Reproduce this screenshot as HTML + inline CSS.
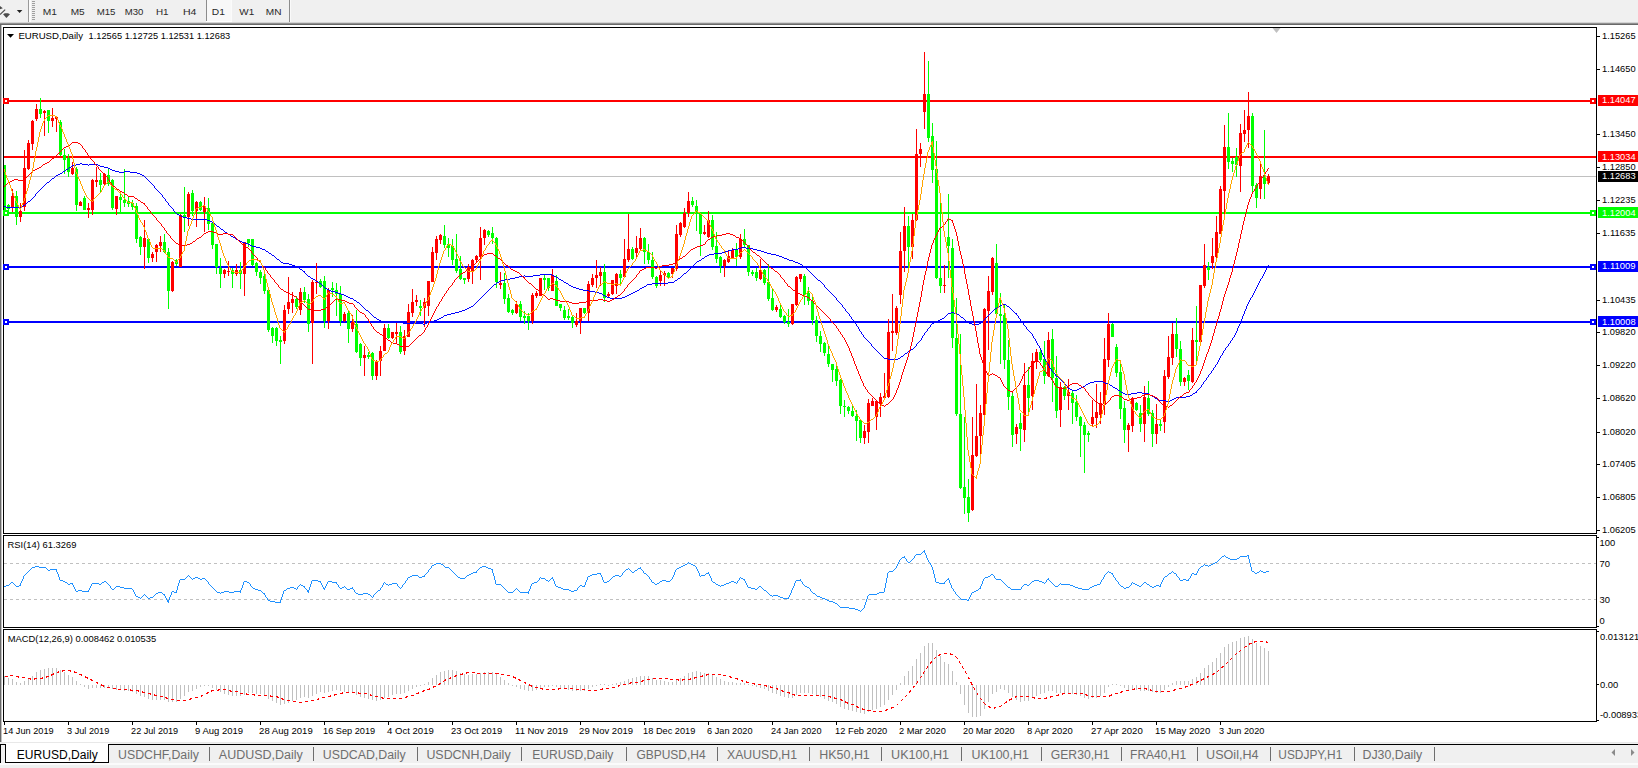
<!DOCTYPE html>
<html><head><meta charset="utf-8"><title>EURUSD,Daily</title>
<style>html,body{margin:0;padding:0;background:#fff;overflow:hidden}body{width:1638px;height:768px;font-family:"Liberation Sans",sans-serif}</style></head><body>
<svg width="1638" height="768" viewBox="0 0 1638 768" style="display:block;font-family:'Liberation Sans',sans-serif">
<rect width="1638" height="768" fill="#fff"/>
<g shape-rendering="crispEdges">
<rect x="4" y="176" width="1592" height="1" fill="#c0c0c0"/>
<rect x="4" y="100" width="1593" height="2" fill="#ff0000"/>
<rect x="4" y="156" width="1593" height="2" fill="#ff0000"/>
<rect x="4" y="212" width="1593" height="2" fill="#00ff00"/>
<rect x="4" y="266" width="1593" height="2" fill="#0000ff"/>
<rect x="4" y="321" width="1593" height="2" fill="#0000ff"/>
<rect x="4" y="165" width="1" height="50" fill="#00ff00"/>
<rect x="3" y="165" width="3" height="47" fill="#00ff00"/>
<rect x="8" y="204" width="1" height="8" fill="#00ff00"/>
<rect x="7" y="205" width="3" height="4" fill="#00ff00"/>
<rect x="12" y="189" width="1" height="23" fill="#ff0000"/>
<rect x="11" y="196" width="3" height="11" fill="#ff0000"/>
<rect x="16" y="191" width="1" height="34" fill="#00ff00"/>
<rect x="15" y="196" width="3" height="21" fill="#00ff00"/>
<rect x="20" y="203" width="1" height="19" fill="#ff0000"/>
<rect x="19" y="211" width="3" height="6" fill="#ff0000"/>
<rect x="24" y="150" width="1" height="61" fill="#ff0000"/>
<rect x="23" y="168" width="3" height="39" fill="#ff0000"/>
<rect x="28" y="140" width="1" height="30" fill="#ff0000"/>
<rect x="27" y="143" width="3" height="26" fill="#ff0000"/>
<rect x="32" y="120" width="1" height="30" fill="#ff0000"/>
<rect x="31" y="121" width="3" height="23" fill="#ff0000"/>
<rect x="36" y="104" width="1" height="17" fill="#ff0000"/>
<rect x="35" y="109" width="3" height="10" fill="#ff0000"/>
<rect x="40" y="98" width="1" height="20" fill="#00ff00"/>
<rect x="39" y="109" width="3" height="5" fill="#00ff00"/>
<rect x="44" y="110" width="1" height="26" fill="#ff0000"/>
<rect x="43" y="111" width="3" height="2" fill="#ff0000"/>
<rect x="48" y="110" width="1" height="23" fill="#00ff00"/>
<rect x="47" y="110" width="3" height="11" fill="#00ff00"/>
<rect x="52" y="108" width="1" height="19" fill="#ff0000"/>
<rect x="51" y="118" width="3" height="3" fill="#ff0000"/>
<rect x="56" y="117" width="1" height="15" fill="#ff0000"/>
<rect x="55" y="117" width="3" height="2" fill="#ff0000"/>
<rect x="60" y="120" width="1" height="36" fill="#00ff00"/>
<rect x="59" y="122" width="3" height="33" fill="#00ff00"/>
<rect x="64" y="149" width="1" height="25" fill="#00ff00"/>
<rect x="63" y="155" width="3" height="5" fill="#00ff00"/>
<rect x="68" y="154" width="1" height="23" fill="#00ff00"/>
<rect x="67" y="158" width="3" height="14" fill="#00ff00"/>
<rect x="72" y="162" width="1" height="13" fill="#ff0000"/>
<rect x="71" y="168" width="3" height="6" fill="#ff0000"/>
<rect x="76" y="167" width="1" height="44" fill="#00ff00"/>
<rect x="75" y="169" width="3" height="36" fill="#00ff00"/>
<rect x="80" y="201" width="1" height="5" fill="#ff0000"/>
<rect x="79" y="202" width="3" height="4" fill="#ff0000"/>
<rect x="84" y="196" width="1" height="14" fill="#00ff00"/>
<rect x="83" y="198" width="3" height="12" fill="#00ff00"/>
<rect x="88" y="203" width="1" height="15" fill="#ff0000"/>
<rect x="87" y="208" width="3" height="2" fill="#ff0000"/>
<rect x="92" y="179" width="1" height="36" fill="#ff0000"/>
<rect x="91" y="180" width="3" height="30" fill="#ff0000"/>
<rect x="96" y="167" width="1" height="20" fill="#ff0000"/>
<rect x="95" y="180" width="3" height="2" fill="#ff0000"/>
<rect x="100" y="173" width="1" height="19" fill="#00ff00"/>
<rect x="99" y="180" width="3" height="5" fill="#00ff00"/>
<rect x="104" y="173" width="1" height="13" fill="#ff0000"/>
<rect x="103" y="174" width="3" height="10" fill="#ff0000"/>
<rect x="108" y="168" width="1" height="18" fill="#00ff00"/>
<rect x="107" y="175" width="3" height="9" fill="#00ff00"/>
<rect x="112" y="179" width="1" height="31" fill="#00ff00"/>
<rect x="111" y="180" width="3" height="28" fill="#00ff00"/>
<rect x="116" y="196" width="1" height="19" fill="#ff0000"/>
<rect x="115" y="196" width="3" height="13" fill="#ff0000"/>
<rect x="120" y="191" width="1" height="21" fill="#00ff00"/>
<rect x="119" y="197" width="3" height="3" fill="#00ff00"/>
<rect x="124" y="169" width="1" height="38" fill="#00ff00"/>
<rect x="123" y="200" width="3" height="3" fill="#00ff00"/>
<rect x="128" y="197" width="1" height="10" fill="#00ff00"/>
<rect x="127" y="201" width="3" height="3" fill="#00ff00"/>
<rect x="132" y="200" width="1" height="10" fill="#00ff00"/>
<rect x="131" y="203" width="3" height="4" fill="#00ff00"/>
<rect x="136" y="203" width="1" height="40" fill="#00ff00"/>
<rect x="135" y="206" width="3" height="33" fill="#00ff00"/>
<rect x="140" y="236" width="1" height="19" fill="#00ff00"/>
<rect x="139" y="237" width="3" height="10" fill="#00ff00"/>
<rect x="144" y="220" width="1" height="49" fill="#ff0000"/>
<rect x="143" y="238" width="3" height="9" fill="#ff0000"/>
<rect x="148" y="239" width="1" height="24" fill="#00ff00"/>
<rect x="147" y="239" width="3" height="19" fill="#00ff00"/>
<rect x="152" y="252" width="1" height="10" fill="#ff0000"/>
<rect x="151" y="254" width="3" height="4" fill="#ff0000"/>
<rect x="156" y="244" width="1" height="18" fill="#ff0000"/>
<rect x="155" y="245" width="3" height="7" fill="#ff0000"/>
<rect x="160" y="236" width="1" height="16" fill="#ff0000"/>
<rect x="159" y="242" width="3" height="4" fill="#ff0000"/>
<rect x="164" y="234" width="1" height="19" fill="#00ff00"/>
<rect x="163" y="242" width="3" height="10" fill="#00ff00"/>
<rect x="168" y="248" width="1" height="61" fill="#00ff00"/>
<rect x="167" y="252" width="3" height="39" fill="#00ff00"/>
<rect x="172" y="261" width="1" height="31" fill="#ff0000"/>
<rect x="171" y="262" width="3" height="29" fill="#ff0000"/>
<rect x="176" y="259" width="1" height="7" fill="#00ff00"/>
<rect x="175" y="260" width="3" height="4" fill="#00ff00"/>
<rect x="180" y="214" width="1" height="53" fill="#ff0000"/>
<rect x="179" y="215" width="3" height="52" fill="#ff0000"/>
<rect x="184" y="187" width="1" height="45" fill="#00ff00"/>
<rect x="183" y="215" width="3" height="2" fill="#00ff00"/>
<rect x="188" y="192" width="1" height="34" fill="#ff0000"/>
<rect x="187" y="194" width="3" height="23" fill="#ff0000"/>
<rect x="192" y="190" width="1" height="26" fill="#00ff00"/>
<rect x="191" y="193" width="3" height="18" fill="#00ff00"/>
<rect x="196" y="201" width="1" height="26" fill="#ff0000"/>
<rect x="195" y="202" width="3" height="9" fill="#ff0000"/>
<rect x="200" y="201" width="1" height="10" fill="#00ff00"/>
<rect x="199" y="202" width="3" height="8" fill="#00ff00"/>
<rect x="204" y="197" width="1" height="35" fill="#ff0000"/>
<rect x="203" y="206" width="3" height="6" fill="#ff0000"/>
<rect x="208" y="198" width="1" height="32" fill="#00ff00"/>
<rect x="207" y="208" width="3" height="16" fill="#00ff00"/>
<rect x="212" y="222" width="1" height="27" fill="#00ff00"/>
<rect x="211" y="223" width="3" height="22" fill="#00ff00"/>
<rect x="216" y="244" width="1" height="30" fill="#00ff00"/>
<rect x="215" y="244" width="3" height="23" fill="#00ff00"/>
<rect x="220" y="258" width="1" height="30" fill="#00ff00"/>
<rect x="219" y="268" width="3" height="6" fill="#00ff00"/>
<rect x="224" y="269" width="1" height="9" fill="#ff0000"/>
<rect x="223" y="270" width="3" height="4" fill="#ff0000"/>
<rect x="228" y="261" width="1" height="15" fill="#ff0000"/>
<rect x="227" y="271" width="3" height="1" fill="#ff0000"/>
<rect x="232" y="268" width="1" height="20" fill="#00ff00"/>
<rect x="231" y="270" width="3" height="4" fill="#00ff00"/>
<rect x="236" y="264" width="1" height="12" fill="#ff0000"/>
<rect x="235" y="270" width="3" height="4" fill="#ff0000"/>
<rect x="240" y="262" width="1" height="27" fill="#00ff00"/>
<rect x="239" y="270" width="3" height="4" fill="#00ff00"/>
<rect x="244" y="242" width="1" height="54" fill="#ff0000"/>
<rect x="243" y="242" width="3" height="32" fill="#ff0000"/>
<rect x="248" y="239" width="1" height="8" fill="#00ff00"/>
<rect x="247" y="239" width="3" height="4" fill="#00ff00"/>
<rect x="252" y="239" width="1" height="27" fill="#00ff00"/>
<rect x="251" y="239" width="3" height="26" fill="#00ff00"/>
<rect x="256" y="262" width="1" height="14" fill="#00ff00"/>
<rect x="255" y="263" width="3" height="9" fill="#00ff00"/>
<rect x="260" y="270" width="1" height="14" fill="#00ff00"/>
<rect x="259" y="272" width="3" height="6" fill="#00ff00"/>
<rect x="264" y="271" width="1" height="23" fill="#00ff00"/>
<rect x="263" y="276" width="3" height="15" fill="#00ff00"/>
<rect x="268" y="290" width="1" height="42" fill="#00ff00"/>
<rect x="267" y="290" width="3" height="40" fill="#00ff00"/>
<rect x="272" y="327" width="1" height="16" fill="#00ff00"/>
<rect x="271" y="328" width="3" height="8" fill="#00ff00"/>
<rect x="276" y="327" width="1" height="19" fill="#00ff00"/>
<rect x="275" y="328" width="3" height="13" fill="#00ff00"/>
<rect x="280" y="336" width="1" height="28" fill="#00ff00"/>
<rect x="279" y="340" width="3" height="2" fill="#00ff00"/>
<rect x="284" y="305" width="1" height="39" fill="#ff0000"/>
<rect x="283" y="310" width="3" height="31" fill="#ff0000"/>
<rect x="288" y="277" width="1" height="37" fill="#ff0000"/>
<rect x="287" y="302" width="3" height="7" fill="#ff0000"/>
<rect x="292" y="292" width="1" height="21" fill="#ff0000"/>
<rect x="291" y="299" width="3" height="4" fill="#ff0000"/>
<rect x="296" y="296" width="1" height="13" fill="#00ff00"/>
<rect x="295" y="299" width="3" height="8" fill="#00ff00"/>
<rect x="300" y="288" width="1" height="27" fill="#ff0000"/>
<rect x="299" y="292" width="3" height="18" fill="#ff0000"/>
<rect x="304" y="287" width="1" height="16" fill="#00ff00"/>
<rect x="303" y="292" width="3" height="8" fill="#00ff00"/>
<rect x="308" y="294" width="1" height="38" fill="#00ff00"/>
<rect x="307" y="299" width="3" height="25" fill="#00ff00"/>
<rect x="312" y="280" width="1" height="84" fill="#ff0000"/>
<rect x="311" y="282" width="3" height="41" fill="#ff0000"/>
<rect x="316" y="263" width="1" height="31" fill="#ff0000"/>
<rect x="315" y="282" width="3" height="1" fill="#ff0000"/>
<rect x="320" y="279" width="1" height="9" fill="#00ff00"/>
<rect x="319" y="281" width="3" height="6" fill="#00ff00"/>
<rect x="324" y="276" width="1" height="52" fill="#00ff00"/>
<rect x="323" y="281" width="3" height="40" fill="#00ff00"/>
<rect x="328" y="288" width="1" height="41" fill="#ff0000"/>
<rect x="327" y="290" width="3" height="31" fill="#ff0000"/>
<rect x="332" y="282" width="1" height="15" fill="#00ff00"/>
<rect x="331" y="288" width="3" height="2" fill="#00ff00"/>
<rect x="336" y="283" width="1" height="33" fill="#00ff00"/>
<rect x="335" y="290" width="3" height="4" fill="#00ff00"/>
<rect x="340" y="286" width="1" height="40" fill="#00ff00"/>
<rect x="339" y="294" width="3" height="27" fill="#00ff00"/>
<rect x="344" y="312" width="1" height="10" fill="#ff0000"/>
<rect x="343" y="314" width="3" height="7" fill="#ff0000"/>
<rect x="348" y="311" width="1" height="32" fill="#00ff00"/>
<rect x="347" y="313" width="3" height="16" fill="#00ff00"/>
<rect x="352" y="315" width="1" height="17" fill="#ff0000"/>
<rect x="351" y="322" width="3" height="7" fill="#ff0000"/>
<rect x="356" y="310" width="1" height="43" fill="#00ff00"/>
<rect x="355" y="324" width="3" height="28" fill="#00ff00"/>
<rect x="360" y="343" width="1" height="23" fill="#00ff00"/>
<rect x="359" y="344" width="3" height="14" fill="#00ff00"/>
<rect x="364" y="346" width="1" height="30" fill="#ff0000"/>
<rect x="363" y="355" width="3" height="3" fill="#ff0000"/>
<rect x="368" y="352" width="1" height="7" fill="#00ff00"/>
<rect x="367" y="355" width="3" height="2" fill="#00ff00"/>
<rect x="372" y="352" width="1" height="28" fill="#00ff00"/>
<rect x="371" y="353" width="3" height="23" fill="#00ff00"/>
<rect x="376" y="360" width="1" height="20" fill="#ff0000"/>
<rect x="375" y="361" width="3" height="15" fill="#ff0000"/>
<rect x="380" y="346" width="1" height="30" fill="#ff0000"/>
<rect x="379" y="351" width="3" height="10" fill="#ff0000"/>
<rect x="384" y="324" width="1" height="27" fill="#ff0000"/>
<rect x="383" y="328" width="3" height="23" fill="#ff0000"/>
<rect x="388" y="324" width="1" height="15" fill="#00ff00"/>
<rect x="387" y="328" width="3" height="10" fill="#00ff00"/>
<rect x="392" y="332" width="1" height="7" fill="#ff0000"/>
<rect x="391" y="332" width="3" height="6" fill="#ff0000"/>
<rect x="396" y="323" width="1" height="21" fill="#ff0000"/>
<rect x="395" y="332" width="3" height="2" fill="#ff0000"/>
<rect x="400" y="326" width="1" height="28" fill="#00ff00"/>
<rect x="399" y="332" width="3" height="20" fill="#00ff00"/>
<rect x="404" y="330" width="1" height="25" fill="#ff0000"/>
<rect x="403" y="336" width="3" height="15" fill="#ff0000"/>
<rect x="408" y="304" width="1" height="33" fill="#ff0000"/>
<rect x="407" y="312" width="3" height="25" fill="#ff0000"/>
<rect x="412" y="289" width="1" height="28" fill="#ff0000"/>
<rect x="411" y="302" width="3" height="11" fill="#ff0000"/>
<rect x="416" y="295" width="1" height="11" fill="#ff0000"/>
<rect x="415" y="300" width="3" height="2" fill="#ff0000"/>
<rect x="420" y="300" width="1" height="16" fill="#00ff00"/>
<rect x="419" y="306" width="3" height="2" fill="#00ff00"/>
<rect x="424" y="298" width="1" height="29" fill="#ff0000"/>
<rect x="423" y="302" width="3" height="6" fill="#ff0000"/>
<rect x="428" y="281" width="1" height="35" fill="#ff0000"/>
<rect x="427" y="281" width="3" height="25" fill="#ff0000"/>
<rect x="432" y="247" width="1" height="35" fill="#ff0000"/>
<rect x="431" y="252" width="3" height="30" fill="#ff0000"/>
<rect x="436" y="236" width="1" height="24" fill="#ff0000"/>
<rect x="435" y="239" width="3" height="14" fill="#ff0000"/>
<rect x="440" y="234" width="1" height="10" fill="#ff0000"/>
<rect x="439" y="235" width="3" height="5" fill="#ff0000"/>
<rect x="444" y="225" width="1" height="23" fill="#00ff00"/>
<rect x="443" y="236" width="3" height="9" fill="#00ff00"/>
<rect x="448" y="238" width="1" height="19" fill="#00ff00"/>
<rect x="447" y="244" width="3" height="4" fill="#00ff00"/>
<rect x="452" y="239" width="1" height="26" fill="#00ff00"/>
<rect x="451" y="246" width="3" height="14" fill="#00ff00"/>
<rect x="456" y="234" width="1" height="39" fill="#00ff00"/>
<rect x="455" y="259" width="3" height="12" fill="#00ff00"/>
<rect x="460" y="256" width="1" height="24" fill="#00ff00"/>
<rect x="459" y="269" width="3" height="10" fill="#00ff00"/>
<rect x="464" y="278" width="1" height="6" fill="#00ff00"/>
<rect x="463" y="278" width="3" height="2" fill="#00ff00"/>
<rect x="468" y="264" width="1" height="18" fill="#ff0000"/>
<rect x="467" y="267" width="3" height="12" fill="#ff0000"/>
<rect x="472" y="259" width="1" height="25" fill="#ff0000"/>
<rect x="471" y="260" width="3" height="11" fill="#ff0000"/>
<rect x="476" y="255" width="1" height="7" fill="#ff0000"/>
<rect x="475" y="256" width="3" height="4" fill="#ff0000"/>
<rect x="480" y="227" width="1" height="53" fill="#ff0000"/>
<rect x="479" y="238" width="3" height="19" fill="#ff0000"/>
<rect x="484" y="229" width="1" height="16" fill="#ff0000"/>
<rect x="483" y="230" width="3" height="8" fill="#ff0000"/>
<rect x="488" y="230" width="1" height="7" fill="#00ff00"/>
<rect x="487" y="231" width="3" height="4" fill="#00ff00"/>
<rect x="492" y="227" width="1" height="17" fill="#00ff00"/>
<rect x="491" y="233" width="3" height="5" fill="#00ff00"/>
<rect x="496" y="237" width="1" height="51" fill="#00ff00"/>
<rect x="495" y="238" width="3" height="44" fill="#00ff00"/>
<rect x="500" y="272" width="1" height="17" fill="#ff0000"/>
<rect x="499" y="283" width="3" height="2" fill="#ff0000"/>
<rect x="504" y="273" width="1" height="31" fill="#00ff00"/>
<rect x="503" y="283" width="3" height="16" fill="#00ff00"/>
<rect x="508" y="294" width="1" height="19" fill="#00ff00"/>
<rect x="507" y="298" width="3" height="14" fill="#00ff00"/>
<rect x="512" y="309" width="1" height="6" fill="#00ff00"/>
<rect x="511" y="310" width="3" height="3" fill="#00ff00"/>
<rect x="516" y="301" width="1" height="13" fill="#ff0000"/>
<rect x="515" y="304" width="3" height="9" fill="#ff0000"/>
<rect x="520" y="301" width="1" height="20" fill="#00ff00"/>
<rect x="519" y="304" width="3" height="13" fill="#00ff00"/>
<rect x="524" y="311" width="1" height="13" fill="#00ff00"/>
<rect x="523" y="316" width="3" height="2" fill="#00ff00"/>
<rect x="528" y="313" width="1" height="17" fill="#00ff00"/>
<rect x="527" y="316" width="3" height="5" fill="#00ff00"/>
<rect x="532" y="293" width="1" height="31" fill="#ff0000"/>
<rect x="531" y="295" width="3" height="26" fill="#ff0000"/>
<rect x="536" y="291" width="1" height="7" fill="#ff0000"/>
<rect x="535" y="293" width="3" height="3" fill="#ff0000"/>
<rect x="540" y="278" width="1" height="18" fill="#ff0000"/>
<rect x="539" y="278" width="3" height="18" fill="#ff0000"/>
<rect x="544" y="275" width="1" height="15" fill="#00ff00"/>
<rect x="543" y="278" width="3" height="2" fill="#00ff00"/>
<rect x="548" y="278" width="1" height="13" fill="#00ff00"/>
<rect x="547" y="278" width="3" height="10" fill="#00ff00"/>
<rect x="552" y="269" width="1" height="22" fill="#ff0000"/>
<rect x="551" y="275" width="3" height="16" fill="#ff0000"/>
<rect x="556" y="275" width="1" height="31" fill="#00ff00"/>
<rect x="555" y="281" width="3" height="25" fill="#00ff00"/>
<rect x="560" y="304" width="1" height="7" fill="#00ff00"/>
<rect x="559" y="304" width="3" height="4" fill="#00ff00"/>
<rect x="564" y="306" width="1" height="14" fill="#00ff00"/>
<rect x="563" y="310" width="3" height="8" fill="#00ff00"/>
<rect x="568" y="309" width="1" height="11" fill="#00ff00"/>
<rect x="567" y="316" width="3" height="2" fill="#00ff00"/>
<rect x="572" y="316" width="1" height="12" fill="#00ff00"/>
<rect x="571" y="317" width="3" height="6" fill="#00ff00"/>
<rect x="576" y="313" width="1" height="14" fill="#ff0000"/>
<rect x="575" y="321" width="3" height="4" fill="#ff0000"/>
<rect x="580" y="308" width="1" height="26" fill="#ff0000"/>
<rect x="579" y="308" width="3" height="13" fill="#ff0000"/>
<rect x="584" y="308" width="1" height="6" fill="#00ff00"/>
<rect x="583" y="308" width="3" height="5" fill="#00ff00"/>
<rect x="588" y="281" width="1" height="40" fill="#ff0000"/>
<rect x="587" y="284" width="3" height="29" fill="#ff0000"/>
<rect x="592" y="274" width="1" height="13" fill="#ff0000"/>
<rect x="591" y="278" width="3" height="7" fill="#ff0000"/>
<rect x="596" y="260" width="1" height="28" fill="#ff0000"/>
<rect x="595" y="275" width="3" height="3" fill="#ff0000"/>
<rect x="600" y="267" width="1" height="19" fill="#ff0000"/>
<rect x="599" y="272" width="3" height="4" fill="#ff0000"/>
<rect x="604" y="264" width="1" height="38" fill="#00ff00"/>
<rect x="603" y="272" width="3" height="26" fill="#00ff00"/>
<rect x="608" y="292" width="1" height="6" fill="#ff0000"/>
<rect x="607" y="294" width="3" height="2" fill="#ff0000"/>
<rect x="612" y="280" width="1" height="15" fill="#ff0000"/>
<rect x="611" y="280" width="3" height="14" fill="#ff0000"/>
<rect x="616" y="273" width="1" height="21" fill="#ff0000"/>
<rect x="615" y="274" width="3" height="12" fill="#ff0000"/>
<rect x="620" y="270" width="1" height="14" fill="#00ff00"/>
<rect x="619" y="274" width="3" height="4" fill="#00ff00"/>
<rect x="624" y="239" width="1" height="39" fill="#ff0000"/>
<rect x="623" y="259" width="3" height="18" fill="#ff0000"/>
<rect x="628" y="214" width="1" height="48" fill="#ff0000"/>
<rect x="627" y="249" width="3" height="11" fill="#ff0000"/>
<rect x="632" y="247" width="1" height="13" fill="#00ff00"/>
<rect x="631" y="249" width="3" height="10" fill="#00ff00"/>
<rect x="636" y="236" width="1" height="21" fill="#ff0000"/>
<rect x="635" y="248" width="3" height="5" fill="#ff0000"/>
<rect x="640" y="228" width="1" height="22" fill="#ff0000"/>
<rect x="639" y="238" width="3" height="11" fill="#ff0000"/>
<rect x="644" y="237" width="1" height="27" fill="#00ff00"/>
<rect x="643" y="238" width="3" height="14" fill="#00ff00"/>
<rect x="648" y="244" width="1" height="20" fill="#00ff00"/>
<rect x="647" y="252" width="3" height="8" fill="#00ff00"/>
<rect x="652" y="252" width="1" height="27" fill="#00ff00"/>
<rect x="651" y="260" width="3" height="17" fill="#00ff00"/>
<rect x="656" y="276" width="1" height="12" fill="#00ff00"/>
<rect x="655" y="277" width="3" height="9" fill="#00ff00"/>
<rect x="660" y="270" width="1" height="16" fill="#ff0000"/>
<rect x="659" y="275" width="3" height="6" fill="#ff0000"/>
<rect x="664" y="271" width="1" height="15" fill="#ff0000"/>
<rect x="663" y="273" width="3" height="2" fill="#ff0000"/>
<rect x="668" y="272" width="1" height="6" fill="#00ff00"/>
<rect x="667" y="273" width="3" height="4" fill="#00ff00"/>
<rect x="672" y="268" width="1" height="10" fill="#ff0000"/>
<rect x="671" y="268" width="3" height="6" fill="#ff0000"/>
<rect x="676" y="225" width="1" height="46" fill="#ff0000"/>
<rect x="675" y="234" width="3" height="35" fill="#ff0000"/>
<rect x="680" y="222" width="1" height="15" fill="#ff0000"/>
<rect x="679" y="223" width="3" height="12" fill="#ff0000"/>
<rect x="684" y="208" width="1" height="20" fill="#ff0000"/>
<rect x="683" y="213" width="3" height="14" fill="#ff0000"/>
<rect x="688" y="192" width="1" height="25" fill="#ff0000"/>
<rect x="687" y="201" width="3" height="12" fill="#ff0000"/>
<rect x="692" y="197" width="1" height="10" fill="#00ff00"/>
<rect x="691" y="201" width="3" height="4" fill="#00ff00"/>
<rect x="696" y="200" width="1" height="31" fill="#00ff00"/>
<rect x="695" y="206" width="3" height="5" fill="#00ff00"/>
<rect x="700" y="212" width="1" height="44" fill="#00ff00"/>
<rect x="699" y="212" width="3" height="22" fill="#00ff00"/>
<rect x="704" y="225" width="1" height="10" fill="#ff0000"/>
<rect x="703" y="232" width="3" height="2" fill="#ff0000"/>
<rect x="708" y="211" width="1" height="27" fill="#ff0000"/>
<rect x="707" y="220" width="3" height="17" fill="#ff0000"/>
<rect x="712" y="215" width="1" height="35" fill="#00ff00"/>
<rect x="711" y="220" width="3" height="27" fill="#00ff00"/>
<rect x="716" y="232" width="1" height="31" fill="#00ff00"/>
<rect x="715" y="246" width="3" height="13" fill="#00ff00"/>
<rect x="720" y="256" width="1" height="17" fill="#00ff00"/>
<rect x="719" y="257" width="3" height="9" fill="#00ff00"/>
<rect x="724" y="259" width="1" height="18" fill="#ff0000"/>
<rect x="723" y="260" width="3" height="6" fill="#ff0000"/>
<rect x="728" y="251" width="1" height="12" fill="#ff0000"/>
<rect x="727" y="256" width="3" height="6" fill="#ff0000"/>
<rect x="732" y="248" width="1" height="11" fill="#ff0000"/>
<rect x="731" y="250" width="3" height="8" fill="#ff0000"/>
<rect x="736" y="243" width="1" height="23" fill="#00ff00"/>
<rect x="735" y="249" width="3" height="8" fill="#00ff00"/>
<rect x="740" y="234" width="1" height="25" fill="#ff0000"/>
<rect x="739" y="239" width="3" height="18" fill="#ff0000"/>
<rect x="744" y="229" width="1" height="18" fill="#00ff00"/>
<rect x="743" y="239" width="3" height="6" fill="#00ff00"/>
<rect x="748" y="245" width="1" height="31" fill="#00ff00"/>
<rect x="747" y="245" width="3" height="27" fill="#00ff00"/>
<rect x="752" y="270" width="1" height="6" fill="#00ff00"/>
<rect x="751" y="272" width="3" height="2" fill="#00ff00"/>
<rect x="756" y="268" width="1" height="13" fill="#00ff00"/>
<rect x="755" y="272" width="3" height="6" fill="#00ff00"/>
<rect x="760" y="259" width="1" height="21" fill="#ff0000"/>
<rect x="759" y="270" width="3" height="9" fill="#ff0000"/>
<rect x="764" y="269" width="1" height="16" fill="#00ff00"/>
<rect x="763" y="270" width="3" height="13" fill="#00ff00"/>
<rect x="768" y="264" width="1" height="37" fill="#00ff00"/>
<rect x="767" y="282" width="3" height="17" fill="#00ff00"/>
<rect x="772" y="289" width="1" height="22" fill="#00ff00"/>
<rect x="771" y="298" width="3" height="12" fill="#00ff00"/>
<rect x="776" y="305" width="1" height="7" fill="#ff0000"/>
<rect x="775" y="307" width="3" height="3" fill="#ff0000"/>
<rect x="780" y="304" width="1" height="14" fill="#00ff00"/>
<rect x="779" y="309" width="3" height="8" fill="#00ff00"/>
<rect x="784" y="315" width="1" height="9" fill="#00ff00"/>
<rect x="783" y="316" width="3" height="6" fill="#00ff00"/>
<rect x="788" y="309" width="1" height="18" fill="#00ff00"/>
<rect x="787" y="322" width="3" height="2" fill="#00ff00"/>
<rect x="792" y="304" width="1" height="21" fill="#ff0000"/>
<rect x="791" y="304" width="3" height="20" fill="#ff0000"/>
<rect x="796" y="276" width="1" height="30" fill="#ff0000"/>
<rect x="795" y="277" width="3" height="28" fill="#ff0000"/>
<rect x="800" y="274" width="1" height="8" fill="#ff0000"/>
<rect x="799" y="274" width="3" height="5" fill="#ff0000"/>
<rect x="804" y="274" width="1" height="31" fill="#00ff00"/>
<rect x="803" y="276" width="3" height="19" fill="#00ff00"/>
<rect x="808" y="287" width="1" height="18" fill="#00ff00"/>
<rect x="807" y="293" width="3" height="8" fill="#00ff00"/>
<rect x="812" y="297" width="1" height="28" fill="#00ff00"/>
<rect x="811" y="301" width="3" height="19" fill="#00ff00"/>
<rect x="816" y="316" width="1" height="26" fill="#00ff00"/>
<rect x="815" y="320" width="3" height="16" fill="#00ff00"/>
<rect x="820" y="331" width="1" height="21" fill="#00ff00"/>
<rect x="819" y="336" width="3" height="8" fill="#00ff00"/>
<rect x="824" y="342" width="1" height="14" fill="#00ff00"/>
<rect x="823" y="343" width="3" height="10" fill="#00ff00"/>
<rect x="828" y="346" width="1" height="21" fill="#00ff00"/>
<rect x="827" y="354" width="3" height="10" fill="#00ff00"/>
<rect x="832" y="364" width="1" height="18" fill="#00ff00"/>
<rect x="831" y="364" width="3" height="6" fill="#00ff00"/>
<rect x="836" y="364" width="1" height="22" fill="#00ff00"/>
<rect x="835" y="369" width="3" height="12" fill="#00ff00"/>
<rect x="840" y="379" width="1" height="35" fill="#00ff00"/>
<rect x="839" y="380" width="3" height="26" fill="#00ff00"/>
<rect x="844" y="400" width="1" height="17" fill="#00ff00"/>
<rect x="843" y="406" width="3" height="1" fill="#00ff00"/>
<rect x="848" y="406" width="1" height="8" fill="#00ff00"/>
<rect x="847" y="407" width="3" height="4" fill="#00ff00"/>
<rect x="852" y="406" width="1" height="11" fill="#00ff00"/>
<rect x="851" y="411" width="3" height="5" fill="#00ff00"/>
<rect x="856" y="410" width="1" height="31" fill="#00ff00"/>
<rect x="855" y="416" width="3" height="5" fill="#00ff00"/>
<rect x="860" y="419" width="1" height="24" fill="#00ff00"/>
<rect x="859" y="420" width="3" height="18" fill="#00ff00"/>
<rect x="864" y="425" width="1" height="19" fill="#ff0000"/>
<rect x="863" y="431" width="3" height="7" fill="#ff0000"/>
<rect x="868" y="399" width="1" height="44" fill="#ff0000"/>
<rect x="867" y="403" width="3" height="29" fill="#ff0000"/>
<rect x="872" y="398" width="1" height="8" fill="#ff0000"/>
<rect x="871" y="401" width="3" height="5" fill="#ff0000"/>
<rect x="876" y="400" width="1" height="30" fill="#ff0000"/>
<rect x="875" y="401" width="3" height="16" fill="#ff0000"/>
<rect x="880" y="393" width="1" height="24" fill="#ff0000"/>
<rect x="879" y="397" width="3" height="7" fill="#ff0000"/>
<rect x="884" y="373" width="1" height="26" fill="#ff0000"/>
<rect x="883" y="396" width="3" height="2" fill="#ff0000"/>
<rect x="888" y="319" width="1" height="79" fill="#ff0000"/>
<rect x="887" y="332" width="3" height="65" fill="#ff0000"/>
<rect x="892" y="294" width="1" height="57" fill="#ff0000"/>
<rect x="891" y="331" width="3" height="2" fill="#ff0000"/>
<rect x="896" y="306" width="1" height="29" fill="#ff0000"/>
<rect x="895" y="308" width="3" height="25" fill="#ff0000"/>
<rect x="900" y="232" width="1" height="72" fill="#ff0000"/>
<rect x="899" y="251" width="3" height="44" fill="#ff0000"/>
<rect x="904" y="207" width="1" height="65" fill="#ff0000"/>
<rect x="903" y="226" width="3" height="25" fill="#ff0000"/>
<rect x="908" y="216" width="1" height="54" fill="#00ff00"/>
<rect x="907" y="226" width="3" height="21" fill="#00ff00"/>
<rect x="912" y="214" width="1" height="45" fill="#ff0000"/>
<rect x="911" y="220" width="3" height="27" fill="#ff0000"/>
<rect x="916" y="129" width="1" height="92" fill="#ff0000"/>
<rect x="915" y="154" width="3" height="66" fill="#ff0000"/>
<rect x="920" y="143" width="1" height="24" fill="#ff0000"/>
<rect x="919" y="149" width="3" height="5" fill="#ff0000"/>
<rect x="924" y="52" width="1" height="77" fill="#ff0000"/>
<rect x="923" y="94" width="3" height="18" fill="#ff0000"/>
<rect x="928" y="61" width="1" height="81" fill="#00ff00"/>
<rect x="927" y="94" width="3" height="44" fill="#00ff00"/>
<rect x="932" y="123" width="1" height="60" fill="#00ff00"/>
<rect x="931" y="136" width="3" height="34" fill="#00ff00"/>
<rect x="936" y="141" width="1" height="138" fill="#00ff00"/>
<rect x="935" y="169" width="3" height="109" fill="#00ff00"/>
<rect x="940" y="199" width="1" height="94" fill="#00ff00"/>
<rect x="939" y="278" width="3" height="8" fill="#00ff00"/>
<rect x="944" y="265" width="1" height="28" fill="#ff0000"/>
<rect x="943" y="285" width="3" height="1" fill="#ff0000"/>
<rect x="948" y="194" width="1" height="84" fill="#00ff00"/>
<rect x="947" y="237" width="3" height="9" fill="#00ff00"/>
<rect x="952" y="239" width="1" height="109" fill="#00ff00"/>
<rect x="951" y="248" width="3" height="90" fill="#00ff00"/>
<rect x="956" y="298" width="1" height="118" fill="#00ff00"/>
<rect x="955" y="338" width="3" height="76" fill="#00ff00"/>
<rect x="960" y="334" width="1" height="155" fill="#00ff00"/>
<rect x="959" y="414" width="3" height="74" fill="#00ff00"/>
<rect x="964" y="417" width="1" height="97" fill="#00ff00"/>
<rect x="963" y="487" width="3" height="11" fill="#00ff00"/>
<rect x="968" y="479" width="1" height="43" fill="#00ff00"/>
<rect x="967" y="497" width="3" height="16" fill="#00ff00"/>
<rect x="972" y="417" width="1" height="94" fill="#ff0000"/>
<rect x="971" y="455" width="3" height="55" fill="#ff0000"/>
<rect x="976" y="384" width="1" height="73" fill="#ff0000"/>
<rect x="975" y="436" width="3" height="20" fill="#ff0000"/>
<rect x="980" y="405" width="1" height="53" fill="#ff0000"/>
<rect x="979" y="413" width="3" height="23" fill="#ff0000"/>
<rect x="984" y="308" width="1" height="109" fill="#ff0000"/>
<rect x="983" y="309" width="3" height="106" fill="#ff0000"/>
<rect x="988" y="276" width="1" height="74" fill="#ff0000"/>
<rect x="987" y="291" width="3" height="20" fill="#ff0000"/>
<rect x="992" y="257" width="1" height="38" fill="#ff0000"/>
<rect x="991" y="258" width="3" height="34" fill="#ff0000"/>
<rect x="996" y="244" width="1" height="71" fill="#00ff00"/>
<rect x="995" y="263" width="3" height="51" fill="#00ff00"/>
<rect x="1000" y="293" width="1" height="71" fill="#00ff00"/>
<rect x="999" y="314" width="3" height="2" fill="#00ff00"/>
<rect x="1004" y="304" width="1" height="65" fill="#00ff00"/>
<rect x="1003" y="315" width="3" height="45" fill="#00ff00"/>
<rect x="1008" y="340" width="1" height="70" fill="#00ff00"/>
<rect x="1007" y="360" width="3" height="37" fill="#00ff00"/>
<rect x="1012" y="392" width="1" height="55" fill="#00ff00"/>
<rect x="1011" y="396" width="3" height="39" fill="#00ff00"/>
<rect x="1016" y="424" width="1" height="20" fill="#ff0000"/>
<rect x="1015" y="427" width="3" height="7" fill="#ff0000"/>
<rect x="1020" y="413" width="1" height="38" fill="#00ff00"/>
<rect x="1019" y="423" width="3" height="6" fill="#00ff00"/>
<rect x="1024" y="363" width="1" height="79" fill="#ff0000"/>
<rect x="1023" y="385" width="3" height="45" fill="#ff0000"/>
<rect x="1028" y="367" width="1" height="49" fill="#00ff00"/>
<rect x="1027" y="385" width="3" height="13" fill="#00ff00"/>
<rect x="1032" y="353" width="1" height="57" fill="#ff0000"/>
<rect x="1031" y="361" width="3" height="35" fill="#ff0000"/>
<rect x="1036" y="349" width="1" height="20" fill="#ff0000"/>
<rect x="1035" y="352" width="3" height="10" fill="#ff0000"/>
<rect x="1040" y="350" width="1" height="12" fill="#00ff00"/>
<rect x="1039" y="352" width="3" height="8" fill="#00ff00"/>
<rect x="1044" y="341" width="1" height="43" fill="#00ff00"/>
<rect x="1043" y="359" width="3" height="17" fill="#00ff00"/>
<rect x="1048" y="332" width="1" height="45" fill="#ff0000"/>
<rect x="1047" y="340" width="3" height="36" fill="#ff0000"/>
<rect x="1052" y="329" width="1" height="73" fill="#00ff00"/>
<rect x="1051" y="339" width="3" height="39" fill="#00ff00"/>
<rect x="1056" y="356" width="1" height="62" fill="#00ff00"/>
<rect x="1055" y="378" width="3" height="33" fill="#00ff00"/>
<rect x="1060" y="382" width="1" height="45" fill="#ff0000"/>
<rect x="1059" y="387" width="3" height="23" fill="#ff0000"/>
<rect x="1064" y="386" width="1" height="14" fill="#00ff00"/>
<rect x="1063" y="387" width="3" height="9" fill="#00ff00"/>
<rect x="1068" y="379" width="1" height="31" fill="#ff0000"/>
<rect x="1067" y="392" width="3" height="4" fill="#ff0000"/>
<rect x="1072" y="390" width="1" height="34" fill="#00ff00"/>
<rect x="1071" y="393" width="3" height="10" fill="#00ff00"/>
<rect x="1076" y="395" width="1" height="26" fill="#00ff00"/>
<rect x="1075" y="402" width="3" height="15" fill="#00ff00"/>
<rect x="1080" y="416" width="1" height="41" fill="#00ff00"/>
<rect x="1079" y="417" width="3" height="9" fill="#00ff00"/>
<rect x="1084" y="422" width="1" height="51" fill="#00ff00"/>
<rect x="1083" y="425" width="3" height="10" fill="#00ff00"/>
<rect x="1088" y="431" width="1" height="11" fill="#00ff00"/>
<rect x="1087" y="433" width="3" height="2" fill="#00ff00"/>
<rect x="1092" y="400" width="1" height="27" fill="#ff0000"/>
<rect x="1091" y="417" width="3" height="7" fill="#ff0000"/>
<rect x="1096" y="384" width="1" height="44" fill="#ff0000"/>
<rect x="1095" y="412" width="3" height="6" fill="#ff0000"/>
<rect x="1100" y="392" width="1" height="32" fill="#ff0000"/>
<rect x="1099" y="403" width="3" height="12" fill="#ff0000"/>
<rect x="1104" y="338" width="1" height="77" fill="#ff0000"/>
<rect x="1103" y="359" width="3" height="45" fill="#ff0000"/>
<rect x="1108" y="313" width="1" height="54" fill="#ff0000"/>
<rect x="1107" y="324" width="3" height="36" fill="#ff0000"/>
<rect x="1112" y="323" width="1" height="14" fill="#00ff00"/>
<rect x="1111" y="324" width="3" height="13" fill="#00ff00"/>
<rect x="1116" y="344" width="1" height="33" fill="#00ff00"/>
<rect x="1115" y="347" width="3" height="26" fill="#00ff00"/>
<rect x="1120" y="362" width="1" height="57" fill="#00ff00"/>
<rect x="1119" y="372" width="3" height="37" fill="#00ff00"/>
<rect x="1124" y="401" width="1" height="42" fill="#00ff00"/>
<rect x="1123" y="408" width="3" height="22" fill="#00ff00"/>
<rect x="1128" y="423" width="1" height="29" fill="#ff0000"/>
<rect x="1127" y="425" width="3" height="5" fill="#ff0000"/>
<rect x="1132" y="397" width="1" height="35" fill="#ff0000"/>
<rect x="1131" y="398" width="3" height="28" fill="#ff0000"/>
<rect x="1136" y="402" width="1" height="9" fill="#00ff00"/>
<rect x="1135" y="403" width="3" height="7" fill="#00ff00"/>
<rect x="1140" y="405" width="1" height="27" fill="#00ff00"/>
<rect x="1139" y="413" width="3" height="11" fill="#00ff00"/>
<rect x="1144" y="386" width="1" height="56" fill="#ff0000"/>
<rect x="1143" y="397" width="3" height="27" fill="#ff0000"/>
<rect x="1148" y="381" width="1" height="35" fill="#00ff00"/>
<rect x="1147" y="398" width="3" height="16" fill="#00ff00"/>
<rect x="1152" y="410" width="1" height="37" fill="#00ff00"/>
<rect x="1151" y="413" width="3" height="21" fill="#00ff00"/>
<rect x="1156" y="404" width="1" height="40" fill="#ff0000"/>
<rect x="1155" y="424" width="3" height="10" fill="#ff0000"/>
<rect x="1160" y="420" width="1" height="11" fill="#00ff00"/>
<rect x="1159" y="424" width="3" height="2" fill="#00ff00"/>
<rect x="1164" y="370" width="1" height="63" fill="#ff0000"/>
<rect x="1163" y="376" width="3" height="46" fill="#ff0000"/>
<rect x="1168" y="336" width="1" height="43" fill="#ff0000"/>
<rect x="1167" y="357" width="3" height="20" fill="#ff0000"/>
<rect x="1172" y="323" width="1" height="42" fill="#ff0000"/>
<rect x="1171" y="334" width="3" height="24" fill="#ff0000"/>
<rect x="1176" y="318" width="1" height="39" fill="#00ff00"/>
<rect x="1175" y="334" width="3" height="15" fill="#00ff00"/>
<rect x="1180" y="341" width="1" height="45" fill="#00ff00"/>
<rect x="1179" y="349" width="3" height="33" fill="#00ff00"/>
<rect x="1184" y="377" width="1" height="9" fill="#ff0000"/>
<rect x="1183" y="378" width="3" height="4" fill="#ff0000"/>
<rect x="1188" y="370" width="1" height="20" fill="#00ff00"/>
<rect x="1187" y="375" width="3" height="6" fill="#00ff00"/>
<rect x="1192" y="328" width="1" height="55" fill="#ff0000"/>
<rect x="1191" y="340" width="3" height="42" fill="#ff0000"/>
<rect x="1196" y="306" width="1" height="55" fill="#00ff00"/>
<rect x="1195" y="340" width="3" height="2" fill="#00ff00"/>
<rect x="1200" y="285" width="1" height="57" fill="#ff0000"/>
<rect x="1199" y="285" width="3" height="57" fill="#ff0000"/>
<rect x="1204" y="244" width="1" height="44" fill="#ff0000"/>
<rect x="1203" y="265" width="3" height="21" fill="#ff0000"/>
<rect x="1208" y="262" width="1" height="18" fill="#00ff00"/>
<rect x="1207" y="267" width="3" height="3" fill="#00ff00"/>
<rect x="1212" y="238" width="1" height="31" fill="#ff0000"/>
<rect x="1211" y="256" width="3" height="7" fill="#ff0000"/>
<rect x="1216" y="216" width="1" height="43" fill="#ff0000"/>
<rect x="1215" y="232" width="3" height="25" fill="#ff0000"/>
<rect x="1220" y="186" width="1" height="48" fill="#ff0000"/>
<rect x="1219" y="189" width="3" height="45" fill="#ff0000"/>
<rect x="1224" y="125" width="1" height="92" fill="#ff0000"/>
<rect x="1223" y="147" width="3" height="44" fill="#ff0000"/>
<rect x="1228" y="113" width="1" height="56" fill="#00ff00"/>
<rect x="1227" y="147" width="3" height="15" fill="#00ff00"/>
<rect x="1232" y="158" width="1" height="14" fill="#00ff00"/>
<rect x="1231" y="161" width="3" height="3" fill="#00ff00"/>
<rect x="1236" y="148" width="1" height="29" fill="#00ff00"/>
<rect x="1235" y="157" width="3" height="8" fill="#00ff00"/>
<rect x="1240" y="124" width="1" height="68" fill="#ff0000"/>
<rect x="1239" y="133" width="3" height="33" fill="#ff0000"/>
<rect x="1244" y="110" width="1" height="32" fill="#ff0000"/>
<rect x="1243" y="130" width="3" height="4" fill="#ff0000"/>
<rect x="1248" y="92" width="1" height="56" fill="#ff0000"/>
<rect x="1247" y="116" width="3" height="14" fill="#ff0000"/>
<rect x="1252" y="113" width="1" height="79" fill="#00ff00"/>
<rect x="1251" y="116" width="3" height="70" fill="#00ff00"/>
<rect x="1256" y="183" width="1" height="25" fill="#00ff00"/>
<rect x="1255" y="185" width="3" height="13" fill="#00ff00"/>
<rect x="1260" y="163" width="1" height="36" fill="#ff0000"/>
<rect x="1259" y="176" width="3" height="13" fill="#ff0000"/>
<rect x="1264" y="130" width="1" height="69" fill="#00ff00"/>
<rect x="1263" y="175" width="3" height="9" fill="#00ff00"/>
<rect x="1268" y="174" width="1" height="11" fill="#ff0000"/>
<rect x="1267" y="176" width="3" height="7" fill="#ff0000"/>
</g>
<path d="M4.5 206v1M5.5 206v1M6.5 207v1M7.5 207v1M8.5 207v1M9.5 207v1M10.5 207v1M11.5 207v1M12.5 207v1M13.5 207v1M14.5 207v1M15.5 207v1M16.5 207v1M17.5 207v1M18.5 207v1M19.5 207v1M20.5 207v1M21.5 206v1M22.5 206v1M23.5 205v1M24.5 205v1M25.5 204v1M26.5 203v1M27.5 202v1M28.5 201v1M29.5 201v1M30.5 200v1M31.5 199v1M32.5 198v1M33.5 197v1M34.5 196v1M35.5 194v2M36.5 193v1M37.5 192v1M38.5 191v1M39.5 190v1M40.5 189v1M41.5 188v1M42.5 187v1M43.5 186v1M44.5 185v1M45.5 184v1M46.5 183v1M47.5 182v1M48.5 182v1M49.5 181v1M50.5 180v1M51.5 179v1M52.5 178v1M53.5 178v1M54.5 177v1M55.5 176v1M56.5 175v1M57.5 175v1M58.5 174v1M59.5 174v1M60.5 173v1M61.5 173v1M62.5 172v1M63.5 171v1M64.5 171v1M65.5 170v1M66.5 169v1M67.5 169v1M68.5 168v1M69.5 167v1M70.5 167v1M71.5 166v1M72.5 165v1M73.5 165v1M74.5 165v1M75.5 165v1M76.5 164v1M77.5 164v1M78.5 164v1M79.5 164v1M80.5 163v1M81.5 163v1M82.5 164v1M83.5 164v1M84.5 164v1M85.5 164v1M86.5 164v1M87.5 164v1M88.5 165v1M89.5 164v1M90.5 164v1M91.5 164v1M92.5 164v1M93.5 164v1M94.5 164v1M95.5 164v1M96.5 164v1M97.5 164v1M98.5 165v1M99.5 165v1M100.5 166v1M101.5 166v1M102.5 166v1M103.5 166v1M104.5 167v1M105.5 167v1M106.5 167v1M107.5 167v1M108.5 168v1M109.5 168v1M110.5 169v1M111.5 169v1M112.5 170v1M113.5 170v1M114.5 170v1M115.5 171v1M116.5 171v1M117.5 171v1M118.5 171v1M119.5 172v1M120.5 172v1M121.5 172v1M122.5 172v1M123.5 172v1M124.5 171v1M125.5 171v1M126.5 171v1M127.5 171v1M128.5 171v1M129.5 171v1M130.5 172v1M131.5 172v1M132.5 172v1M133.5 172v1M134.5 172v1M135.5 172v1M136.5 172v1M137.5 173v1M138.5 173v1M139.5 173v1M140.5 174v1M141.5 174v1M142.5 175v1M143.5 175v1M144.5 176v1M145.5 177v1M146.5 178v1M147.5 179v1M148.5 180v1M149.5 181v1M150.5 182v1M151.5 183v1M152.5 184v1M153.5 185v1M154.5 186v2M155.5 188v1M156.5 189v1M157.5 190v1M158.5 191v1M159.5 192v1M160.5 193v1M161.5 194v1M162.5 195v2M163.5 197v1M164.5 198v1M165.5 199v2M166.5 201v1M167.5 202v1M168.5 203v2M169.5 205v1M170.5 206v1M171.5 207v1M172.5 208v1M173.5 209v2M174.5 211v1M175.5 212v1M176.5 213v1M177.5 214v1M178.5 214v1M179.5 215v1M180.5 215v1M181.5 216v1M182.5 216v1M183.5 217v1M184.5 217v1M185.5 217v1M186.5 217v1M187.5 218v1M188.5 218v1M189.5 218v1M190.5 218v1M191.5 219v1M192.5 219v1M193.5 219v1M194.5 219v1M195.5 219v1M196.5 219v1M197.5 219v1M198.5 219v1M199.5 219v1M200.5 219v1M201.5 219v1M202.5 219v1M203.5 219v1M204.5 219v1M205.5 219v1M206.5 219v1M207.5 220v1M208.5 220v1M209.5 220v1M210.5 221v1M211.5 221v1M212.5 222v1M213.5 223v1M214.5 223v1M215.5 224v1M216.5 225v1M217.5 226v1M218.5 226v1M219.5 227v1M220.5 228v1M221.5 229v1M222.5 229v1M223.5 230v1M224.5 231v1M225.5 232v1M226.5 232v1M227.5 233v1M228.5 234v1M229.5 234v1M230.5 235v1M231.5 236v1M232.5 236v1M233.5 237v1M234.5 237v1M235.5 238v1M236.5 239v1M237.5 239v1M238.5 240v1M239.5 240v1M240.5 241v1M241.5 241v1M242.5 242v1M243.5 242v1M244.5 242v1M245.5 243v1M246.5 243v1M247.5 243v1M248.5 244v1M249.5 244v1M250.5 245v1M251.5 245v1M252.5 246v1M253.5 246v1M254.5 246v1M255.5 246v1M256.5 247v1M257.5 247v1M258.5 247v1M259.5 247v1M260.5 248v1M261.5 248v1M262.5 249v1M263.5 249v1M264.5 249v1M265.5 250v1M266.5 251v1M267.5 251v1M268.5 252v1M269.5 253v1M270.5 253v1M271.5 254v1M272.5 255v1M273.5 255v1M274.5 256v1M275.5 257v1M276.5 258v1M277.5 259v1M278.5 259v1M279.5 260v1M280.5 261v1M281.5 262v1M282.5 262v1M283.5 263v1M284.5 263v1M285.5 263v1M286.5 263v1M287.5 263v1M288.5 263v1M289.5 264v1M290.5 264v1M291.5 264v1M292.5 265v1M293.5 265v1M294.5 265v1M295.5 266v1M296.5 266v1M297.5 267v1M298.5 267v1M299.5 268v1M300.5 269v1M301.5 269v1M302.5 270v1M303.5 271v1M304.5 271v2M305.5 273v1M306.5 274v1M307.5 275v1M308.5 276v1M309.5 276v1M310.5 277v1M311.5 278v1M312.5 278v1M313.5 279v1M314.5 279v1M315.5 280v1M316.5 281v1M317.5 281v1M318.5 282v1M319.5 283v1M320.5 283v1M321.5 284v1M322.5 285v1M323.5 286v1M324.5 287v1M325.5 288v1M326.5 288v1M327.5 289v1M328.5 289v1M329.5 290v1M330.5 290v1M331.5 291v1M332.5 291v1M333.5 291v1M334.5 291v1M335.5 292v1M336.5 292v1M337.5 292v1M338.5 293v1M339.5 293v1M340.5 293v1M341.5 294v1M342.5 294v1M343.5 294v1M344.5 295v1M345.5 295v1M346.5 296v1M347.5 296v1M348.5 297v1M349.5 297v1M350.5 298v1M351.5 298v1M352.5 298v1M353.5 299v1M354.5 300v1M355.5 300v1M356.5 301v1M357.5 302v1M358.5 302v1M359.5 303v1M360.5 304v1M361.5 305v1M362.5 306v1M363.5 307v1M364.5 308v1M365.5 309v1M366.5 310v1M367.5 310v1M368.5 311v1M369.5 312v1M370.5 313v1M371.5 314v1M372.5 315v1M373.5 316v1M374.5 317v1M375.5 317v1M376.5 318v1M377.5 319v1M378.5 319v1M379.5 320v1M380.5 320v1M381.5 321v1M382.5 321v1M383.5 321v1M384.5 322v1M385.5 322v1M386.5 322v1M387.5 322v1M388.5 322v1M389.5 322v1M390.5 322v1M391.5 322v1M392.5 322v1M393.5 322v1M394.5 322v1M395.5 322v1M396.5 322v1M397.5 322v1M398.5 322v1M399.5 322v1M400.5 322v1M401.5 322v1M402.5 322v1M403.5 323v1M404.5 323v1M405.5 323v1M406.5 323v1M407.5 323v1M408.5 323v1M409.5 323v1M410.5 323v1M411.5 323v1M412.5 323v1M413.5 323v1M414.5 323v1M415.5 323v1M416.5 323v1M417.5 323v1M418.5 323v1M419.5 323v1M420.5 323v1M421.5 323v1M422.5 323v1M423.5 324v1M424.5 324v1M425.5 323v1M426.5 323v1M427.5 322v1M428.5 322v1M429.5 322v1M430.5 322v1M431.5 321v1M432.5 321v1M433.5 321v1M434.5 320v1M435.5 320v1M436.5 320v1M437.5 319v1M438.5 319v1M439.5 318v1M440.5 318v1M441.5 317v1M442.5 317v1M443.5 316v1M444.5 315v1M445.5 315v1M446.5 315v1M447.5 314v1M448.5 314v1M449.5 314v1M450.5 314v1M451.5 313v1M452.5 313v1M453.5 313v1M454.5 313v1M455.5 312v1M456.5 312v1M457.5 312v1M458.5 312v1M459.5 311v1M460.5 311v1M461.5 311v1M462.5 310v1M463.5 310v1M464.5 310v1M465.5 309v1M466.5 309v1M467.5 308v1M468.5 308v1M469.5 307v1M470.5 307v1M471.5 306v1M472.5 306v1M473.5 305v1M474.5 304v1M475.5 303v1M476.5 302v1M477.5 301v1M478.5 300v1M479.5 299v1M480.5 298v1M481.5 297v1M482.5 296v1M483.5 295v1M484.5 294v1M485.5 293v1M486.5 292v1M487.5 291v1M488.5 290v1M489.5 289v1M490.5 288v1M491.5 287v1M492.5 286v1M493.5 285v1M494.5 284v1M495.5 284v1M496.5 283v1M497.5 282v1M498.5 282v1M499.5 281v1M500.5 281v1M501.5 280v1M502.5 280v1M503.5 280v1M504.5 280v1M505.5 279v1M506.5 279v1M507.5 279v1M508.5 279v1M509.5 279v1M510.5 278v1M511.5 278v1M512.5 278v1M513.5 278v1M514.5 278v1M515.5 277v1M516.5 277v1M517.5 277v1M518.5 277v1M519.5 276v1M520.5 276v1M521.5 276v1M522.5 276v1M523.5 276v1M524.5 275v1M525.5 276v1M526.5 276v1M527.5 276v1M528.5 276v1M529.5 276v1M530.5 276v1M531.5 276v1M532.5 276v1M533.5 275v1M534.5 275v1M535.5 275v1M536.5 275v1M537.5 275v1M538.5 275v1M539.5 275v1M540.5 274v1M541.5 274v1M542.5 274v1M543.5 274v1M544.5 274v1M545.5 274v1M546.5 274v1M547.5 274v1M548.5 274v1M549.5 274v1M550.5 274v1M551.5 274v1M552.5 275v1M553.5 275v1M554.5 276v1M555.5 276v1M556.5 277v1M557.5 277v1M558.5 278v1M559.5 279v1M560.5 279v1M561.5 280v1M562.5 280v1M563.5 281v1M564.5 282v1M565.5 282v1M566.5 283v1M567.5 283v1M568.5 284v1M569.5 285v1M570.5 285v1M571.5 286v1M572.5 286v1M573.5 287v1M574.5 287v1M575.5 287v1M576.5 288v1M577.5 288v1M578.5 288v1M579.5 289v1M580.5 289v1M581.5 289v1M582.5 289v1M583.5 290v1M584.5 290v1M585.5 290v1M586.5 290v1M587.5 290v1M588.5 290v1M589.5 291v1M590.5 291v1M591.5 291v1M592.5 291v1M593.5 291v1M594.5 291v1M595.5 292v1M596.5 292v1M597.5 292v1M598.5 292v1M599.5 293v1M600.5 293v1M601.5 293v1M602.5 294v1M603.5 295v1M604.5 295v1M605.5 296v1M606.5 296v1M607.5 297v1M608.5 297v1M609.5 297v1M610.5 298v1M611.5 298v1M612.5 298v1M613.5 298v1M614.5 298v1M615.5 298v1M616.5 298v1M617.5 298v1M618.5 298v1M619.5 298v1M620.5 298v1M621.5 298v1M622.5 297v1M623.5 297v1M624.5 297v1M625.5 296v1M626.5 296v1M627.5 295v1M628.5 295v1M629.5 294v1M630.5 294v1M631.5 293v1M632.5 293v1M633.5 292v1M634.5 292v1M635.5 291v1M636.5 291v1M637.5 290v1M638.5 290v1M639.5 289v1M640.5 288v1M641.5 288v1M642.5 287v1M643.5 287v1M644.5 286v1M645.5 286v1M646.5 285v1M647.5 284v1M648.5 284v1M649.5 284v1M650.5 284v1M651.5 284v1M652.5 283v1M653.5 283v1M654.5 283v1M655.5 283v1M656.5 283v1M657.5 283v1M658.5 283v1M659.5 283v1M660.5 283v1M661.5 283v1M662.5 283v1M663.5 283v1M664.5 283v1M665.5 283v1M666.5 283v1M667.5 283v1M668.5 282v1M669.5 282v1M670.5 282v1M671.5 282v1M672.5 282v1M673.5 282v1M674.5 281v1M675.5 280v1M676.5 280v1M677.5 279v1M678.5 278v1M679.5 278v1M680.5 277v1M681.5 276v1M682.5 275v1M683.5 274v1M684.5 273v1M685.5 273v1M686.5 272v1M687.5 271v1M688.5 270v1M689.5 269v1M690.5 268v1M691.5 267v1M692.5 266v1M693.5 265v1M694.5 264v1M695.5 263v1M696.5 262v1M697.5 261v1M698.5 261v1M699.5 260v1M700.5 260v1M701.5 259v1M702.5 258v1M703.5 258v1M704.5 257v1M705.5 256v1M706.5 256v1M707.5 255v1M708.5 255v1M709.5 254v1M710.5 254v1M711.5 254v1M712.5 254v1M713.5 254v1M714.5 253v1M715.5 253v1M716.5 253v1M717.5 253v1M718.5 253v1M719.5 253v1M720.5 253v1M721.5 253v1M722.5 252v1M723.5 252v1M724.5 252v1M725.5 251v1M726.5 251v1M727.5 251v1M728.5 250v1M729.5 250v1M730.5 250v1M731.5 250v1M732.5 249v1M733.5 249v1M734.5 249v1M735.5 249v1M736.5 249v1M737.5 249v1M738.5 248v1M739.5 248v1M740.5 248v1M741.5 247v1M742.5 247v1M743.5 247v1M744.5 247v1M745.5 247v1M746.5 248v1M747.5 248v1M748.5 248v1M749.5 248v1M750.5 248v1M751.5 248v1M752.5 248v1M753.5 249v1M754.5 249v1M755.5 249v1M756.5 249v1M757.5 250v1M758.5 250v1M759.5 250v1M760.5 250v1M761.5 251v1M762.5 251v1M763.5 251v1M764.5 252v1M765.5 252v1M766.5 252v1M767.5 253v1M768.5 253v1M769.5 253v1M770.5 253v1M771.5 254v1M772.5 254v1M773.5 254v1M774.5 254v1M775.5 254v1M776.5 255v1M777.5 255v1M778.5 255v1M779.5 256v1M780.5 256v1M781.5 256v1M782.5 257v1M783.5 257v1M784.5 258v1M785.5 258v1M786.5 258v1M787.5 259v1M788.5 259v1M789.5 260v1M790.5 260v1M791.5 260v1M792.5 260v1M793.5 261v1M794.5 261v1M795.5 262v1M796.5 262v1M797.5 262v1M798.5 263v1M799.5 263v1M800.5 264v1M801.5 264v1M802.5 265v1M803.5 266v1M804.5 266v1M805.5 267v1M806.5 268v1M807.5 269v1M808.5 270v1M809.5 271v1M810.5 272v1M811.5 273v1M812.5 274v1M813.5 275v1M814.5 276v1M815.5 277v1M816.5 278v1M817.5 279v1M818.5 280v1M819.5 280v1M820.5 281v1M821.5 282v1M822.5 283v1M823.5 284v1M824.5 285v2M825.5 287v1M826.5 288v1M827.5 289v1M828.5 290v1M829.5 291v1M830.5 292v1M831.5 293v1M832.5 294v1M833.5 295v1M834.5 296v1M835.5 297v1M836.5 298v2M837.5 300v1M838.5 301v1M839.5 302v1M840.5 303v1M841.5 304v1M842.5 305v2M843.5 307v1M844.5 308v1M845.5 309v2M846.5 311v1M847.5 312v1M848.5 313v1M849.5 314v2M850.5 316v1M851.5 317v2M852.5 319v1M853.5 320v1M854.5 321v2M855.5 323v1M856.5 324v2M857.5 326v1M858.5 327v2M859.5 329v2M860.5 331v1M861.5 332v2M862.5 334v1M863.5 335v2M864.5 337v1M865.5 338v1M866.5 339v1M867.5 340v1M868.5 341v1M869.5 342v1M870.5 343v1M871.5 344v2M872.5 346v1M873.5 347v1M874.5 348v1M875.5 349v1M876.5 350v1M877.5 351v1M878.5 352v1M879.5 353v1M880.5 354v1M881.5 355v1M882.5 356v1M883.5 357v1M884.5 358v1M885.5 358v1M886.5 358v1M887.5 358v1M888.5 359v1M889.5 359v1M890.5 359v1M891.5 359v1M892.5 359v1M893.5 359v1M894.5 359v1M895.5 359v1M896.5 359v1M897.5 359v1M898.5 358v1M899.5 358v1M900.5 357v1M901.5 356v1M902.5 356v1M903.5 355v1M904.5 354v1M905.5 353v1M906.5 353v1M907.5 352v1M908.5 351v1M909.5 351v1M910.5 350v1M911.5 349v1M912.5 349v1M913.5 348v1M914.5 347v1M915.5 346v1M916.5 344v2M917.5 343v1M918.5 342v1M919.5 341v1M920.5 340v1M921.5 338v2M922.5 336v2M923.5 335v1M924.5 333v2M925.5 332v1M926.5 331v1M927.5 329v2M928.5 328v1M929.5 327v1M930.5 325v2M931.5 324v1M932.5 323v1M933.5 323v1M934.5 322v1M935.5 322v1M936.5 321v1M937.5 321v1M938.5 320v1M939.5 320v1M940.5 319v1M941.5 319v1M942.5 318v1M943.5 318v1M944.5 317v1M945.5 316v1M946.5 315v1M947.5 314v1M948.5 313v1M949.5 313v1M950.5 313v1M951.5 312v1M952.5 312v1M953.5 312v1M954.5 313v1M955.5 313v1M956.5 313v1M957.5 314v1M958.5 314v1M959.5 315v1M960.5 316v1M961.5 317v1M962.5 317v1M963.5 318v1M964.5 319v1M965.5 320v1M966.5 321v1M967.5 321v1M968.5 322v1M969.5 323v1M970.5 323v1M971.5 323v1M972.5 324v1M973.5 324v1M974.5 324v1M975.5 324v1M976.5 324v1M977.5 324v1M978.5 324v1M979.5 323v1M980.5 323v1M981.5 322v1M982.5 321v1M983.5 320v1M984.5 319v1M985.5 318v1M986.5 317v1M987.5 316v1M988.5 315v1M989.5 314v1M990.5 313v1M991.5 312v1M992.5 311v1M993.5 310v1M994.5 309v1M995.5 308v1M996.5 308v1M997.5 307v1M998.5 306v1M999.5 306v1M1000.5 305v1M1001.5 305v1M1002.5 304v1M1003.5 304v1M1004.5 304v1M1005.5 304v1M1006.5 305v1M1007.5 306v1M1008.5 306v1M1009.5 307v1M1010.5 308v1M1011.5 309v1M1012.5 310v1M1013.5 311v1M1014.5 312v1M1015.5 313v1M1016.5 313v2M1017.5 315v1M1018.5 316v2M1019.5 318v1M1020.5 319v2M1021.5 321v1M1022.5 322v1M1023.5 323v2M1024.5 325v1M1025.5 326v1M1026.5 327v2M1027.5 329v1M1028.5 330v1M1029.5 331v1M1030.5 332v1M1031.5 333v1M1032.5 334v2M1033.5 336v2M1034.5 338v1M1035.5 339v2M1036.5 341v2M1037.5 343v2M1038.5 345v1M1039.5 346v2M1040.5 348v2M1041.5 350v3M1042.5 353v2M1043.5 355v2M1044.5 357v2M1045.5 359v2M1046.5 361v2M1047.5 363v1M1048.5 364v2M1049.5 366v2M1050.5 368v1M1051.5 369v2M1052.5 371v1M1053.5 372v1M1054.5 373v1M1055.5 374v2M1056.5 376v1M1057.5 376v1M1058.5 377v1M1059.5 378v1M1060.5 379v1M1061.5 380v1M1062.5 381v1M1063.5 382v1M1064.5 383v1M1065.5 384v1M1066.5 385v1M1067.5 386v2M1068.5 388v1M1069.5 388v1M1070.5 389v1M1071.5 389v1M1072.5 390v1M1073.5 390v1M1074.5 390v1M1075.5 390v1M1076.5 390v1M1077.5 389v1M1078.5 389v1M1079.5 388v1M1080.5 388v1M1081.5 387v1M1082.5 387v1M1083.5 386v1M1084.5 386v1M1085.5 385v1M1086.5 384v1M1087.5 384v1M1088.5 383v1M1089.5 383v1M1090.5 382v1M1091.5 382v1M1092.5 382v1M1093.5 382v1M1094.5 381v1M1095.5 381v1M1096.5 381v1M1097.5 381v1M1098.5 381v1M1099.5 381v1M1100.5 381v1M1101.5 381v1M1102.5 381v1M1103.5 382v1M1104.5 382v1M1105.5 383v1M1106.5 383v1M1107.5 383v1M1108.5 383v1M1109.5 384v1M1110.5 385v1M1111.5 385v1M1112.5 386v1M1113.5 387v1M1114.5 387v1M1115.5 388v1M1116.5 388v1M1117.5 389v1M1118.5 390v1M1119.5 390v1M1120.5 391v1M1121.5 392v1M1122.5 392v1M1123.5 393v1M1124.5 393v1M1125.5 394v1M1126.5 394v1M1127.5 394v1M1128.5 394v1M1129.5 394v1M1130.5 394v1M1131.5 393v1M1132.5 393v1M1133.5 393v1M1134.5 393v1M1135.5 393v1M1136.5 393v1M1137.5 392v1M1138.5 392v1M1139.5 392v1M1140.5 392v1M1141.5 392v1M1142.5 393v1M1143.5 393v1M1144.5 393v1M1145.5 393v1M1146.5 393v1M1147.5 393v1M1148.5 393v1M1149.5 394v1M1150.5 395v1M1151.5 395v1M1152.5 396v1M1153.5 396v1M1154.5 397v1M1155.5 398v1M1156.5 398v1M1157.5 399v1M1158.5 399v1M1159.5 400v1M1160.5 400v1M1161.5 400v1M1162.5 400v1M1163.5 400v1M1164.5 400v1M1165.5 400v1M1166.5 401v1M1167.5 401v1M1168.5 401v1M1169.5 401v1M1170.5 400v1M1171.5 400v1M1172.5 399v1M1173.5 399v1M1174.5 398v1M1175.5 398v1M1176.5 397v1M1177.5 397v1M1178.5 397v1M1179.5 397v1M1180.5 397v1M1181.5 397v1M1182.5 397v1M1183.5 397v1M1184.5 397v1M1185.5 397v1M1186.5 396v1M1187.5 396v1M1188.5 396v1M1189.5 396v1M1190.5 395v1M1191.5 395v1M1192.5 394v1M1193.5 393v1M1194.5 393v1M1195.5 392v1M1196.5 391v2M1197.5 390v1M1198.5 389v1M1199.5 388v1M1200.5 387v1M1201.5 385v2M1202.5 384v1M1203.5 382v2M1204.5 381v1M1205.5 380v1M1206.5 378v2M1207.5 377v1M1208.5 375v2M1209.5 374v1M1210.5 373v1M1211.5 371v2M1212.5 370v1M1213.5 368v2M1214.5 367v1M1215.5 365v2M1216.5 364v1M1217.5 362v2M1218.5 360v2M1219.5 358v2M1220.5 356v2M1221.5 355v1M1222.5 353v2M1223.5 351v2M1224.5 350v1M1225.5 348v2M1226.5 347v1M1227.5 346v1M1228.5 344v2M1229.5 343v1M1230.5 341v2M1231.5 340v1M1232.5 338v2M1233.5 337v1M1234.5 335v2M1235.5 333v2M1236.5 331v2M1237.5 328v3M1238.5 326v2M1239.5 324v2M1240.5 321v3M1241.5 319v2M1242.5 316v3M1243.5 314v2M1244.5 311v3M1245.5 309v2M1246.5 306v3M1247.5 304v2M1248.5 302v2M1249.5 300v2M1250.5 298v2M1251.5 297v1M1252.5 295v2M1253.5 293v2M1254.5 291v2M1255.5 289v2M1256.5 287v2M1257.5 285v2M1258.5 283v2M1259.5 281v2M1260.5 279v2M1261.5 278v1M1262.5 276v2M1263.5 274v2M1264.5 272v2M1265.5 270v2M1266.5 268v2M1267.5 266v2M1268.5 265v1" stroke="#0000ff" stroke-width="1" fill="none" shape-rendering="crispEdges"/>
<path d="M4.5 186v1M5.5 185v1M6.5 184v1M7.5 183v1M8.5 182v1M9.5 182v1M10.5 181v1M11.5 181v1M12.5 180v1M13.5 180v1M14.5 179v1M15.5 179v1M16.5 179v1M17.5 179v1M18.5 180v1M19.5 180v1M20.5 180v1M21.5 180v1M22.5 180v1M23.5 179v1M24.5 179v1M25.5 178v1M26.5 177v1M27.5 176v1M28.5 175v1M29.5 174v1M30.5 173v1M31.5 172v1M32.5 171v1M33.5 170v1M34.5 170v1M35.5 169v1M36.5 169v1M37.5 168v1M38.5 168v1M39.5 167v1M40.5 167v1M41.5 166v1M42.5 165v1M43.5 164v1M44.5 164v1M45.5 163v1M46.5 163v1M47.5 162v1M48.5 162v1M49.5 161v1M50.5 160v1M51.5 159v1M52.5 158v1M53.5 158v1M54.5 157v1M55.5 156v1M56.5 155v1M57.5 154v1M58.5 153v1M59.5 152v1M60.5 151v1M61.5 150v1M62.5 149v1M63.5 148v1M64.5 147v1M65.5 147v1M66.5 146v1M67.5 146v1M68.5 146v1M69.5 145v1M70.5 144v1M71.5 143v1M72.5 142v1M73.5 142v1M74.5 142v1M75.5 142v1M76.5 142v1M77.5 142v1M78.5 143v1M79.5 143v1M80.5 144v1M81.5 145v1M82.5 146v2M83.5 148v1M84.5 149v1M85.5 150v2M86.5 152v1M87.5 153v2M88.5 155v1M89.5 156v2M90.5 158v1M91.5 159v1M92.5 160v1M93.5 161v1M94.5 162v2M95.5 164v1M96.5 165v1M97.5 166v1M98.5 167v2M99.5 169v1M100.5 170v1M101.5 171v1M102.5 172v1M103.5 173v1M104.5 174v1M105.5 175v1M106.5 176v1M107.5 177v2M108.5 179v1M109.5 180v2M110.5 182v1M111.5 183v2M112.5 185v1M113.5 186v1M114.5 186v1M115.5 187v1M116.5 188v1M117.5 189v1M118.5 189v1M119.5 190v1M120.5 191v1M121.5 191v1M122.5 192v1M123.5 192v1M124.5 193v1M125.5 194v1M126.5 194v1M127.5 195v1M128.5 196v1M129.5 196v1M130.5 196v1M131.5 196v1M132.5 196v1M133.5 196v1M134.5 197v1M135.5 198v1M136.5 198v1M137.5 199v1M138.5 200v1M139.5 200v1M140.5 201v1M141.5 202v1M142.5 202v1M143.5 203v1M144.5 203v2M145.5 205v1M146.5 206v1M147.5 207v2M148.5 209v1M149.5 210v1M150.5 211v2M151.5 213v1M152.5 214v1M153.5 215v1M154.5 216v1M155.5 217v1M156.5 218v2M157.5 220v1M158.5 221v1M159.5 222v1M160.5 223v1M161.5 224v2M162.5 226v1M163.5 227v1M164.5 228v2M165.5 230v1M166.5 231v2M167.5 233v1M168.5 234v1M169.5 235v1M170.5 236v2M171.5 238v1M172.5 239v1M173.5 240v1M174.5 241v1M175.5 242v1M176.5 243v1M177.5 243v1M178.5 244v1M179.5 244v1M180.5 244v1M181.5 244v1M182.5 245v1M183.5 245v1M184.5 245v1M185.5 245v1M186.5 245v1M187.5 244v1M188.5 244v1M189.5 244v1M190.5 243v1M191.5 243v1M192.5 242v1M193.5 241v1M194.5 241v1M195.5 240v1M196.5 239v1M197.5 238v1M198.5 238v1M199.5 237v1M200.5 237v1M201.5 236v1M202.5 235v1M203.5 234v1M204.5 233v1M205.5 233v1M206.5 232v1M207.5 232v1M208.5 231v1M209.5 231v1M210.5 231v1M211.5 231v1M212.5 231v1M213.5 232v1M214.5 232v1M215.5 232v1M216.5 233v1M217.5 233v1M218.5 234v1M219.5 234v1M220.5 234v1M221.5 234v1M222.5 234v1M223.5 233v1M224.5 233v1M225.5 233v1M226.5 233v1M227.5 233v1M228.5 234v1M229.5 234v1M230.5 234v1M231.5 234v1M232.5 234v1M233.5 235v1M234.5 236v1M235.5 237v1M236.5 238v1M237.5 239v1M238.5 240v1M239.5 241v1M240.5 242v1M241.5 243v1M242.5 244v1M243.5 245v1M244.5 246v1M245.5 246v1M246.5 247v1M247.5 247v1M248.5 248v1M249.5 249v1M250.5 250v1M251.5 251v2M252.5 253v1M253.5 254v1M254.5 255v1M255.5 256v1M256.5 257v1M257.5 258v2M258.5 260v1M259.5 261v1M260.5 262v1M261.5 263v2M262.5 265v1M263.5 266v1M264.5 267v1M265.5 268v2M266.5 270v1M267.5 271v2M268.5 273v1M269.5 274v1M270.5 275v2M271.5 277v1M272.5 278v1M273.5 279v1M274.5 280v2M275.5 282v1M276.5 283v1M277.5 284v1M278.5 285v2M279.5 287v1M280.5 288v1M281.5 289v1M282.5 289v1M283.5 290v1M284.5 291v1M285.5 291v1M286.5 292v1M287.5 292v1M288.5 293v1M289.5 293v1M290.5 294v1M291.5 294v1M292.5 295v1M293.5 295v1M294.5 296v1M295.5 296v1M296.5 297v1M297.5 298v1M298.5 299v1M299.5 300v1M300.5 301v1M301.5 302v1M302.5 303v1M303.5 304v1M304.5 305v1M305.5 306v1M306.5 307v1M307.5 308v1M308.5 309v1M309.5 309v1M310.5 309v1M311.5 309v1M312.5 310v1M313.5 310v1M314.5 310v1M315.5 310v1M316.5 310v1M317.5 310v1M318.5 310v1M319.5 310v1M320.5 310v1M321.5 309v1M322.5 309v1M323.5 309v1M324.5 309v1M325.5 308v1M326.5 307v1M327.5 306v1M328.5 306v1M329.5 305v1M330.5 304v1M331.5 303v1M332.5 302v1M333.5 301v1M334.5 300v1M335.5 299v1M336.5 299v1M337.5 299v1M338.5 299v1M339.5 299v1M340.5 299v1M341.5 300v1M342.5 300v1M343.5 300v1M344.5 300v1M345.5 301v1M346.5 301v1M347.5 302v1M348.5 302v1M349.5 303v1M350.5 303v1M351.5 303v1M352.5 303v1M353.5 304v1M354.5 305v2M355.5 307v1M356.5 308v1M357.5 309v1M358.5 310v1M359.5 311v1M360.5 312v1M361.5 312v1M362.5 313v1M363.5 313v1M364.5 314v1M365.5 315v2M366.5 317v1M367.5 318v1M368.5 319v2M369.5 321v2M370.5 323v1M371.5 324v2M372.5 326v1M373.5 327v2M374.5 329v1M375.5 330v1M376.5 331v1M377.5 332v1M378.5 332v1M379.5 333v1M380.5 334v1M381.5 334v1M382.5 335v1M383.5 336v1M384.5 336v1M385.5 337v1M386.5 338v1M387.5 339v1M388.5 340v1M389.5 340v1M390.5 341v1M391.5 342v1M392.5 342v1M393.5 343v1M394.5 343v1M395.5 343v1M396.5 343v1M397.5 344v1M398.5 344v1M399.5 345v1M400.5 346v1M401.5 346v1M402.5 346v1M403.5 346v1M404.5 346v1M405.5 346v1M406.5 346v1M407.5 346v1M408.5 346v1M409.5 345v1M410.5 344v1M411.5 343v1M412.5 342v1M413.5 341v1M414.5 340v1M415.5 339v1M416.5 338v1M417.5 337v1M418.5 336v1M419.5 335v1M420.5 335v1M421.5 334v1M422.5 333v1M423.5 332v1M424.5 330v2M425.5 328v2M426.5 327v1M427.5 325v2M428.5 323v2M429.5 321v2M430.5 319v2M431.5 317v2M432.5 315v2M433.5 313v2M434.5 311v2M435.5 309v2M436.5 307v2M437.5 306v1M438.5 304v2M439.5 302v2M440.5 301v1M441.5 299v2M442.5 297v2M443.5 296v1M444.5 294v2M445.5 293v1M446.5 291v2M447.5 290v1M448.5 288v2M449.5 287v1M450.5 286v1M451.5 285v1M452.5 283v2M453.5 282v1M454.5 280v2M455.5 279v1M456.5 278v1M457.5 277v1M458.5 276v1M459.5 275v1M460.5 274v1M461.5 273v1M462.5 273v1M463.5 272v1M464.5 272v1M465.5 271v1M466.5 270v1M467.5 270v1M468.5 269v1M469.5 268v1M470.5 268v1M471.5 267v1M472.5 266v1M473.5 265v1M474.5 264v1M475.5 263v1M476.5 262v1M477.5 261v1M478.5 260v1M479.5 259v1M480.5 258v1M481.5 257v1M482.5 256v1M483.5 255v1M484.5 254v1M485.5 254v1M486.5 254v1M487.5 253v1M488.5 253v1M489.5 253v1M490.5 253v1M491.5 253v1M492.5 253v1M493.5 254v1M494.5 255v1M495.5 255v1M496.5 256v1M497.5 257v1M498.5 258v1M499.5 258v1M500.5 259v1M501.5 260v1M502.5 261v1M503.5 262v1M504.5 263v1M505.5 264v1M506.5 265v1M507.5 265v1M508.5 266v1M509.5 267v1M510.5 268v1M511.5 269v1M512.5 269v1M513.5 270v1M514.5 270v1M515.5 271v1M516.5 271v1M517.5 272v1M518.5 272v1M519.5 273v1M520.5 274v1M521.5 275v1M522.5 276v1M523.5 277v1M524.5 277v2M525.5 279v1M526.5 280v1M527.5 281v1M528.5 282v1M529.5 283v1M530.5 283v1M531.5 284v1M532.5 285v1M533.5 286v1M534.5 287v1M535.5 288v1M536.5 289v1M537.5 289v1M538.5 290v1M539.5 291v1M540.5 292v1M541.5 293v1M542.5 294v1M543.5 294v1M544.5 295v1M545.5 296v1M546.5 297v1M547.5 298v1M548.5 299v1M549.5 299v1M550.5 298v1M551.5 298v1M552.5 298v1M553.5 299v1M554.5 299v1M555.5 299v1M556.5 300v1M557.5 300v1M558.5 300v1M559.5 300v1M560.5 301v1M561.5 301v1M562.5 301v1M563.5 301v1M564.5 301v1M565.5 301v1M566.5 301v1M567.5 301v1M568.5 301v1M569.5 302v1M570.5 302v1M571.5 302v1M572.5 303v1M573.5 303v1M574.5 303v1M575.5 303v1M576.5 303v1M577.5 303v1M578.5 303v1M579.5 302v1M580.5 302v1M581.5 302v1M582.5 302v1M583.5 302v1M584.5 302v1M585.5 302v1M586.5 301v1M587.5 301v1M588.5 301v1M589.5 301v1M590.5 300v1M591.5 300v1M592.5 300v1M593.5 300v1M594.5 300v1M595.5 300v1M596.5 300v1M597.5 300v1M598.5 299v1M599.5 299v1M600.5 299v1M601.5 299v1M602.5 299v1M603.5 300v1M604.5 300v1M605.5 300v1M606.5 300v1M607.5 301v1M608.5 301v1M609.5 301v1M610.5 300v1M611.5 300v1M612.5 299v1M613.5 299v1M614.5 298v1M615.5 297v1M616.5 297v1M617.5 296v1M618.5 295v1M619.5 295v1M620.5 294v1M621.5 293v1M622.5 292v1M623.5 291v1M624.5 289v2M625.5 288v1M626.5 287v1M627.5 285v2M628.5 284v1M629.5 283v1M630.5 282v1M631.5 281v1M632.5 280v1M633.5 279v1M634.5 278v1M635.5 277v1M636.5 275v2M637.5 274v1M638.5 273v1M639.5 271v2M640.5 270v1M641.5 270v1M642.5 269v1M643.5 269v1M644.5 268v1M645.5 268v1M646.5 267v1M647.5 267v1M648.5 267v1M649.5 267v1M650.5 267v1M651.5 267v1M652.5 267v1M653.5 267v1M654.5 267v1M655.5 268v1M656.5 268v1M657.5 267v1M658.5 267v1M659.5 267v1M660.5 266v1M661.5 266v1M662.5 265v1M663.5 265v1M664.5 265v1M665.5 265v1M666.5 265v1M667.5 265v1M668.5 265v1M669.5 264v1M670.5 264v1M671.5 264v1M672.5 264v1M673.5 263v1M674.5 263v1M675.5 262v1M676.5 261v1M677.5 260v1M678.5 260v1M679.5 259v1M680.5 258v1M681.5 258v1M682.5 257v1M683.5 256v1M684.5 256v1M685.5 255v1M686.5 254v1M687.5 253v1M688.5 252v1M689.5 251v1M690.5 250v1M691.5 249v1M692.5 249v1M693.5 248v1M694.5 248v1M695.5 247v1M696.5 247v1M697.5 246v1M698.5 246v1M699.5 246v1M700.5 245v1M701.5 245v1M702.5 245v1M703.5 244v1M704.5 244v1M705.5 242v2M706.5 241v1M707.5 240v1M708.5 239v1M709.5 239v1M710.5 238v1M711.5 237v1M712.5 237v1M713.5 236v1M714.5 236v1M715.5 236v1M716.5 236v1M717.5 235v1M718.5 235v1M719.5 235v1M720.5 235v1M721.5 235v1M722.5 234v1M723.5 234v1M724.5 234v1M725.5 234v1M726.5 233v1M727.5 233v1M728.5 233v1M729.5 233v1M730.5 234v1M731.5 234v1M732.5 234v1M733.5 235v1M734.5 235v1M735.5 236v1M736.5 237v1M737.5 237v1M738.5 237v1M739.5 238v1M740.5 238v1M741.5 239v1M742.5 240v1M743.5 241v1M744.5 242v1M745.5 243v1M746.5 244v1M747.5 245v1M748.5 246v1M749.5 247v2M750.5 249v1M751.5 250v1M752.5 251v1M753.5 252v1M754.5 252v1M755.5 253v1M756.5 254v1M757.5 255v1M758.5 255v1M759.5 256v1M760.5 257v1M761.5 258v1M762.5 259v1M763.5 260v1M764.5 261v1M765.5 262v1M766.5 263v1M767.5 264v1M768.5 265v1M769.5 266v1M770.5 267v1M771.5 268v1M772.5 268v1M773.5 269v1M774.5 270v1M775.5 271v1M776.5 271v1M777.5 272v1M778.5 273v1M779.5 274v1M780.5 275v2M781.5 277v1M782.5 278v1M783.5 279v1M784.5 280v2M785.5 282v1M786.5 283v1M787.5 284v2M788.5 286v1M789.5 286v1M790.5 287v1M791.5 288v1M792.5 289v1M793.5 290v1M794.5 290v1M795.5 291v1M796.5 292v1M797.5 292v1M798.5 293v1M799.5 293v1M800.5 294v1M801.5 294v1M802.5 295v1M803.5 295v1M804.5 295v1M805.5 296v1M806.5 296v1M807.5 297v1M808.5 297v1M809.5 298v1M810.5 299v1M811.5 300v1M812.5 300v1M813.5 301v2M814.5 303v1M815.5 304v1M816.5 305v1M817.5 306v1M818.5 307v1M819.5 308v1M820.5 309v1M821.5 310v1M822.5 311v1M823.5 312v1M824.5 313v1M825.5 314v1M826.5 315v1M827.5 316v1M828.5 317v1M829.5 318v1M830.5 319v2M831.5 321v1M832.5 322v1M833.5 323v1M834.5 324v1M835.5 325v1M836.5 326v2M837.5 328v1M838.5 329v2M839.5 331v1M840.5 332v2M841.5 334v1M842.5 335v2M843.5 337v1M844.5 338v2M845.5 340v2M846.5 342v2M847.5 344v2M848.5 346v2M849.5 348v3M850.5 351v2M851.5 353v3M852.5 356v2M853.5 358v3M854.5 361v3M855.5 364v2M856.5 366v3M857.5 369v2M858.5 371v3M859.5 374v2M860.5 376v3M861.5 379v2M862.5 381v2M863.5 383v3M864.5 386v1M865.5 387v2M866.5 389v1M867.5 390v2M868.5 392v1M869.5 393v1M870.5 394v1M871.5 395v1M872.5 396v1M873.5 397v1M874.5 398v1M875.5 399v1M876.5 400v1M877.5 401v1M878.5 402v1M879.5 403v1M880.5 403v1M881.5 404v1M882.5 405v1M883.5 405v1M884.5 406v1M885.5 405v1M886.5 404v1M887.5 404v1M888.5 403v1M889.5 402v1M890.5 401v1M891.5 400v1M892.5 399v1M893.5 397v2M894.5 395v2M895.5 393v2M896.5 390v3M897.5 388v2M898.5 385v3M899.5 382v3M900.5 379v3M901.5 375v4M902.5 372v3M903.5 369v3M904.5 366v3M905.5 363v3M906.5 360v3M907.5 357v3M908.5 353v4M909.5 350v3M910.5 346v4M911.5 342v4M912.5 337v5M913.5 332v5M914.5 327v5M915.5 322v5M916.5 317v5M917.5 312v5M918.5 307v5M919.5 302v5M920.5 297v5M921.5 291v6M922.5 285v6M923.5 280v5M924.5 275v5M925.5 271v4M926.5 266v5M927.5 261v5M928.5 257v4M929.5 253v4M930.5 249v4M931.5 245v4M932.5 243v2M933.5 240v3M934.5 238v2M935.5 236v2M936.5 234v2M937.5 232v2M938.5 230v2M939.5 228v2M940.5 227v1M941.5 227v1M942.5 226v1M943.5 225v1M944.5 224v1M945.5 222v2M946.5 221v1M947.5 219v2M948.5 218v1M949.5 219v1M950.5 219v1M951.5 220v1M952.5 220v3M953.5 223v3M954.5 226v3M955.5 229v3M956.5 232v4M957.5 236v5M958.5 241v5M959.5 246v5M960.5 251v4M961.5 255v4M962.5 259v5M963.5 264v4M964.5 268v6M965.5 274v5M966.5 279v5M967.5 284v5M968.5 289v6M969.5 295v5M970.5 300v6M971.5 306v5M972.5 311v5M973.5 316v5M974.5 321v5M975.5 326v5M976.5 331v6M977.5 337v6M978.5 343v5M979.5 348v6M980.5 354v3M981.5 357v3M982.5 360v3M983.5 363v3M984.5 366v2M985.5 368v3M986.5 371v2M987.5 373v2M988.5 375v1M989.5 375v1M990.5 374v1M991.5 374v1M992.5 373v1M993.5 374v1M994.5 374v1M995.5 375v1M996.5 375v1M997.5 376v1M998.5 377v1M999.5 377v1M1000.5 378v2M1001.5 380v2M1002.5 382v2M1003.5 384v2M1004.5 386v1M1005.5 387v1M1006.5 388v1M1007.5 389v1M1008.5 390v1M1009.5 390v1M1010.5 391v1M1011.5 391v1M1012.5 391v2M1013.5 390v1M1014.5 389v1M1015.5 388v1M1016.5 387v1M1017.5 386v1M1018.5 385v1M1019.5 383v2M1020.5 381v2M1021.5 379v2M1022.5 376v3M1023.5 374v2M1024.5 373v1M1025.5 372v1M1026.5 371v1M1027.5 370v1M1028.5 369v1M1029.5 367v2M1030.5 366v1M1031.5 365v1M1032.5 364v1M1033.5 363v1M1034.5 361v2M1035.5 360v1M1036.5 359v1M1037.5 360v1M1038.5 361v1M1039.5 362v1M1040.5 363v2M1041.5 365v1M1042.5 366v2M1043.5 368v1M1044.5 369v2M1045.5 371v1M1046.5 372v2M1047.5 374v1M1048.5 375v1M1049.5 376v1M1050.5 377v1M1051.5 378v2M1052.5 380v1M1053.5 381v2M1054.5 383v2M1055.5 385v1M1056.5 386v1M1057.5 387v1M1058.5 387v1M1059.5 388v1M1060.5 388v1M1061.5 388v1M1062.5 388v1M1063.5 388v1M1064.5 388v1M1065.5 387v1M1066.5 387v1M1067.5 386v1M1068.5 385v1M1069.5 385v1M1070.5 384v1M1071.5 384v1M1072.5 383v1M1073.5 383v1M1074.5 383v1M1075.5 383v1M1076.5 383v1M1077.5 383v1M1078.5 384v1M1079.5 385v1M1080.5 385v1M1081.5 386v1M1082.5 387v1M1083.5 387v1M1084.5 388v1M1085.5 389v2M1086.5 391v1M1087.5 392v1M1088.5 393v2M1089.5 395v1M1090.5 396v1M1091.5 397v1M1092.5 398v1M1093.5 399v1M1094.5 400v1M1095.5 401v1M1096.5 402v1M1097.5 402v1M1098.5 403v1M1099.5 403v1M1100.5 404v1M1101.5 404v1M1102.5 404v1M1103.5 405v1M1104.5 405v1M1105.5 404v1M1106.5 403v1M1107.5 402v1M1108.5 401v1M1109.5 400v1M1110.5 398v2M1111.5 397v1M1112.5 396v1M1113.5 396v1M1114.5 395v1M1115.5 395v1M1116.5 395v1M1117.5 395v1M1118.5 395v1M1119.5 396v1M1120.5 396v1M1121.5 396v1M1122.5 397v1M1123.5 398v1M1124.5 399v1M1125.5 399v1M1126.5 399v1M1127.5 400v1M1128.5 400v1M1129.5 400v1M1130.5 399v1M1131.5 399v1M1132.5 399v1M1133.5 398v1M1134.5 398v1M1135.5 398v1M1136.5 398v1M1137.5 397v1M1138.5 397v1M1139.5 397v1M1140.5 397v1M1141.5 396v1M1142.5 395v1M1143.5 395v1M1144.5 394v1M1145.5 394v1M1146.5 394v1M1147.5 394v1M1148.5 394v1M1149.5 394v1M1150.5 395v1M1151.5 395v1M1152.5 395v1M1153.5 396v1M1154.5 396v1M1155.5 397v1M1156.5 397v1M1157.5 398v1M1158.5 399v2M1159.5 401v1M1160.5 402v1M1161.5 403v1M1162.5 404v1M1163.5 404v1M1164.5 405v1M1165.5 406v1M1166.5 406v1M1167.5 406v1M1168.5 407v1M1169.5 406v1M1170.5 405v1M1171.5 405v1M1172.5 404v1M1173.5 403v1M1174.5 402v1M1175.5 401v1M1176.5 400v1M1177.5 399v1M1178.5 398v1M1179.5 397v1M1180.5 396v1M1181.5 396v1M1182.5 395v1M1183.5 394v1M1184.5 393v1M1185.5 393v1M1186.5 392v1M1187.5 392v1M1188.5 392v1M1189.5 390v2M1190.5 389v1M1191.5 388v1M1192.5 386v2M1193.5 385v1M1194.5 383v2M1195.5 382v1M1196.5 380v2M1197.5 378v2M1198.5 376v2M1199.5 374v2M1200.5 371v3M1201.5 369v2M1202.5 366v3M1203.5 363v3M1204.5 360v3M1205.5 357v3M1206.5 354v3M1207.5 352v2M1208.5 349v3M1209.5 346v3M1210.5 343v3M1211.5 340v3M1212.5 336v4M1213.5 333v3M1214.5 329v4M1215.5 326v3M1216.5 322v4M1217.5 319v3M1218.5 316v3M1219.5 312v4M1220.5 309v3M1221.5 305v4M1222.5 301v4M1223.5 297v4M1224.5 294v3M1225.5 291v3M1226.5 288v3M1227.5 285v3M1228.5 282v3M1229.5 278v4M1230.5 275v3M1231.5 272v3M1232.5 268v4M1233.5 264v4M1234.5 260v4M1235.5 256v4M1236.5 252v4M1237.5 248v4M1238.5 243v5M1239.5 239v4M1240.5 234v5M1241.5 230v4M1242.5 225v5M1243.5 221v4M1244.5 217v4M1245.5 213v4M1246.5 209v4M1247.5 205v4M1248.5 202v3M1249.5 199v3M1250.5 197v2M1251.5 194v3M1252.5 192v2M1253.5 191v1M1254.5 189v2M1255.5 188v1M1256.5 186v2M1257.5 184v2M1258.5 183v1M1259.5 181v2M1260.5 180v1M1261.5 178v2M1262.5 177v1M1263.5 175v2M1264.5 174v1M1265.5 172v2M1266.5 171v1M1267.5 169v2M1268.5 168v1" stroke="#ff0000" stroke-width="1" fill="none" shape-rendering="crispEdges"/>
<path d="M4.5 169v3M5.5 172v3M6.5 175v3M7.5 178v2M8.5 180v3M9.5 183v2M10.5 185v3M11.5 188v3M12.5 191v2M13.5 193v3M14.5 196v2M15.5 198v3M16.5 201v2M17.5 203v2M18.5 205v2M19.5 207v2M20.5 208v2M21.5 205v3M22.5 203v2M23.5 201v2M24.5 198v3M25.5 194v4M26.5 191v3M27.5 188v3M28.5 184v4M29.5 180v4M30.5 177v3M31.5 173v4M32.5 168v5M33.5 162v6M34.5 157v5M35.5 151v6M36.5 147v4M37.5 142v5M38.5 137v5M39.5 132v5M40.5 129v3M41.5 126v3M42.5 123v3M43.5 121v2M44.5 119v2M45.5 118v1M46.5 117v1M47.5 116v1M48.5 115v1M49.5 115v1M50.5 115v1M51.5 115v1M52.5 115v1M53.5 115v1M54.5 115v1M55.5 116v1M56.5 116v2M57.5 118v2M58.5 120v3M59.5 123v2M60.5 125v2M61.5 127v2M62.5 129v3M63.5 132v2M64.5 134v3M65.5 137v2M66.5 139v3M67.5 142v2M68.5 144v3M69.5 147v2M70.5 149v3M71.5 152v2M72.5 154v5M73.5 159v4M74.5 163v5M75.5 168v4M76.5 172v2M77.5 174v3M78.5 177v2M79.5 179v2M80.5 181v3M81.5 184v2M82.5 186v3M83.5 189v2M84.5 191v2M85.5 193v2M86.5 195v2M87.5 197v1M88.5 198v1M89.5 199v1M90.5 200v1M91.5 200v1M92.5 201v1M93.5 199v2M94.5 198v1M95.5 197v1M96.5 196v1M97.5 195v1M98.5 194v1M99.5 193v1M100.5 192v1M101.5 190v2M102.5 188v2M103.5 186v2M104.5 185v1M105.5 184v1M106.5 183v1M107.5 182v1M108.5 181v1M109.5 182v1M110.5 183v2M111.5 185v1M112.5 186v1M113.5 187v1M114.5 188v1M115.5 189v1M116.5 189v1M117.5 190v1M118.5 191v1M119.5 192v1M120.5 192v2M121.5 194v1M122.5 195v2M123.5 197v1M124.5 198v1M125.5 199v1M126.5 200v1M127.5 201v1M128.5 202v1M129.5 202v1M130.5 202v1M131.5 202v1M132.5 202v2M133.5 204v2M134.5 206v2M135.5 208v2M136.5 210v3M137.5 213v2M138.5 215v3M139.5 218v2M140.5 220v2M141.5 222v1M142.5 223v2M143.5 225v2M144.5 227v3M145.5 230v2M146.5 232v3M147.5 235v3M148.5 238v2M149.5 240v2M150.5 242v3M151.5 245v2M152.5 247v1M153.5 248v1M154.5 248v1M155.5 248v1M156.5 248v1M157.5 248v1M158.5 248v1M159.5 248v1M160.5 248v1M161.5 248v1M162.5 249v1M163.5 250v1M164.5 250v2M165.5 252v2M166.5 254v1M167.5 255v2M168.5 257v1M169.5 257v1M170.5 258v1M171.5 258v1M172.5 258v1M173.5 259v1M174.5 260v1M175.5 261v1M176.5 262v1M177.5 260v2M178.5 259v1M179.5 258v1M180.5 256v2M181.5 254v2M182.5 252v2M183.5 251v1M184.5 246v5M185.5 241v5M186.5 236v5M187.5 231v5M188.5 229v2M189.5 226v3M190.5 224v2M191.5 221v3M192.5 218v3M193.5 215v3M194.5 212v3M195.5 209v3M196.5 208v1M197.5 208v1M198.5 207v1M199.5 207v1M200.5 207v1M201.5 206v1M202.5 206v1M203.5 205v1M204.5 205v1M205.5 206v2M206.5 208v1M207.5 209v2M208.5 211v1M209.5 212v2M210.5 214v2M211.5 216v1M212.5 217v4M213.5 221v3M214.5 224v3M215.5 227v3M216.5 230v4M217.5 234v3M218.5 237v3M219.5 240v3M220.5 243v3M221.5 246v4M222.5 250v3M223.5 253v3M224.5 256v2M225.5 258v3M226.5 261v2M227.5 263v2M228.5 265v2M229.5 267v1M230.5 268v2M231.5 270v1M232.5 271v1M233.5 271v1M234.5 272v1M235.5 272v1M236.5 272v1M237.5 272v1M238.5 272v1M239.5 272v1M240.5 271v2M241.5 270v1M242.5 269v1M243.5 267v2M244.5 266v1M245.5 265v1M246.5 263v2M247.5 262v1M248.5 261v1M249.5 260v1M250.5 260v1M251.5 259v1M252.5 259v1M253.5 259v1M254.5 259v1M255.5 259v1M256.5 259v1M257.5 260v1M258.5 260v1M259.5 260v1M260.5 260v3M261.5 263v2M262.5 265v3M263.5 268v2M264.5 270v4M265.5 274v5M266.5 279v4M267.5 283v4M268.5 287v4M269.5 291v3M270.5 294v4M271.5 298v4M272.5 302v3M273.5 305v3M274.5 308v4M275.5 312v3M276.5 315v3M277.5 318v4M278.5 322v3M279.5 325v3M280.5 328v1M281.5 329v1M282.5 330v1M283.5 331v1M284.5 331v2M285.5 330v1M286.5 329v1M287.5 327v2M288.5 325v2M289.5 324v1M290.5 322v2M291.5 320v2M292.5 318v2M293.5 316v2M294.5 315v1M295.5 313v2M296.5 311v2M297.5 308v3M298.5 306v2M299.5 303v3M300.5 302v1M301.5 302v1M302.5 301v1M303.5 301v1M304.5 300v1M305.5 301v1M306.5 302v1M307.5 303v1M308.5 304v1M309.5 304v1M310.5 303v1M311.5 302v1M312.5 301v1M313.5 299v2M314.5 298v1M315.5 297v1M316.5 296v1M317.5 296v1M318.5 295v1M319.5 295v1M320.5 295v1M321.5 296v1M322.5 297v1M323.5 298v1M324.5 298v2M325.5 297v1M326.5 295v2M327.5 293v2M328.5 292v1M329.5 293v1M330.5 293v1M331.5 293v1M332.5 294v1M333.5 294v1M334.5 295v1M335.5 296v1M336.5 296v2M337.5 298v2M338.5 300v2M339.5 302v1M340.5 303v1M341.5 303v1M342.5 303v1M343.5 302v1M344.5 302v2M345.5 304v2M346.5 306v2M347.5 308v2M348.5 310v1M349.5 311v2M350.5 313v1M351.5 314v2M352.5 316v3M353.5 319v3M354.5 322v3M355.5 325v2M356.5 327v2M357.5 329v2M358.5 331v2M359.5 333v2M360.5 335v2M361.5 337v2M362.5 339v2M363.5 341v2M364.5 343v1M365.5 344v2M366.5 346v1M367.5 347v2M368.5 349v2M369.5 351v3M370.5 354v3M371.5 357v2M372.5 359v1M373.5 360v1M374.5 360v1M375.5 361v1M376.5 361v1M377.5 361v1M378.5 361v1M379.5 360v1M380.5 359v2M381.5 358v1M382.5 357v1M383.5 355v2M384.5 354v1M385.5 353v1M386.5 353v1M387.5 352v1M388.5 350v2M389.5 347v3M390.5 345v2M391.5 343v2M392.5 342v1M393.5 340v2M394.5 339v1M395.5 337v2M396.5 336v1M397.5 336v1M398.5 336v1M399.5 336v1M400.5 336v1M401.5 337v1M402.5 337v1M403.5 338v1M404.5 338v1M405.5 336v2M406.5 335v1M407.5 334v1M408.5 332v2M409.5 331v1M410.5 329v2M411.5 328v1M412.5 326v2M413.5 324v2M414.5 323v1M415.5 321v2M416.5 319v2M417.5 317v2M418.5 315v2M419.5 312v3M420.5 311v1M421.5 309v2M422.5 308v1M423.5 306v2M424.5 304v2M425.5 303v1M426.5 301v2M427.5 300v1M428.5 297v3M429.5 295v2M430.5 292v3M431.5 290v2M432.5 287v3M433.5 284v3M434.5 281v3M435.5 278v3M436.5 274v4M437.5 270v4M438.5 266v4M439.5 263v3M440.5 260v3M441.5 257v3M442.5 254v3M443.5 251v3M444.5 250v1M445.5 248v2M446.5 246v2M447.5 245v1M448.5 244v1M449.5 244v1M450.5 244v1M451.5 245v1M452.5 245v2M453.5 247v1M454.5 248v2M455.5 250v2M456.5 252v2M457.5 254v2M458.5 256v2M459.5 258v3M460.5 261v1M461.5 262v2M462.5 264v2M463.5 266v1M464.5 267v1M465.5 268v1M466.5 269v1M467.5 270v1M468.5 271v1M469.5 271v1M470.5 271v1M471.5 271v1M472.5 271v1M473.5 271v1M474.5 270v1M475.5 269v1M476.5 267v2M477.5 265v2M478.5 263v2M479.5 261v2M480.5 259v2M481.5 256v3M482.5 254v2M483.5 251v3M484.5 250v1M485.5 248v2M486.5 246v2M487.5 245v1M488.5 244v1M489.5 242v2M490.5 241v1M491.5 240v1M492.5 239v2M493.5 241v1M494.5 242v1M495.5 243v2M496.5 245v2M497.5 247v2M498.5 249v2M499.5 251v3M500.5 254v3M501.5 257v3M502.5 260v4M503.5 264v3M504.5 267v4M505.5 271v4M506.5 275v4M507.5 279v4M508.5 283v4M509.5 287v3M510.5 290v4M511.5 294v4M512.5 298v1M513.5 299v1M514.5 300v1M515.5 301v1M516.5 302v2M517.5 304v1M518.5 305v2M519.5 307v2M520.5 309v1M521.5 310v1M522.5 311v1M523.5 312v1M524.5 313v1M525.5 313v1M526.5 314v1M527.5 314v1M528.5 315v1M529.5 314v1M530.5 313v1M531.5 312v1M532.5 311v1M533.5 310v1M534.5 310v1M535.5 309v1M536.5 308v2M537.5 306v2M538.5 304v2M539.5 302v2M540.5 300v2M541.5 298v2M542.5 296v2M543.5 294v2M544.5 293v1M545.5 291v2M546.5 289v2M547.5 288v1M548.5 287v1M549.5 286v1M550.5 285v1M551.5 284v1M552.5 283v1M553.5 283v1M554.5 284v1M555.5 285v1M556.5 285v2M557.5 287v1M558.5 288v2M559.5 290v1M560.5 291v2M561.5 293v2M562.5 295v2M563.5 297v2M564.5 299v1M565.5 300v2M566.5 302v1M567.5 303v2M568.5 305v2M569.5 307v3M570.5 310v2M571.5 312v3M572.5 315v1M573.5 315v1M574.5 316v1M575.5 317v1M576.5 318v1M577.5 318v1M578.5 318v1M579.5 318v1M580.5 318v1M581.5 317v1M582.5 317v1M583.5 317v1M584.5 316v2M585.5 314v2M586.5 313v1M587.5 311v2M588.5 309v2M589.5 306v3M590.5 304v2M591.5 302v2M592.5 300v2M593.5 297v3M594.5 295v2M595.5 293v2M596.5 291v2M597.5 289v2M598.5 287v2M599.5 285v2M600.5 284v1M601.5 284v1M602.5 283v1M603.5 282v1M604.5 281v1M605.5 282v1M606.5 282v1M607.5 283v1M608.5 283v1M609.5 283v1M610.5 283v1M611.5 284v1M612.5 284v1M613.5 284v1M614.5 284v1M615.5 283v1M616.5 283v1M617.5 284v1M618.5 284v1M619.5 284v1M620.5 284v2M621.5 282v2M622.5 280v2M623.5 278v2M624.5 276v2M625.5 273v3M626.5 271v2M627.5 269v2M628.5 268v1M629.5 267v1M630.5 266v1M631.5 265v1M632.5 263v2M633.5 262v1M634.5 261v1M635.5 259v2M636.5 257v2M637.5 255v2M638.5 253v2M639.5 251v2M640.5 250v1M641.5 250v1M642.5 250v1M643.5 249v1M644.5 249v1M645.5 250v1M646.5 250v1M647.5 251v1M648.5 251v1M649.5 252v1M650.5 253v1M651.5 254v1M652.5 255v2M653.5 257v2M654.5 259v2M655.5 261v1M656.5 262v2M657.5 264v2M658.5 266v2M659.5 268v2M660.5 270v1M661.5 271v1M662.5 272v1M663.5 273v1M664.5 274v1M665.5 275v1M666.5 276v1M667.5 277v1M668.5 278v1M669.5 277v1M670.5 277v1M671.5 276v1M672.5 274v3M673.5 272v2M674.5 269v3M675.5 266v3M676.5 264v2M677.5 261v3M678.5 259v2M679.5 256v3M680.5 253v3M681.5 250v3M682.5 247v3M683.5 244v3M684.5 240v4M685.5 236v4M686.5 233v3M687.5 229v4M688.5 226v3M689.5 222v4M690.5 219v3M691.5 216v3M692.5 215v1M693.5 214v1M694.5 213v1M695.5 211v2M696.5 210v1M697.5 211v1M698.5 212v1M699.5 212v1M700.5 213v1M701.5 214v1M702.5 215v1M703.5 216v1M704.5 217v1M705.5 218v1M706.5 219v1M707.5 220v1M708.5 220v3M709.5 223v2M710.5 225v2M711.5 227v2M712.5 229v2M713.5 231v3M714.5 234v2M715.5 236v3M716.5 239v1M717.5 240v2M718.5 242v1M719.5 243v2M720.5 245v1M721.5 246v2M722.5 248v1M723.5 249v1M724.5 250v2M725.5 252v2M726.5 254v2M727.5 256v2M728.5 258v1M729.5 258v1M730.5 258v1M731.5 258v1M732.5 258v1M733.5 258v1M734.5 258v1M735.5 258v1M736.5 257v2M737.5 256v1M738.5 255v1M739.5 253v2M740.5 252v1M741.5 252v1M742.5 251v1M743.5 250v1M744.5 249v1M745.5 250v1M746.5 251v1M747.5 252v1M748.5 253v1M749.5 254v1M750.5 255v1M751.5 256v1M752.5 257v2M753.5 259v1M754.5 260v1M755.5 261v1M756.5 262v1M757.5 263v2M758.5 265v1M759.5 266v2M760.5 268v2M761.5 270v2M762.5 272v2M763.5 274v1M764.5 275v2M765.5 277v1M766.5 278v1M767.5 279v2M768.5 281v2M769.5 283v1M770.5 284v2M771.5 286v2M772.5 288v1M773.5 289v2M774.5 291v1M775.5 292v2M776.5 294v2M777.5 296v2M778.5 298v3M779.5 301v2M780.5 303v2M781.5 305v2M782.5 307v2M783.5 309v2M784.5 311v1M785.5 312v1M786.5 313v2M787.5 315v1M788.5 316v1M789.5 316v1M790.5 315v1M791.5 315v1M792.5 314v2M793.5 313v1M794.5 312v1M795.5 310v2M796.5 308v2M797.5 306v2M798.5 304v2M799.5 302v2M800.5 300v2M801.5 299v1M802.5 297v2M803.5 296v1M804.5 295v1M805.5 294v1M806.5 293v1M807.5 291v2M808.5 290v1M809.5 291v1M810.5 292v1M811.5 293v1M812.5 294v3M813.5 297v3M814.5 300v2M815.5 302v3M816.5 305v4M817.5 309v3M818.5 312v4M819.5 316v3M820.5 319v3M821.5 322v3M822.5 325v3M823.5 328v3M824.5 331v3M825.5 334v3M826.5 337v3M827.5 340v4M828.5 344v2M829.5 346v3M830.5 349v2M831.5 351v2M832.5 353v3M833.5 356v2M834.5 358v2M835.5 360v2M836.5 362v4M837.5 366v3M838.5 369v3M839.5 372v3M840.5 375v3M841.5 378v2M842.5 380v3M843.5 383v3M844.5 386v2M845.5 388v3M846.5 391v2M847.5 393v2M848.5 395v3M849.5 398v2M850.5 400v2M851.5 402v2M852.5 404v2M853.5 406v2M854.5 408v2M855.5 410v2M856.5 412v2M857.5 414v2M858.5 416v1M859.5 417v2M860.5 419v1M861.5 420v1M862.5 421v1M863.5 422v1M864.5 423v1M865.5 423v1M866.5 423v1M867.5 422v1M868.5 422v1M869.5 421v1M870.5 420v1M871.5 419v1M872.5 419v1M873.5 418v1M874.5 417v1M875.5 416v1M876.5 414v2M877.5 412v2M878.5 409v3M879.5 407v2M880.5 406v1M881.5 404v2M882.5 402v2M883.5 400v2M884.5 397v3M885.5 393v4M886.5 390v3M887.5 386v4M888.5 383v3M889.5 379v4M890.5 376v3M891.5 372v4M892.5 368v4M893.5 363v5M894.5 358v5M895.5 354v4M896.5 346v8M897.5 339v7M898.5 332v7M899.5 324v8M900.5 316v8M901.5 307v9M902.5 299v8M903.5 290v9M904.5 286v4M905.5 282v4M906.5 278v4M907.5 273v5M908.5 268v5M909.5 262v6M910.5 257v5M911.5 251v6M912.5 244v7M913.5 236v8M914.5 228v8M915.5 220v8M916.5 215v5M917.5 210v5M918.5 205v5M919.5 200v5M920.5 194v6M921.5 187v7M922.5 180v7M923.5 174v6M924.5 168v6M925.5 163v5M926.5 158v5M927.5 152v6M928.5 150v2M929.5 147v3M930.5 145v2M931.5 142v3M932.5 141v6M933.5 147v6M934.5 153v7M935.5 160v6M936.5 166v7M937.5 173v7M938.5 180v6M939.5 186v7M940.5 193v10M941.5 203v9M942.5 212v10M943.5 222v9M944.5 231v6M945.5 237v5M946.5 242v6M947.5 248v5M948.5 253v8M949.5 261v9M950.5 270v8M951.5 278v9M952.5 287v6M953.5 293v7M954.5 300v7M955.5 307v7M956.5 314v10M957.5 324v10M958.5 334v10M959.5 344v10M960.5 354v11M961.5 365v10M962.5 375v11M963.5 386v11M964.5 397v13M965.5 410v13M966.5 423v14M967.5 437v13M968.5 450v6M969.5 456v6M970.5 462v6M971.5 468v6M972.5 474v1M973.5 475v1M974.5 476v1M975.5 477v1M976.5 475v4M977.5 471v4M978.5 468v3M979.5 464v4M980.5 454v10M981.5 445v9M982.5 435v10M983.5 426v9M984.5 415v11M985.5 404v11M986.5 393v11M987.5 382v11M988.5 372v10M989.5 362v10M990.5 352v10M991.5 342v10M992.5 336v6M993.5 330v6M994.5 324v6M995.5 318v6M996.5 313v5M997.5 308v5M998.5 303v5M999.5 298v5M1000.5 297v3M1001.5 300v3M1002.5 303v2M1003.5 305v3M1004.5 308v5M1005.5 313v5M1006.5 318v6M1007.5 324v5M1008.5 329v9M1009.5 338v9M1010.5 347v9M1011.5 356v8M1012.5 364v6M1013.5 370v6M1014.5 376v5M1015.5 381v6M1016.5 387v6M1017.5 393v5M1018.5 398v6M1019.5 404v6M1020.5 410v1M1021.5 411v1M1022.5 412v1M1023.5 413v2M1024.5 415v1M1025.5 415v1M1026.5 415v1M1027.5 415v1M1028.5 412v4M1029.5 408v4M1030.5 405v3M1031.5 401v4M1032.5 397v4M1033.5 394v3M1034.5 390v4M1035.5 386v4M1036.5 383v3M1037.5 379v4M1038.5 376v3M1039.5 372v4M1040.5 371v1M1041.5 371v1M1042.5 370v1M1043.5 370v1M1044.5 367v3M1045.5 365v2M1046.5 362v3M1047.5 359v3M1048.5 358v1M1049.5 359v1M1050.5 359v1M1051.5 360v1M1052.5 361v3M1053.5 364v3M1054.5 367v3M1055.5 370v3M1056.5 373v1M1057.5 374v2M1058.5 376v1M1059.5 377v1M1060.5 378v1M1061.5 379v1M1062.5 380v1M1063.5 381v1M1064.5 382v3M1065.5 385v2M1066.5 387v3M1067.5 390v3M1068.5 393v1M1069.5 394v1M1070.5 395v1M1071.5 396v2M1072.5 398v1M1073.5 398v1M1074.5 398v1M1075.5 399v1M1076.5 399v2M1077.5 401v2M1078.5 403v2M1079.5 405v2M1080.5 407v2M1081.5 409v2M1082.5 411v2M1083.5 413v2M1084.5 415v2M1085.5 417v2M1086.5 419v2M1087.5 421v2M1088.5 423v1M1089.5 424v1M1090.5 425v1M1091.5 425v1M1092.5 426v1M1093.5 426v1M1094.5 425v1M1095.5 425v1M1096.5 425v1M1097.5 424v1M1098.5 423v1M1099.5 421v2M1100.5 418v3M1101.5 414v4M1102.5 410v4M1103.5 406v4M1104.5 401v5M1105.5 395v6M1106.5 390v5M1107.5 384v6M1108.5 380v4M1109.5 376v4M1110.5 372v4M1111.5 368v4M1112.5 366v2M1113.5 364v2M1114.5 362v2M1115.5 360v2M1116.5 359v1M1117.5 359v1M1118.5 360v1M1119.5 360v1M1120.5 360v4M1121.5 364v3M1122.5 367v4M1123.5 371v3M1124.5 374v6M1125.5 380v5M1126.5 385v5M1127.5 390v5M1128.5 395v3M1129.5 398v3M1130.5 401v3M1131.5 404v3M1132.5 407v2M1133.5 409v2M1134.5 411v1M1135.5 412v2M1136.5 414v1M1137.5 415v1M1138.5 416v1M1139.5 417v1M1140.5 417v1M1141.5 415v2M1142.5 413v2M1143.5 412v1M1144.5 411v1M1145.5 410v1M1146.5 410v1M1147.5 409v1M1148.5 409v1M1149.5 410v2M1150.5 412v2M1151.5 414v2M1152.5 416v1M1153.5 417v1M1154.5 417v1M1155.5 418v1M1156.5 419v1M1157.5 419v1M1158.5 419v1M1159.5 419v1M1160.5 419v1M1161.5 418v1M1162.5 417v1M1163.5 416v1M1164.5 413v3M1165.5 410v3M1166.5 407v3M1167.5 404v3M1168.5 399v5M1169.5 394v5M1170.5 389v5M1171.5 384v5M1172.5 380v4M1173.5 377v3M1174.5 373v4M1175.5 369v4M1176.5 367v2M1177.5 365v2M1178.5 363v2M1179.5 360v3M1180.5 359v1M1181.5 360v1M1182.5 360v1M1183.5 360v1M1184.5 360v1M1185.5 361v1M1186.5 362v2M1187.5 364v1M1188.5 365v1M1189.5 365v1M1190.5 365v1M1191.5 366v1M1192.5 366v1M1193.5 366v1M1194.5 365v1M1195.5 365v1M1196.5 361v4M1197.5 356v5M1198.5 351v5M1199.5 346v5M1200.5 340v6M1201.5 335v5M1202.5 329v6M1203.5 323v6M1204.5 318v5M1205.5 312v6M1206.5 307v5M1207.5 301v6M1208.5 297v4M1209.5 293v4M1210.5 289v4M1211.5 285v4M1212.5 279v6M1213.5 273v6M1214.5 268v5M1215.5 262v6M1216.5 258v4M1217.5 253v5M1218.5 248v5M1219.5 243v5M1220.5 237v6M1221.5 231v6M1222.5 225v6M1223.5 220v5M1224.5 214v6M1225.5 209v5M1226.5 203v6M1227.5 198v5M1228.5 193v5M1229.5 189v4M1230.5 184v5M1231.5 180v4M1232.5 176v4M1233.5 173v3M1234.5 170v3M1235.5 166v4M1236.5 164v2M1237.5 161v3M1238.5 158v3M1239.5 155v3M1240.5 154v1M1241.5 153v1M1242.5 152v1M1243.5 152v1M1244.5 149v3M1245.5 147v2M1246.5 145v2M1247.5 143v2M1248.5 142v1M1249.5 143v1M1250.5 144v1M1251.5 145v1M1252.5 146v2M1253.5 148v1M1254.5 149v2M1255.5 151v2M1256.5 153v2M1257.5 155v2M1258.5 157v2M1259.5 159v2M1260.5 161v3M1261.5 164v3M1262.5 167v2M1263.5 169v3M1264.5 172v3M1265.5 175v3M1266.5 178v3M1267.5 181v3M1268.5 184v1" stroke="#ffa500" stroke-width="1" fill="none" shape-rendering="crispEdges"/>
<g shape-rendering="crispEdges">
<line x1="4" y1="563.5" x2="1596" y2="563.5" stroke="#c0c0c0" stroke-width="1" stroke-dasharray="3 3"/>
<line x1="4" y1="599.5" x2="1596" y2="599.5" stroke="#c0c0c0" stroke-width="1" stroke-dasharray="3 3"/>
</g>
<path d="M4.5 586v1M5.5 586v1M6.5 585v1M7.5 585v1M8.5 585v1M9.5 584v1M10.5 583v1M11.5 582v1M12.5 582v1M13.5 583v1M14.5 584v1M15.5 585v1M16.5 586v1M17.5 586v1M18.5 586v1M19.5 585v1M20.5 583v3M21.5 581v2M22.5 579v2M23.5 576v3M24.5 575v1M25.5 574v1M26.5 573v1M27.5 572v1M28.5 571v1M29.5 570v1M30.5 569v1M31.5 568v1M32.5 567v1M33.5 567v1M34.5 567v1M35.5 566v1M36.5 566v1M37.5 566v1M38.5 566v1M39.5 567v1M40.5 567v1M41.5 567v1M42.5 567v1M43.5 567v1M44.5 567v1M45.5 567v1M46.5 568v1M47.5 569v1M48.5 570v1M49.5 570v1M50.5 569v1M51.5 569v1M52.5 569v1M53.5 569v1M54.5 569v1M55.5 569v1M56.5 569v3M57.5 572v2M58.5 574v3M59.5 577v3M60.5 580v1M61.5 580v1M62.5 580v1M63.5 581v1M64.5 581v1M65.5 582v1M66.5 582v1M67.5 583v1M68.5 584v1M69.5 584v1M70.5 583v1M71.5 583v1M72.5 583v2M73.5 585v2M74.5 587v2M75.5 589v2M76.5 591v1M77.5 591v1M78.5 590v1M79.5 590v1M80.5 590v1M81.5 590v1M82.5 591v1M83.5 591v1M84.5 591v1M85.5 591v1M86.5 591v1M87.5 591v1M88.5 590v2M89.5 588v2M90.5 586v2M91.5 584v2M92.5 583v1M93.5 583v1M94.5 583v1M95.5 583v1M96.5 583v1M97.5 583v1M98.5 583v1M99.5 584v1M100.5 584v1M101.5 583v1M102.5 582v1M103.5 582v1M104.5 581v1M105.5 581v1M106.5 582v1M107.5 583v1M108.5 584v1M109.5 585v1M110.5 586v2M111.5 588v1M112.5 589v1M113.5 589v1M114.5 588v1M115.5 587v1M116.5 586v1M117.5 586v1M118.5 586v1M119.5 586v1M120.5 587v1M121.5 587v1M122.5 587v1M123.5 587v1M124.5 588v1M125.5 588v1M126.5 588v1M127.5 588v1M128.5 588v1M129.5 588v1M130.5 588v1M131.5 588v1M132.5 589v1M133.5 590v2M134.5 592v2M135.5 594v2M136.5 596v1M137.5 596v1M138.5 597v1M139.5 597v1M140.5 598v1M141.5 597v1M142.5 596v1M143.5 595v1M144.5 594v1M145.5 595v1M146.5 596v1M147.5 597v1M148.5 598v1M149.5 598v1M150.5 597v1M151.5 597v1M152.5 597v1M153.5 596v1M154.5 595v1M155.5 594v1M156.5 593v1M157.5 593v1M158.5 592v1M159.5 592v1M160.5 592v1M161.5 592v1M162.5 593v1M163.5 594v1M164.5 594v2M165.5 596v2M166.5 598v2M167.5 600v2M168.5 600v3M169.5 597v3M170.5 595v2M171.5 592v3M172.5 591v1M173.5 591v1M174.5 592v1M175.5 592v1M176.5 590v3M177.5 586v4M178.5 583v3M179.5 580v3M180.5 579v1M181.5 579v1M182.5 579v1M183.5 579v1M184.5 579v1M185.5 578v1M186.5 577v1M187.5 576v1M188.5 575v1M189.5 576v1M190.5 577v1M191.5 578v1M192.5 579v1M193.5 578v1M194.5 578v1M195.5 577v1M196.5 577v1M197.5 577v1M198.5 578v1M199.5 578v1M200.5 579v1M201.5 579v1M202.5 578v1M203.5 578v1M204.5 578v1M205.5 579v1M206.5 580v1M207.5 581v1M208.5 582v2M209.5 584v1M210.5 585v1M211.5 586v1M212.5 587v1M213.5 588v1M214.5 589v1M215.5 590v1M216.5 591v1M217.5 592v1M218.5 592v1M219.5 592v1M220.5 593v1M221.5 592v1M222.5 592v1M223.5 592v1M224.5 591v1M225.5 591v1M226.5 591v1M227.5 591v1M228.5 591v1M229.5 592v1M230.5 592v1M231.5 592v1M232.5 592v1M233.5 592v1M234.5 591v1M235.5 591v1M236.5 591v1M237.5 591v1M238.5 591v1M239.5 591v1M240.5 590v3M241.5 588v2M242.5 585v3M243.5 582v3M244.5 581v1M245.5 581v1M246.5 581v1M247.5 582v1M248.5 582v1M249.5 583v1M250.5 584v2M251.5 586v1M252.5 587v1M253.5 588v1M254.5 588v1M255.5 589v1M256.5 589v1M257.5 589v1M258.5 590v1M259.5 590v1M260.5 590v1M261.5 591v1M262.5 592v1M263.5 593v1M264.5 593v2M265.5 595v2M266.5 597v1M267.5 598v2M268.5 600v1M269.5 600v1M270.5 601v1M271.5 601v1M272.5 601v1M273.5 601v1M274.5 601v1M275.5 602v1M276.5 602v1M277.5 602v1M278.5 602v1M279.5 602v1M280.5 600v3M281.5 597v3M282.5 594v3M283.5 591v3M284.5 590v1M285.5 590v1M286.5 589v1M287.5 588v1M288.5 588v1M289.5 588v1M290.5 587v1M291.5 587v1M292.5 587v1M293.5 587v1M294.5 588v1M295.5 588v1M296.5 589v1M297.5 587v2M298.5 586v1M299.5 585v1M300.5 584v1M301.5 585v1M302.5 585v1M303.5 586v1M304.5 586v2M305.5 588v1M306.5 589v1M307.5 590v2M308.5 590v3M309.5 587v3M310.5 584v3M311.5 581v3M312.5 580v1M313.5 580v1M314.5 580v1M315.5 580v1M316.5 580v1M317.5 580v1M318.5 581v1M319.5 581v1M320.5 581v2M321.5 583v2M322.5 585v2M323.5 587v2M324.5 588v2M325.5 586v2M326.5 584v2M327.5 582v2M328.5 581v1M329.5 581v1M330.5 581v1M331.5 581v1M332.5 582v1M333.5 582v1M334.5 582v1M335.5 582v1M336.5 582v2M337.5 584v1M338.5 585v2M339.5 587v1M340.5 588v1M341.5 588v1M342.5 587v1M343.5 587v1M344.5 586v1M345.5 587v1M346.5 588v1M347.5 589v1M348.5 589v1M349.5 589v1M350.5 588v1M351.5 588v1M352.5 587v2M353.5 589v1M354.5 590v2M355.5 592v1M356.5 593v1M357.5 593v1M358.5 594v1M359.5 594v1M360.5 594v1M361.5 594v1M362.5 594v1M363.5 593v1M364.5 593v1M365.5 593v1M366.5 593v1M367.5 593v1M368.5 594v1M369.5 594v1M370.5 595v1M371.5 596v1M372.5 597v1M373.5 595v2M374.5 594v1M375.5 593v1M376.5 592v1M377.5 591v1M378.5 590v1M379.5 590v1M380.5 588v2M381.5 587v1M382.5 585v2M383.5 583v2M384.5 582v1M385.5 583v1M386.5 584v1M387.5 584v1M388.5 585v1M389.5 584v1M390.5 584v1M391.5 584v1M392.5 583v1M393.5 583v1M394.5 583v1M395.5 583v1M396.5 583v1M397.5 584v2M398.5 586v1M399.5 587v1M400.5 588v1M401.5 587v1M402.5 585v2M403.5 584v1M404.5 583v1M405.5 581v2M406.5 580v1M407.5 578v2M408.5 577v1M409.5 577v1M410.5 576v1M411.5 576v1M412.5 575v1M413.5 575v1M414.5 575v1M415.5 575v1M416.5 575v1M417.5 575v1M418.5 576v1M419.5 577v1M420.5 577v1M421.5 577v1M422.5 576v1M423.5 576v1M424.5 575v2M425.5 574v1M426.5 573v1M427.5 572v1M428.5 570v2M429.5 569v1M430.5 568v1M431.5 566v2M432.5 565v1M433.5 565v1M434.5 564v1M435.5 564v1M436.5 563v1M437.5 563v1M438.5 563v1M439.5 563v1M440.5 563v1M441.5 564v1M442.5 564v1M443.5 565v1M444.5 566v1M445.5 567v1M446.5 567v1M447.5 567v1M448.5 567v1M449.5 568v1M450.5 569v1M451.5 570v1M452.5 571v1M453.5 572v1M454.5 573v1M455.5 574v1M456.5 575v1M457.5 576v1M458.5 577v1M459.5 577v1M460.5 578v1M461.5 578v1M462.5 578v1M463.5 578v1M464.5 578v1M465.5 577v1M466.5 576v1M467.5 575v1M468.5 575v1M469.5 574v1M470.5 574v1M471.5 573v1M472.5 573v1M473.5 572v1M474.5 572v1M475.5 572v1M476.5 571v2M477.5 570v1M478.5 569v1M479.5 568v1M480.5 567v1M481.5 567v1M482.5 566v1M483.5 566v1M484.5 566v1M485.5 566v1M486.5 567v1M487.5 567v1M488.5 568v1M489.5 568v1M490.5 568v1M491.5 569v1M492.5 569v4M493.5 573v3M494.5 576v4M495.5 580v4M496.5 584v1M497.5 584v1M498.5 584v1M499.5 584v1M500.5 584v1M501.5 585v1M502.5 586v1M503.5 587v1M504.5 588v1M505.5 589v1M506.5 590v1M507.5 591v1M508.5 592v1M509.5 592v1M510.5 592v1M511.5 592v1M512.5 592v1M513.5 591v1M514.5 590v1M515.5 589v1M516.5 588v1M517.5 589v1M518.5 590v1M519.5 591v1M520.5 592v1M521.5 592v1M522.5 592v1M523.5 592v1M524.5 592v1M525.5 592v1M526.5 592v1M527.5 592v1M528.5 591v3M529.5 589v2M530.5 586v3M531.5 584v2M532.5 583v1M533.5 583v1M534.5 582v1M535.5 582v1M536.5 582v1M537.5 581v1M538.5 580v1M539.5 578v2M540.5 577v1M541.5 578v1M542.5 578v1M543.5 578v1M544.5 578v1M545.5 579v1M546.5 580v1M547.5 580v1M548.5 581v1M549.5 580v1M550.5 579v1M551.5 578v1M552.5 577v2M553.5 579v2M554.5 581v3M555.5 584v2M556.5 586v1M557.5 586v1M558.5 587v1M559.5 587v1M560.5 587v1M561.5 588v1M562.5 588v1M563.5 589v1M564.5 589v1M565.5 589v1M566.5 589v1M567.5 589v1M568.5 589v1M569.5 590v1M570.5 590v1M571.5 591v1M572.5 591v1M573.5 591v1M574.5 590v1M575.5 590v1M576.5 590v1M577.5 588v2M578.5 587v1M579.5 586v1M580.5 585v1M581.5 585v1M582.5 586v1M583.5 586v1M584.5 585v2M585.5 582v3M586.5 580v2M587.5 577v3M588.5 576v1M589.5 576v1M590.5 575v1M591.5 575v1M592.5 574v1M593.5 574v1M594.5 574v1M595.5 574v1M596.5 574v1M597.5 573v1M598.5 573v1M599.5 573v1M600.5 573v2M601.5 575v2M602.5 577v3M603.5 580v2M604.5 582v1M605.5 582v1M606.5 582v1M607.5 581v1M608.5 581v1M609.5 580v1M610.5 579v1M611.5 578v1M612.5 577v1M613.5 576v1M614.5 576v1M615.5 575v1M616.5 575v1M617.5 575v1M618.5 575v1M619.5 576v1M620.5 576v1M621.5 575v1M622.5 573v2M623.5 572v1M624.5 571v1M625.5 570v1M626.5 569v1M627.5 569v1M628.5 568v1M629.5 569v1M630.5 570v1M631.5 571v1M632.5 572v1M633.5 572v1M634.5 571v1M635.5 570v1M636.5 570v1M637.5 569v1M638.5 568v1M639.5 568v1M640.5 567v2M641.5 569v1M642.5 570v1M643.5 571v2M644.5 573v1M645.5 573v1M646.5 574v1M647.5 575v1M648.5 576v1M649.5 577v2M650.5 579v1M651.5 580v2M652.5 582v1M653.5 582v1M654.5 583v1M655.5 584v1M656.5 584v1M657.5 583v1M658.5 583v1M659.5 582v1M660.5 581v1M661.5 581v1M662.5 580v1M663.5 580v1M664.5 580v1M665.5 580v1M666.5 581v1M667.5 581v1M668.5 581v1M669.5 581v1M670.5 580v1M671.5 579v1M672.5 577v2M673.5 575v2M674.5 572v3M675.5 570v2M676.5 569v1M677.5 568v1M678.5 568v1M679.5 567v1M680.5 567v1M681.5 566v1M682.5 566v1M683.5 565v1M684.5 565v1M685.5 564v1M686.5 564v1M687.5 563v1M688.5 562v1M689.5 563v1M690.5 563v1M691.5 564v1M692.5 564v1M693.5 565v1M694.5 565v1M695.5 566v1M696.5 567v2M697.5 569v2M698.5 571v2M699.5 573v3M700.5 576v1M701.5 575v1M702.5 575v1M703.5 575v1M704.5 575v1M705.5 574v1M706.5 573v1M707.5 573v1M708.5 572v2M709.5 574v2M710.5 576v2M711.5 578v3M712.5 581v1M713.5 582v1M714.5 582v1M715.5 583v1M716.5 584v1M717.5 584v1M718.5 585v1M719.5 585v1M720.5 586v1M721.5 585v1M722.5 585v1M723.5 585v1M724.5 584v1M725.5 584v1M726.5 583v1M727.5 583v1M728.5 583v1M729.5 582v1M730.5 582v1M731.5 581v1M732.5 581v1M733.5 581v1M734.5 582v1M735.5 582v1M736.5 583v1M737.5 581v2M738.5 580v1M739.5 578v2M740.5 577v1M741.5 578v1M742.5 578v1M743.5 579v1M744.5 579v2M745.5 581v2M746.5 583v2M747.5 585v2M748.5 587v1M749.5 587v1M750.5 587v1M751.5 588v1M752.5 588v1M753.5 588v1M754.5 588v1M755.5 589v1M756.5 589v1M757.5 588v1M758.5 587v1M759.5 586v1M760.5 586v1M761.5 587v1M762.5 588v1M763.5 589v1M764.5 590v1M765.5 590v1M766.5 591v1M767.5 592v1M768.5 593v1M769.5 594v1M770.5 595v1M771.5 595v1M772.5 596v1M773.5 595v1M774.5 595v1M775.5 595v1M776.5 595v1M777.5 595v1M778.5 596v1M779.5 596v1M780.5 597v1M781.5 597v1M782.5 597v1M783.5 598v1M784.5 598v1M785.5 598v1M786.5 598v1M787.5 598v1M788.5 597v2M789.5 595v2M790.5 593v2M791.5 590v3M792.5 588v2M793.5 586v2M794.5 583v3M795.5 581v2M796.5 580v1M797.5 580v1M798.5 580v1M799.5 580v1M800.5 579v2M801.5 581v1M802.5 582v2M803.5 584v1M804.5 585v1M805.5 586v1M806.5 586v1M807.5 587v1M808.5 587v1M809.5 588v1M810.5 589v2M811.5 591v1M812.5 592v1M813.5 593v1M814.5 593v1M815.5 594v1M816.5 595v1M817.5 596v1M818.5 596v1M819.5 596v1M820.5 597v1M821.5 597v1M822.5 598v1M823.5 598v1M824.5 598v1M825.5 599v1M826.5 599v1M827.5 600v1M828.5 600v1M829.5 601v1M830.5 601v1M831.5 601v1M832.5 601v1M833.5 602v1M834.5 602v1M835.5 603v1M836.5 603v1M837.5 604v1M838.5 605v1M839.5 606v1M840.5 607v1M841.5 607v1M842.5 607v1M843.5 607v1M844.5 607v1M845.5 607v1M846.5 607v1M847.5 607v1M848.5 607v1M849.5 608v1M850.5 608v1M851.5 608v1M852.5 608v1M853.5 608v1M854.5 608v1M855.5 609v1M856.5 609v1M857.5 609v1M858.5 610v1M859.5 610v1M860.5 611v1M861.5 610v1M862.5 609v1M863.5 608v1M864.5 605v3M865.5 602v3M866.5 599v3M867.5 596v3M868.5 595v1M869.5 594v1M870.5 594v1M871.5 594v1M872.5 594v1M873.5 594v1M874.5 594v1M875.5 594v1M876.5 594v1M877.5 593v1M878.5 593v1M879.5 592v1M880.5 592v1M881.5 592v1M882.5 592v1M883.5 592v1M884.5 588v4M885.5 583v5M886.5 578v5M887.5 573v5M888.5 572v1M889.5 571v1M890.5 571v1M891.5 571v1M892.5 571v1M893.5 570v1M894.5 569v1M895.5 568v1M896.5 566v2M897.5 564v2M898.5 562v2M899.5 560v2M900.5 559v1M901.5 558v1M902.5 557v1M903.5 557v1M904.5 556v2M905.5 558v1M906.5 559v2M907.5 561v1M908.5 562v1M909.5 562v1M910.5 561v1M911.5 560v1M912.5 559v1M913.5 558v1M914.5 556v2M915.5 555v1M916.5 554v1M917.5 554v1M918.5 554v1M919.5 554v1M920.5 554v1M921.5 553v1M922.5 552v1M923.5 551v1M924.5 550v3M925.5 553v2M926.5 555v3M927.5 558v2M928.5 560v2M929.5 562v1M930.5 563v2M931.5 565v2M932.5 567v3M933.5 570v4M934.5 574v4M935.5 578v4M936.5 582v1M937.5 582v1M938.5 582v1M939.5 583v1M940.5 583v1M941.5 583v1M942.5 583v1M943.5 583v1M944.5 582v2M945.5 581v1M946.5 580v1M947.5 579v1M948.5 578v2M949.5 580v3M950.5 583v2M951.5 585v3M952.5 588v1M953.5 589v2M954.5 591v1M955.5 592v2M956.5 594v1M957.5 595v1M958.5 596v1M959.5 597v1M960.5 598v1M961.5 599v1M962.5 599v1M963.5 599v1M964.5 599v1M965.5 599v1M966.5 599v1M967.5 600v1M968.5 599v2M969.5 597v2M970.5 595v2M971.5 593v2M972.5 592v1M973.5 592v1M974.5 591v1M975.5 591v1M976.5 590v1M977.5 590v1M978.5 589v1M979.5 588v1M980.5 586v3M981.5 584v2M982.5 581v3M983.5 579v2M984.5 578v1M985.5 577v1M986.5 577v1M987.5 577v1M988.5 576v1M989.5 576v1M990.5 575v1M991.5 574v1M992.5 574v1M993.5 575v1M994.5 576v2M995.5 578v1M996.5 579v1M997.5 579v1M998.5 579v1M999.5 579v1M1000.5 579v1M1001.5 580v1M1002.5 581v1M1003.5 582v1M1004.5 583v1M1005.5 584v1M1006.5 585v1M1007.5 586v1M1008.5 587v1M1009.5 587v1M1010.5 588v1M1011.5 589v1M1012.5 589v1M1013.5 589v1M1014.5 589v1M1015.5 589v1M1016.5 589v1M1017.5 589v1M1018.5 589v1M1019.5 589v1M1020.5 589v1M1021.5 587v2M1022.5 586v1M1023.5 585v1M1024.5 584v1M1025.5 584v1M1026.5 584v1M1027.5 585v1M1028.5 585v1M1029.5 584v1M1030.5 583v1M1031.5 582v1M1032.5 581v1M1033.5 581v1M1034.5 580v1M1035.5 580v1M1036.5 580v1M1037.5 580v1M1038.5 580v1M1039.5 581v1M1040.5 581v1M1041.5 581v1M1042.5 582v1M1043.5 582v1M1044.5 583v1M1045.5 582v1M1046.5 580v2M1047.5 579v1M1048.5 578v2M1049.5 580v1M1050.5 581v1M1051.5 582v1M1052.5 583v1M1053.5 584v1M1054.5 585v1M1055.5 586v1M1056.5 586v1M1057.5 586v1M1058.5 585v1M1059.5 584v1M1060.5 583v1M1061.5 584v1M1062.5 584v1M1063.5 584v1M1064.5 584v1M1065.5 584v1M1066.5 584v1M1067.5 584v1M1068.5 584v1M1069.5 584v1M1070.5 585v1M1071.5 585v1M1072.5 585v1M1073.5 586v1M1074.5 586v1M1075.5 587v1M1076.5 587v1M1077.5 587v1M1078.5 588v1M1079.5 588v1M1080.5 588v1M1081.5 588v1M1082.5 589v1M1083.5 589v1M1084.5 589v1M1085.5 589v1M1086.5 589v1M1087.5 589v1M1088.5 589v1M1089.5 588v1M1090.5 587v1M1091.5 587v1M1092.5 586v1M1093.5 586v1M1094.5 585v1M1095.5 585v1M1096.5 585v1M1097.5 584v1M1098.5 584v1M1099.5 584v1M1100.5 582v2M1101.5 580v2M1102.5 579v1M1103.5 577v2M1104.5 575v2M1105.5 574v1M1106.5 573v1M1107.5 572v1M1108.5 571v1M1109.5 572v1M1110.5 572v1M1111.5 573v1M1112.5 573v2M1113.5 575v2M1114.5 577v1M1115.5 578v2M1116.5 580v1M1117.5 581v1M1118.5 582v2M1119.5 584v1M1120.5 585v1M1121.5 586v1M1122.5 586v1M1123.5 587v1M1124.5 588v1M1125.5 588v1M1126.5 587v1M1127.5 587v1M1128.5 587v1M1129.5 586v1M1130.5 585v1M1131.5 583v2M1132.5 582v1M1133.5 583v1M1134.5 583v1M1135.5 584v1M1136.5 584v1M1137.5 585v1M1138.5 585v1M1139.5 586v1M1140.5 586v1M1141.5 585v1M1142.5 584v1M1143.5 583v1M1144.5 582v1M1145.5 582v1M1146.5 583v1M1147.5 584v1M1148.5 584v1M1149.5 585v1M1150.5 586v1M1151.5 586v1M1152.5 587v1M1153.5 587v1M1154.5 586v1M1155.5 586v1M1156.5 585v1M1157.5 585v1M1158.5 585v1M1159.5 586v1M1160.5 584v3M1161.5 582v2M1162.5 580v2M1163.5 578v2M1164.5 577v1M1165.5 576v1M1166.5 576v1M1167.5 575v1M1168.5 574v1M1169.5 573v1M1170.5 573v1M1171.5 572v1M1172.5 571v1M1173.5 572v1M1174.5 573v1M1175.5 573v1M1176.5 574v2M1177.5 576v1M1178.5 577v1M1179.5 578v2M1180.5 580v1M1181.5 580v1M1182.5 580v1M1183.5 579v1M1184.5 579v1M1185.5 579v1M1186.5 580v1M1187.5 580v1M1188.5 579v2M1189.5 578v1M1190.5 576v2M1191.5 574v2M1192.5 573v1M1193.5 573v1M1194.5 574v1M1195.5 574v1M1196.5 573v2M1197.5 571v2M1198.5 569v2M1199.5 568v1M1200.5 567v1M1201.5 566v1M1202.5 566v1M1203.5 565v1M1204.5 564v1M1205.5 565v1M1206.5 565v1M1207.5 565v1M1208.5 566v1M1209.5 565v1M1210.5 565v1M1211.5 564v1M1212.5 564v1M1213.5 563v1M1214.5 563v1M1215.5 562v1M1216.5 562v1M1217.5 561v1M1218.5 560v1M1219.5 559v1M1220.5 558v1M1221.5 557v1M1222.5 556v1M1223.5 556v1M1224.5 555v1M1225.5 556v1M1226.5 557v1M1227.5 557v1M1228.5 558v1M1229.5 558v1M1230.5 559v1M1231.5 559v1M1232.5 559v1M1233.5 559v1M1234.5 559v1M1235.5 559v1M1236.5 559v1M1237.5 558v1M1238.5 558v1M1239.5 557v1M1240.5 556v1M1241.5 556v1M1242.5 556v1M1243.5 556v1M1244.5 556v1M1245.5 556v1M1246.5 556v1M1247.5 555v1M1248.5 555v4M1249.5 559v4M1250.5 563v4M1251.5 567v4M1252.5 571v1M1253.5 571v1M1254.5 572v1M1255.5 573v1M1256.5 573v1M1257.5 572v1M1258.5 572v1M1259.5 571v1M1260.5 570v1M1261.5 571v1M1262.5 571v1M1263.5 572v1M1264.5 572v1M1265.5 572v1M1266.5 571v1M1267.5 571v1M1268.5 571v1" stroke="#1e90ff" stroke-width="1" fill="none" shape-rendering="crispEdges"/>
<g shape-rendering="crispEdges">
<rect x="4" y="676" width="1" height="9" fill="#c0c0c0"/>
<rect x="8" y="678" width="1" height="7" fill="#c0c0c0"/>
<rect x="12" y="679" width="1" height="6" fill="#c0c0c0"/>
<rect x="16" y="682" width="1" height="3" fill="#c0c0c0"/>
<rect x="20" y="683" width="1" height="2" fill="#c0c0c0"/>
<rect x="24" y="681" width="1" height="4" fill="#c0c0c0"/>
<rect x="28" y="679" width="1" height="6" fill="#c0c0c0"/>
<rect x="32" y="676" width="1" height="9" fill="#c0c0c0"/>
<rect x="36" y="672" width="1" height="13" fill="#c0c0c0"/>
<rect x="40" y="670" width="1" height="15" fill="#c0c0c0"/>
<rect x="44" y="669" width="1" height="16" fill="#c0c0c0"/>
<rect x="48" y="668" width="1" height="17" fill="#c0c0c0"/>
<rect x="52" y="668" width="1" height="17" fill="#c0c0c0"/>
<rect x="56" y="668" width="1" height="17" fill="#c0c0c0"/>
<rect x="60" y="670" width="1" height="15" fill="#c0c0c0"/>
<rect x="64" y="672" width="1" height="13" fill="#c0c0c0"/>
<rect x="68" y="675" width="1" height="10" fill="#c0c0c0"/>
<rect x="72" y="677" width="1" height="8" fill="#c0c0c0"/>
<rect x="76" y="681" width="1" height="4" fill="#c0c0c0"/>
<rect x="80" y="684" width="1" height="1" fill="#c0c0c0"/>
<rect x="84" y="685" width="1" height="2" fill="#c0c0c0"/>
<rect x="88" y="685" width="1" height="4" fill="#c0c0c0"/>
<rect x="92" y="685" width="1" height="3" fill="#c0c0c0"/>
<rect x="96" y="685" width="1" height="3" fill="#c0c0c0"/>
<rect x="100" y="685" width="1" height="3" fill="#c0c0c0"/>
<rect x="104" y="685" width="1" height="3" fill="#c0c0c0"/>
<rect x="108" y="685" width="1" height="3" fill="#c0c0c0"/>
<rect x="112" y="685" width="1" height="4" fill="#c0c0c0"/>
<rect x="116" y="685" width="1" height="5" fill="#c0c0c0"/>
<rect x="120" y="685" width="1" height="5" fill="#c0c0c0"/>
<rect x="124" y="685" width="1" height="6" fill="#c0c0c0"/>
<rect x="128" y="685" width="1" height="6" fill="#c0c0c0"/>
<rect x="132" y="685" width="1" height="7" fill="#c0c0c0"/>
<rect x="136" y="685" width="1" height="9" fill="#c0c0c0"/>
<rect x="140" y="685" width="1" height="11" fill="#c0c0c0"/>
<rect x="144" y="685" width="1" height="12" fill="#c0c0c0"/>
<rect x="148" y="685" width="1" height="14" fill="#c0c0c0"/>
<rect x="152" y="685" width="1" height="15" fill="#c0c0c0"/>
<rect x="156" y="685" width="1" height="15" fill="#c0c0c0"/>
<rect x="160" y="685" width="1" height="15" fill="#c0c0c0"/>
<rect x="164" y="685" width="1" height="15" fill="#c0c0c0"/>
<rect x="168" y="685" width="1" height="17" fill="#c0c0c0"/>
<rect x="172" y="685" width="1" height="17" fill="#c0c0c0"/>
<rect x="176" y="685" width="1" height="17" fill="#c0c0c0"/>
<rect x="180" y="685" width="1" height="14" fill="#c0c0c0"/>
<rect x="184" y="685" width="1" height="11" fill="#c0c0c0"/>
<rect x="188" y="685" width="1" height="7" fill="#c0c0c0"/>
<rect x="192" y="685" width="1" height="6" fill="#c0c0c0"/>
<rect x="196" y="685" width="1" height="4" fill="#c0c0c0"/>
<rect x="200" y="685" width="1" height="2" fill="#c0c0c0"/>
<rect x="204" y="685" width="1" height="1" fill="#c0c0c0"/>
<rect x="208" y="685" width="1" height="1" fill="#c0c0c0"/>
<rect x="212" y="685" width="1" height="3" fill="#c0c0c0"/>
<rect x="216" y="685" width="1" height="5" fill="#c0c0c0"/>
<rect x="220" y="685" width="1" height="7" fill="#c0c0c0"/>
<rect x="224" y="685" width="1" height="9" fill="#c0c0c0"/>
<rect x="228" y="685" width="1" height="10" fill="#c0c0c0"/>
<rect x="232" y="685" width="1" height="11" fill="#c0c0c0"/>
<rect x="236" y="685" width="1" height="11" fill="#c0c0c0"/>
<rect x="240" y="685" width="1" height="11" fill="#c0c0c0"/>
<rect x="244" y="685" width="1" height="10" fill="#c0c0c0"/>
<rect x="248" y="685" width="1" height="8" fill="#c0c0c0"/>
<rect x="252" y="685" width="1" height="8" fill="#c0c0c0"/>
<rect x="256" y="685" width="1" height="9" fill="#c0c0c0"/>
<rect x="260" y="685" width="1" height="9" fill="#c0c0c0"/>
<rect x="264" y="685" width="1" height="10" fill="#c0c0c0"/>
<rect x="268" y="685" width="1" height="14" fill="#c0c0c0"/>
<rect x="272" y="685" width="1" height="16" fill="#c0c0c0"/>
<rect x="276" y="685" width="1" height="18" fill="#c0c0c0"/>
<rect x="280" y="685" width="1" height="20" fill="#c0c0c0"/>
<rect x="284" y="685" width="1" height="19" fill="#c0c0c0"/>
<rect x="288" y="685" width="1" height="18" fill="#c0c0c0"/>
<rect x="292" y="685" width="1" height="16" fill="#c0c0c0"/>
<rect x="296" y="685" width="1" height="15" fill="#c0c0c0"/>
<rect x="300" y="685" width="1" height="13" fill="#c0c0c0"/>
<rect x="304" y="685" width="1" height="12" fill="#c0c0c0"/>
<rect x="308" y="685" width="1" height="13" fill="#c0c0c0"/>
<rect x="312" y="685" width="1" height="11" fill="#c0c0c0"/>
<rect x="316" y="685" width="1" height="9" fill="#c0c0c0"/>
<rect x="320" y="685" width="1" height="7" fill="#c0c0c0"/>
<rect x="324" y="685" width="1" height="8" fill="#c0c0c0"/>
<rect x="328" y="685" width="1" height="7" fill="#c0c0c0"/>
<rect x="332" y="685" width="1" height="6" fill="#c0c0c0"/>
<rect x="336" y="685" width="1" height="5" fill="#c0c0c0"/>
<rect x="340" y="685" width="1" height="6" fill="#c0c0c0"/>
<rect x="344" y="685" width="1" height="7" fill="#c0c0c0"/>
<rect x="348" y="685" width="1" height="8" fill="#c0c0c0"/>
<rect x="352" y="685" width="1" height="8" fill="#c0c0c0"/>
<rect x="356" y="685" width="1" height="10" fill="#c0c0c0"/>
<rect x="360" y="685" width="1" height="12" fill="#c0c0c0"/>
<rect x="364" y="685" width="1" height="13" fill="#c0c0c0"/>
<rect x="368" y="685" width="1" height="14" fill="#c0c0c0"/>
<rect x="372" y="685" width="1" height="15" fill="#c0c0c0"/>
<rect x="376" y="685" width="1" height="16" fill="#c0c0c0"/>
<rect x="380" y="685" width="1" height="15" fill="#c0c0c0"/>
<rect x="384" y="685" width="1" height="13" fill="#c0c0c0"/>
<rect x="388" y="685" width="1" height="12" fill="#c0c0c0"/>
<rect x="392" y="685" width="1" height="10" fill="#c0c0c0"/>
<rect x="396" y="685" width="1" height="9" fill="#c0c0c0"/>
<rect x="400" y="685" width="1" height="9" fill="#c0c0c0"/>
<rect x="404" y="685" width="1" height="8" fill="#c0c0c0"/>
<rect x="408" y="685" width="1" height="6" fill="#c0c0c0"/>
<rect x="412" y="685" width="1" height="4" fill="#c0c0c0"/>
<rect x="416" y="685" width="1" height="2" fill="#c0c0c0"/>
<rect x="420" y="685" width="1" height="1" fill="#c0c0c0"/>
<rect x="424" y="684" width="1" height="1" fill="#c0c0c0"/>
<rect x="428" y="682" width="1" height="3" fill="#c0c0c0"/>
<rect x="432" y="678" width="1" height="7" fill="#c0c0c0"/>
<rect x="436" y="675" width="1" height="10" fill="#c0c0c0"/>
<rect x="440" y="672" width="1" height="13" fill="#c0c0c0"/>
<rect x="444" y="671" width="1" height="14" fill="#c0c0c0"/>
<rect x="448" y="670" width="1" height="15" fill="#c0c0c0"/>
<rect x="452" y="670" width="1" height="15" fill="#c0c0c0"/>
<rect x="456" y="671" width="1" height="14" fill="#c0c0c0"/>
<rect x="460" y="673" width="1" height="12" fill="#c0c0c0"/>
<rect x="464" y="674" width="1" height="11" fill="#c0c0c0"/>
<rect x="468" y="675" width="1" height="10" fill="#c0c0c0"/>
<rect x="472" y="674" width="1" height="11" fill="#c0c0c0"/>
<rect x="476" y="674" width="1" height="11" fill="#c0c0c0"/>
<rect x="480" y="673" width="1" height="12" fill="#c0c0c0"/>
<rect x="484" y="672" width="1" height="13" fill="#c0c0c0"/>
<rect x="488" y="672" width="1" height="13" fill="#c0c0c0"/>
<rect x="492" y="672" width="1" height="13" fill="#c0c0c0"/>
<rect x="496" y="674" width="1" height="11" fill="#c0c0c0"/>
<rect x="500" y="677" width="1" height="8" fill="#c0c0c0"/>
<rect x="504" y="680" width="1" height="5" fill="#c0c0c0"/>
<rect x="508" y="683" width="1" height="2" fill="#c0c0c0"/>
<rect x="512" y="685" width="1" height="1" fill="#c0c0c0"/>
<rect x="516" y="685" width="1" height="2" fill="#c0c0c0"/>
<rect x="520" y="685" width="1" height="4" fill="#c0c0c0"/>
<rect x="524" y="685" width="1" height="5" fill="#c0c0c0"/>
<rect x="528" y="685" width="1" height="6" fill="#c0c0c0"/>
<rect x="532" y="685" width="1" height="6" fill="#c0c0c0"/>
<rect x="536" y="685" width="1" height="5" fill="#c0c0c0"/>
<rect x="540" y="685" width="1" height="4" fill="#c0c0c0"/>
<rect x="544" y="685" width="1" height="2" fill="#c0c0c0"/>
<rect x="548" y="685" width="1" height="2" fill="#c0c0c0"/>
<rect x="552" y="685" width="1" height="1" fill="#c0c0c0"/>
<rect x="556" y="685" width="1" height="2" fill="#c0c0c0"/>
<rect x="560" y="685" width="1" height="3" fill="#c0c0c0"/>
<rect x="564" y="685" width="1" height="4" fill="#c0c0c0"/>
<rect x="568" y="685" width="1" height="5" fill="#c0c0c0"/>
<rect x="572" y="685" width="1" height="6" fill="#c0c0c0"/>
<rect x="576" y="685" width="1" height="6" fill="#c0c0c0"/>
<rect x="580" y="685" width="1" height="6" fill="#c0c0c0"/>
<rect x="584" y="685" width="1" height="6" fill="#c0c0c0"/>
<rect x="588" y="685" width="1" height="4" fill="#c0c0c0"/>
<rect x="592" y="685" width="1" height="2" fill="#c0c0c0"/>
<rect x="596" y="685" width="1" height="1" fill="#c0c0c0"/>
<rect x="600" y="684" width="1" height="1" fill="#c0c0c0"/>
<rect x="604" y="684" width="1" height="1" fill="#c0c0c0"/>
<rect x="608" y="685" width="1" height="1" fill="#c0c0c0"/>
<rect x="612" y="684" width="1" height="1" fill="#c0c0c0"/>
<rect x="616" y="683" width="1" height="2" fill="#c0c0c0"/>
<rect x="620" y="682" width="1" height="3" fill="#c0c0c0"/>
<rect x="624" y="681" width="1" height="4" fill="#c0c0c0"/>
<rect x="628" y="679" width="1" height="6" fill="#c0c0c0"/>
<rect x="632" y="678" width="1" height="7" fill="#c0c0c0"/>
<rect x="636" y="677" width="1" height="8" fill="#c0c0c0"/>
<rect x="640" y="676" width="1" height="9" fill="#c0c0c0"/>
<rect x="644" y="676" width="1" height="9" fill="#c0c0c0"/>
<rect x="648" y="676" width="1" height="9" fill="#c0c0c0"/>
<rect x="652" y="678" width="1" height="7" fill="#c0c0c0"/>
<rect x="656" y="680" width="1" height="5" fill="#c0c0c0"/>
<rect x="660" y="680" width="1" height="5" fill="#c0c0c0"/>
<rect x="664" y="681" width="1" height="4" fill="#c0c0c0"/>
<rect x="668" y="682" width="1" height="3" fill="#c0c0c0"/>
<rect x="672" y="682" width="1" height="3" fill="#c0c0c0"/>
<rect x="676" y="680" width="1" height="5" fill="#c0c0c0"/>
<rect x="680" y="678" width="1" height="7" fill="#c0c0c0"/>
<rect x="684" y="676" width="1" height="9" fill="#c0c0c0"/>
<rect x="688" y="673" width="1" height="12" fill="#c0c0c0"/>
<rect x="692" y="672" width="1" height="13" fill="#c0c0c0"/>
<rect x="696" y="671" width="1" height="14" fill="#c0c0c0"/>
<rect x="700" y="672" width="1" height="13" fill="#c0c0c0"/>
<rect x="704" y="673" width="1" height="12" fill="#c0c0c0"/>
<rect x="708" y="673" width="1" height="12" fill="#c0c0c0"/>
<rect x="712" y="675" width="1" height="10" fill="#c0c0c0"/>
<rect x="716" y="677" width="1" height="8" fill="#c0c0c0"/>
<rect x="720" y="679" width="1" height="6" fill="#c0c0c0"/>
<rect x="724" y="681" width="1" height="4" fill="#c0c0c0"/>
<rect x="728" y="682" width="1" height="3" fill="#c0c0c0"/>
<rect x="732" y="682" width="1" height="3" fill="#c0c0c0"/>
<rect x="736" y="683" width="1" height="2" fill="#c0c0c0"/>
<rect x="740" y="683" width="1" height="2" fill="#c0c0c0"/>
<rect x="744" y="683" width="1" height="2" fill="#c0c0c0"/>
<rect x="748" y="684" width="1" height="1" fill="#c0c0c0"/>
<rect x="752" y="685" width="1" height="1" fill="#c0c0c0"/>
<rect x="756" y="685" width="1" height="2" fill="#c0c0c0"/>
<rect x="760" y="685" width="1" height="3" fill="#c0c0c0"/>
<rect x="764" y="685" width="1" height="4" fill="#c0c0c0"/>
<rect x="768" y="685" width="1" height="6" fill="#c0c0c0"/>
<rect x="772" y="685" width="1" height="8" fill="#c0c0c0"/>
<rect x="776" y="685" width="1" height="9" fill="#c0c0c0"/>
<rect x="780" y="685" width="1" height="11" fill="#c0c0c0"/>
<rect x="784" y="685" width="1" height="12" fill="#c0c0c0"/>
<rect x="788" y="685" width="1" height="13" fill="#c0c0c0"/>
<rect x="792" y="685" width="1" height="13" fill="#c0c0c0"/>
<rect x="796" y="685" width="1" height="10" fill="#c0c0c0"/>
<rect x="800" y="685" width="1" height="8" fill="#c0c0c0"/>
<rect x="804" y="685" width="1" height="8" fill="#c0c0c0"/>
<rect x="808" y="685" width="1" height="8" fill="#c0c0c0"/>
<rect x="812" y="685" width="1" height="9" fill="#c0c0c0"/>
<rect x="816" y="685" width="1" height="11" fill="#c0c0c0"/>
<rect x="820" y="685" width="1" height="12" fill="#c0c0c0"/>
<rect x="824" y="685" width="1" height="14" fill="#c0c0c0"/>
<rect x="828" y="685" width="1" height="16" fill="#c0c0c0"/>
<rect x="832" y="685" width="1" height="17" fill="#c0c0c0"/>
<rect x="836" y="685" width="1" height="19" fill="#c0c0c0"/>
<rect x="840" y="685" width="1" height="22" fill="#c0c0c0"/>
<rect x="844" y="685" width="1" height="24" fill="#c0c0c0"/>
<rect x="848" y="685" width="1" height="25" fill="#c0c0c0"/>
<rect x="852" y="685" width="1" height="26" fill="#c0c0c0"/>
<rect x="856" y="685" width="1" height="27" fill="#c0c0c0"/>
<rect x="860" y="685" width="1" height="28" fill="#c0c0c0"/>
<rect x="864" y="685" width="1" height="29" fill="#c0c0c0"/>
<rect x="868" y="685" width="1" height="27" fill="#c0c0c0"/>
<rect x="872" y="685" width="1" height="25" fill="#c0c0c0"/>
<rect x="876" y="685" width="1" height="24" fill="#c0c0c0"/>
<rect x="880" y="685" width="1" height="22" fill="#c0c0c0"/>
<rect x="884" y="685" width="1" height="20" fill="#c0c0c0"/>
<rect x="888" y="685" width="1" height="15" fill="#c0c0c0"/>
<rect x="892" y="685" width="1" height="10" fill="#c0c0c0"/>
<rect x="896" y="685" width="1" height="5" fill="#c0c0c0"/>
<rect x="900" y="683" width="1" height="2" fill="#c0c0c0"/>
<rect x="904" y="676" width="1" height="9" fill="#c0c0c0"/>
<rect x="908" y="671" width="1" height="14" fill="#c0c0c0"/>
<rect x="912" y="666" width="1" height="19" fill="#c0c0c0"/>
<rect x="916" y="659" width="1" height="26" fill="#c0c0c0"/>
<rect x="920" y="653" width="1" height="32" fill="#c0c0c0"/>
<rect x="924" y="646" width="1" height="39" fill="#c0c0c0"/>
<rect x="928" y="643" width="1" height="42" fill="#c0c0c0"/>
<rect x="932" y="643" width="1" height="42" fill="#c0c0c0"/>
<rect x="936" y="650" width="1" height="35" fill="#c0c0c0"/>
<rect x="940" y="656" width="1" height="29" fill="#c0c0c0"/>
<rect x="944" y="662" width="1" height="23" fill="#c0c0c0"/>
<rect x="948" y="664" width="1" height="21" fill="#c0c0c0"/>
<rect x="952" y="671" width="1" height="14" fill="#c0c0c0"/>
<rect x="956" y="682" width="1" height="3" fill="#c0c0c0"/>
<rect x="960" y="685" width="1" height="9" fill="#c0c0c0"/>
<rect x="964" y="685" width="1" height="20" fill="#c0c0c0"/>
<rect x="968" y="685" width="1" height="28" fill="#c0c0c0"/>
<rect x="972" y="685" width="1" height="32" fill="#c0c0c0"/>
<rect x="976" y="685" width="1" height="32" fill="#c0c0c0"/>
<rect x="980" y="685" width="1" height="31" fill="#c0c0c0"/>
<rect x="984" y="685" width="1" height="24" fill="#c0c0c0"/>
<rect x="988" y="685" width="1" height="17" fill="#c0c0c0"/>
<rect x="992" y="685" width="1" height="9" fill="#c0c0c0"/>
<rect x="996" y="685" width="1" height="7" fill="#c0c0c0"/>
<rect x="1000" y="685" width="1" height="4" fill="#c0c0c0"/>
<rect x="1004" y="685" width="1" height="5" fill="#c0c0c0"/>
<rect x="1008" y="685" width="1" height="8" fill="#c0c0c0"/>
<rect x="1012" y="685" width="1" height="12" fill="#c0c0c0"/>
<rect x="1016" y="685" width="1" height="15" fill="#c0c0c0"/>
<rect x="1020" y="685" width="1" height="17" fill="#c0c0c0"/>
<rect x="1024" y="685" width="1" height="16" fill="#c0c0c0"/>
<rect x="1028" y="685" width="1" height="16" fill="#c0c0c0"/>
<rect x="1032" y="685" width="1" height="13" fill="#c0c0c0"/>
<rect x="1036" y="685" width="1" height="11" fill="#c0c0c0"/>
<rect x="1040" y="685" width="1" height="9" fill="#c0c0c0"/>
<rect x="1044" y="685" width="1" height="8" fill="#c0c0c0"/>
<rect x="1048" y="685" width="1" height="6" fill="#c0c0c0"/>
<rect x="1052" y="685" width="1" height="6" fill="#c0c0c0"/>
<rect x="1056" y="685" width="1" height="8" fill="#c0c0c0"/>
<rect x="1060" y="685" width="1" height="8" fill="#c0c0c0"/>
<rect x="1064" y="685" width="1" height="8" fill="#c0c0c0"/>
<rect x="1068" y="685" width="1" height="8" fill="#c0c0c0"/>
<rect x="1072" y="685" width="1" height="9" fill="#c0c0c0"/>
<rect x="1076" y="685" width="1" height="10" fill="#c0c0c0"/>
<rect x="1080" y="685" width="1" height="11" fill="#c0c0c0"/>
<rect x="1084" y="685" width="1" height="13" fill="#c0c0c0"/>
<rect x="1088" y="685" width="1" height="14" fill="#c0c0c0"/>
<rect x="1092" y="685" width="1" height="13" fill="#c0c0c0"/>
<rect x="1096" y="685" width="1" height="13" fill="#c0c0c0"/>
<rect x="1100" y="685" width="1" height="11" fill="#c0c0c0"/>
<rect x="1104" y="685" width="1" height="8" fill="#c0c0c0"/>
<rect x="1108" y="685" width="1" height="2" fill="#c0c0c0"/>
<rect x="1112" y="684" width="1" height="1" fill="#c0c0c0"/>
<rect x="1116" y="684" width="1" height="1" fill="#c0c0c0"/>
<rect x="1120" y="685" width="1" height="1" fill="#c0c0c0"/>
<rect x="1124" y="685" width="1" height="3" fill="#c0c0c0"/>
<rect x="1128" y="685" width="1" height="5" fill="#c0c0c0"/>
<rect x="1132" y="685" width="1" height="5" fill="#c0c0c0"/>
<rect x="1136" y="685" width="1" height="5" fill="#c0c0c0"/>
<rect x="1140" y="685" width="1" height="6" fill="#c0c0c0"/>
<rect x="1144" y="685" width="1" height="6" fill="#c0c0c0"/>
<rect x="1148" y="685" width="1" height="6" fill="#c0c0c0"/>
<rect x="1152" y="685" width="1" height="7" fill="#c0c0c0"/>
<rect x="1156" y="685" width="1" height="8" fill="#c0c0c0"/>
<rect x="1160" y="685" width="1" height="8" fill="#c0c0c0"/>
<rect x="1164" y="685" width="1" height="5" fill="#c0c0c0"/>
<rect x="1168" y="685" width="1" height="2" fill="#c0c0c0"/>
<rect x="1172" y="683" width="1" height="2" fill="#c0c0c0"/>
<rect x="1176" y="681" width="1" height="4" fill="#c0c0c0"/>
<rect x="1180" y="681" width="1" height="4" fill="#c0c0c0"/>
<rect x="1184" y="681" width="1" height="4" fill="#c0c0c0"/>
<rect x="1188" y="681" width="1" height="4" fill="#c0c0c0"/>
<rect x="1192" y="679" width="1" height="6" fill="#c0c0c0"/>
<rect x="1196" y="677" width="1" height="8" fill="#c0c0c0"/>
<rect x="1200" y="673" width="1" height="12" fill="#c0c0c0"/>
<rect x="1204" y="668" width="1" height="17" fill="#c0c0c0"/>
<rect x="1208" y="665" width="1" height="20" fill="#c0c0c0"/>
<rect x="1212" y="662" width="1" height="23" fill="#c0c0c0"/>
<rect x="1216" y="658" width="1" height="27" fill="#c0c0c0"/>
<rect x="1220" y="653" width="1" height="32" fill="#c0c0c0"/>
<rect x="1224" y="647" width="1" height="38" fill="#c0c0c0"/>
<rect x="1228" y="644" width="1" height="41" fill="#c0c0c0"/>
<rect x="1232" y="642" width="1" height="43" fill="#c0c0c0"/>
<rect x="1236" y="641" width="1" height="44" fill="#c0c0c0"/>
<rect x="1240" y="638" width="1" height="47" fill="#c0c0c0"/>
<rect x="1244" y="637" width="1" height="48" fill="#c0c0c0"/>
<rect x="1248" y="636" width="1" height="49" fill="#c0c0c0"/>
<rect x="1252" y="639" width="1" height="46" fill="#c0c0c0"/>
<rect x="1256" y="643" width="1" height="42" fill="#c0c0c0"/>
<rect x="1260" y="646" width="1" height="39" fill="#c0c0c0"/>
<rect x="1264" y="648" width="1" height="37" fill="#c0c0c0"/>
<rect x="1268" y="651" width="1" height="34" fill="#c0c0c0"/>
</g>
<polyline points="4.5,676.5 8.5,676.5 12.5,675.5 16.5,676.5 20.5,677.5 24.5,677.5 28.5,678.5 32.5,679.5 36.5,678.5 40.5,678.5 44.5,677.5 48.5,676.5 52.5,674.5 56.5,672.5 60.5,671.5 64.5,670.5 68.5,670.5 72.5,671.5 76.5,672.5 80.5,674.5 84.5,676.5 88.5,678.5 92.5,680.5 96.5,682.5 100.5,684.5 104.5,686.5 108.5,687.5 112.5,688.5 116.5,688.5 120.5,689.5 124.5,689.5 128.5,689.5 132.5,690.5 136.5,690.5 140.5,691.5 144.5,692.5 148.5,693.5 152.5,694.5 156.5,695.5 160.5,696.5 164.5,697.5 168.5,698.5 172.5,699.5 176.5,700.5 180.5,700.5 184.5,700.5 188.5,699.5 192.5,698.5 196.5,697.5 200.5,696.5 204.5,694.5 208.5,692.5 212.5,690.5 216.5,690.5 220.5,689.5 224.5,689.5 228.5,690.5 232.5,691.5 236.5,691.5 240.5,693.5 244.5,693.5 248.5,694.5 252.5,694.5 256.5,695.5 260.5,695.5 264.5,695.5 268.5,695.5 272.5,696.5 276.5,696.5 280.5,698.5 284.5,699.5 288.5,700.5 292.5,701.5 296.5,701.5 300.5,702.5 304.5,701.5 308.5,701.5 312.5,700.5 316.5,699.5 320.5,698.5 324.5,697.5 328.5,696.5 332.5,695.5 336.5,694.5 340.5,693.5 344.5,692.5 348.5,692.5 352.5,692.5 356.5,692.5 360.5,693.5 364.5,693.5 368.5,694.5 372.5,695.5 376.5,696.5 380.5,697.5 384.5,698.5 388.5,698.5 392.5,698.5 396.5,698.5 400.5,698.5 404.5,697.5 408.5,696.5 412.5,695.5 416.5,693.5 420.5,692.5 424.5,690.5 428.5,689.5 432.5,687.5 436.5,685.5 440.5,683.5 444.5,680.5 448.5,678.5 452.5,677.5 456.5,675.5 460.5,674.5 464.5,673.5 468.5,672.5 472.5,672.5 476.5,673.5 480.5,673.5 484.5,673.5 488.5,673.5 492.5,673.5 496.5,673.5 500.5,674.5 504.5,674.5 508.5,675.5 512.5,676.5 516.5,678.5 520.5,680.5 524.5,682.5 528.5,684.5 532.5,686.5 536.5,687.5 540.5,688.5 544.5,689.5 548.5,689.5 552.5,689.5 556.5,689.5 560.5,688.5 564.5,688.5 568.5,688.5 572.5,688.5 576.5,689.5 580.5,689.5 584.5,689.5 588.5,690.5 592.5,690.5 596.5,690.5 600.5,689.5 604.5,688.5 608.5,688.5 612.5,687.5 616.5,686.5 620.5,685.5 624.5,684.5 628.5,683.5 632.5,682.5 636.5,682.5 640.5,681.5 644.5,680.5 648.5,679.5 652.5,678.5 656.5,678.5 660.5,678.5 664.5,678.5 668.5,678.5 672.5,679.5 676.5,679.5 680.5,680.5 684.5,679.5 688.5,679.5 692.5,678.5 696.5,677.5 700.5,676.5 704.5,675.5 708.5,674.5 712.5,674.5 716.5,674.5 720.5,674.5 724.5,675.5 728.5,676.5 732.5,677.5 736.5,678.5 740.5,680.5 744.5,681.5 748.5,682.5 752.5,683.5 756.5,684.5 760.5,684.5 764.5,685.5 768.5,686.5 772.5,687.5 776.5,688.5 780.5,690.5 784.5,691.5 788.5,692.5 792.5,694.5 796.5,695.5 800.5,695.5 804.5,695.5 808.5,695.5 812.5,695.5 816.5,695.5 820.5,695.5 824.5,695.5 828.5,696.5 832.5,697.5 836.5,698.5 840.5,699.5 844.5,701.5 848.5,703.5 852.5,704.5 856.5,706.5 860.5,708.5 864.5,709.5 868.5,710.5 872.5,711.5 876.5,711.5 880.5,711.5 884.5,710.5 888.5,709.5 892.5,707.5 896.5,705.5 900.5,701.5 904.5,697.5 908.5,693.5 912.5,688.5 916.5,683.5 920.5,677.5 924.5,671.5 928.5,665.5 932.5,660.5 936.5,656.5 940.5,654.5 944.5,653.5 948.5,653.5 952.5,654.5 956.5,657.5 960.5,663.5 964.5,670.5 968.5,677.5 972.5,685.5 976.5,692.5 980.5,698.5 984.5,703.5 988.5,706.5 992.5,708.5 996.5,707.5 1000.5,706.5 1004.5,703.5 1008.5,700.5 1012.5,698.5 1016.5,696.5 1020.5,696.5 1024.5,696.5 1028.5,696.5 1032.5,697.5 1036.5,698.5 1040.5,698.5 1044.5,698.5 1048.5,697.5 1052.5,696.5 1056.5,695.5 1060.5,694.5 1064.5,693.5 1068.5,693.5 1072.5,693.5 1076.5,693.5 1080.5,693.5 1084.5,694.5 1088.5,695.5 1092.5,696.5 1096.5,696.5 1100.5,696.5 1104.5,696.5 1108.5,696.5 1112.5,694.5 1116.5,693.5 1120.5,692.5 1124.5,690.5 1128.5,690.5 1132.5,689.5 1136.5,688.5 1140.5,688.5 1144.5,688.5 1148.5,689.5 1152.5,690.5 1156.5,691.5 1160.5,691.5 1164.5,691.5 1168.5,691.5 1172.5,690.5 1176.5,689.5 1180.5,688.5 1184.5,687.5 1188.5,685.5 1192.5,684.5 1196.5,682.5 1200.5,680.5 1204.5,678.5 1208.5,676.5 1212.5,674.5 1216.5,672.5 1220.5,668.5 1224.5,665.5 1228.5,661.5 1232.5,657.5 1236.5,653.5 1240.5,650.5 1244.5,647.5 1248.5,644.5 1252.5,642.5 1256.5,641.5 1260.5,641.5 1264.5,641.5 1268.5,642.5" fill="none" stroke="#ff0000" stroke-width="1" shape-rendering="crispEdges" stroke-dasharray="3 3"/>
<g shape-rendering="crispEdges">
<rect x="0" y="0" width="1638" height="23" fill="#f0f0f0"/>
<rect x="0" y="23" width="1638" height="1" fill="#909090"/>
<rect x="0" y="24" width="1638" height="1" fill="#696969"/>
<rect x="0" y="24" width="1" height="718" fill="#696969"/>
<rect x="1" y="25" width="1" height="717" fill="#c0c0c0"/>
<rect x="3" y="27" width="1594" height="1" fill="#000"/>
<rect x="3" y="533" width="1594" height="1" fill="#000"/>
<rect x="3" y="27" width="1" height="507" fill="#000"/>
<rect x="1596" y="27" width="1" height="507" fill="#000"/>
<rect x="3" y="535" width="1594" height="1" fill="#000"/>
<rect x="3" y="627" width="1594" height="1" fill="#000"/>
<rect x="3" y="535" width="1" height="93" fill="#000"/>
<rect x="1596" y="535" width="1" height="93" fill="#000"/>
<rect x="3" y="629" width="1594" height="1" fill="#000"/>
<rect x="3" y="721" width="1594" height="1" fill="#000"/>
<rect x="3" y="629" width="1" height="93" fill="#000"/>
<rect x="1596" y="629" width="1" height="93" fill="#000"/>
</g>
<g shape-rendering="crispEdges">
<rect x="1597" y="36" width="3" height="1" fill="#000"/>
<rect x="1597" y="69" width="3" height="1" fill="#000"/>
<rect x="1597" y="134" width="3" height="1" fill="#000"/>
<rect x="1597" y="167" width="3" height="1" fill="#000"/>
<rect x="1597" y="200" width="3" height="1" fill="#000"/>
<rect x="1597" y="233" width="3" height="1" fill="#000"/>
<rect x="1597" y="300" width="3" height="1" fill="#000"/>
<rect x="1597" y="332" width="3" height="1" fill="#000"/>
<rect x="1597" y="365" width="3" height="1" fill="#000"/>
<rect x="1597" y="398" width="3" height="1" fill="#000"/>
<rect x="1597" y="432" width="3" height="1" fill="#000"/>
<rect x="1597" y="464" width="3" height="1" fill="#000"/>
<rect x="1597" y="497" width="3" height="1" fill="#000"/>
<rect x="1597" y="530" width="3" height="1" fill="#000"/>
</g>
<text x="1602" y="39.3" font-size="9.4" fill="#000" text-anchor="start" textLength="33.6" lengthAdjust="spacingAndGlyphs" >1.15265</text>
<text x="1602" y="72.3" font-size="9.4" fill="#000" text-anchor="start" textLength="33.6" lengthAdjust="spacingAndGlyphs" >1.14650</text>
<text x="1602" y="137.3" font-size="9.4" fill="#000" text-anchor="start" textLength="33.6" lengthAdjust="spacingAndGlyphs" >1.13450</text>
<text x="1602" y="170.3" font-size="9.4" fill="#000" text-anchor="start" textLength="33.6" lengthAdjust="spacingAndGlyphs" >1.12850</text>
<text x="1602" y="203.3" font-size="9.4" fill="#000" text-anchor="start" textLength="33.6" lengthAdjust="spacingAndGlyphs" >1.12235</text>
<text x="1602" y="236.3" font-size="9.4" fill="#000" text-anchor="start" textLength="33.6" lengthAdjust="spacingAndGlyphs" >1.11635</text>
<text x="1602" y="303.3" font-size="9.4" fill="#000" text-anchor="start" textLength="33.6" lengthAdjust="spacingAndGlyphs" >1.10435</text>
<text x="1602" y="335.3" font-size="9.4" fill="#000" text-anchor="start" textLength="33.6" lengthAdjust="spacingAndGlyphs" >1.09820</text>
<text x="1602" y="368.3" font-size="9.4" fill="#000" text-anchor="start" textLength="33.6" lengthAdjust="spacingAndGlyphs" >1.09220</text>
<text x="1602" y="401.3" font-size="9.4" fill="#000" text-anchor="start" textLength="33.6" lengthAdjust="spacingAndGlyphs" >1.08620</text>
<text x="1602" y="435.3" font-size="9.4" fill="#000" text-anchor="start" textLength="33.6" lengthAdjust="spacingAndGlyphs" >1.08020</text>
<text x="1602" y="467.3" font-size="9.4" fill="#000" text-anchor="start" textLength="33.6" lengthAdjust="spacingAndGlyphs" >1.07405</text>
<text x="1602" y="500.3" font-size="9.4" fill="#000" text-anchor="start" textLength="33.6" lengthAdjust="spacingAndGlyphs" >1.06805</text>
<text x="1602" y="533.3" font-size="9.4" fill="#000" text-anchor="start" textLength="33.6" lengthAdjust="spacingAndGlyphs" >1.06205</text>
<text x="1599.6" y="545.8" font-size="9.4" fill="#000" text-anchor="start" >100</text>
<text x="1599.6" y="566.8" font-size="9.4" fill="#000" text-anchor="start" >70</text>
<text x="1599.6" y="602.8" font-size="9.4" fill="#000" text-anchor="start" >30</text>
<text x="1599.6" y="624.1999999999999" font-size="9.4" fill="#000" text-anchor="start" >0</text>
<g shape-rendering="crispEdges">
<rect x="1597" y="537" width="2" height="1" fill="#000"/>
<rect x="1597" y="626" width="2" height="1" fill="#000"/>
<rect x="1597" y="631" width="2" height="1" fill="#000"/>
<rect x="1597" y="684" width="2" height="1" fill="#000"/>
<rect x="1597" y="720" width="2" height="1" fill="#000"/>
</g>
<text x="1600" y="640.0999999999999" font-size="9.4" fill="#000" text-anchor="start" >0.013121</text>
<text x="1600" y="688.0999999999999" font-size="9.4" fill="#000" text-anchor="start" >0.00</text>
<text x="1600" y="718.3" font-size="9.4" fill="#000" text-anchor="start" >-0.008933</text>
<g shape-rendering="crispEdges">
<rect x="1598" y="95" width="40" height="11" fill="#ff0000"/>
<rect x="1598" y="151" width="40" height="11" fill="#ff0000"/>
<rect x="1598" y="171" width="40" height="11" fill="#000000"/>
<rect x="1598" y="207" width="40" height="11" fill="#00ff00"/>
<rect x="1598" y="261" width="40" height="11" fill="#0000ff"/>
<rect x="1598" y="316" width="40" height="11" fill="#0000ff"/>
</g>
<text x="1602" y="103.4" font-size="9.4" fill="#fff" text-anchor="start" textLength="33.6" lengthAdjust="spacingAndGlyphs" >1.14047</text>
<text x="1602" y="160.4" font-size="9.4" fill="#fff" text-anchor="start" textLength="33.6" lengthAdjust="spacingAndGlyphs" >1.13034</text>
<text x="1602" y="179.4" font-size="9.4" fill="#fff" text-anchor="start" textLength="33.6" lengthAdjust="spacingAndGlyphs" >1.12683</text>
<text x="1602" y="216.4" font-size="9.4" fill="#fff" text-anchor="start" textLength="33.6" lengthAdjust="spacingAndGlyphs" >1.12004</text>
<text x="1602" y="269.4" font-size="9.4" fill="#fff" text-anchor="start" textLength="33.6" lengthAdjust="spacingAndGlyphs" >1.11009</text>
<text x="1602" y="325.4" font-size="9.4" fill="#fff" text-anchor="start" textLength="33.6" lengthAdjust="spacingAndGlyphs" >1.10008</text>
<g shape-rendering="crispEdges">
<rect x="3" y="98" width="6" height="6" fill="#ff0000"/>
<rect x="5" y="100" width="2" height="2" fill="#fff"/>
<rect x="1590" y="98" width="6" height="6" fill="#ff0000"/>
<rect x="1592" y="100" width="2" height="2" fill="#fff"/>
<rect x="3" y="210" width="6" height="6" fill="#00ff00"/>
<rect x="5" y="212" width="2" height="2" fill="#fff"/>
<rect x="1590" y="210" width="6" height="6" fill="#00ff00"/>
<rect x="1592" y="212" width="2" height="2" fill="#fff"/>
<rect x="3" y="264" width="6" height="6" fill="#0000ff"/>
<rect x="5" y="266" width="2" height="2" fill="#fff"/>
<rect x="1590" y="264" width="6" height="6" fill="#0000ff"/>
<rect x="1592" y="266" width="2" height="2" fill="#fff"/>
<rect x="3" y="319" width="6" height="6" fill="#0000ff"/>
<rect x="5" y="321" width="2" height="2" fill="#fff"/>
<rect x="1590" y="319" width="6" height="6" fill="#0000ff"/>
<rect x="1592" y="321" width="2" height="2" fill="#fff"/>
</g>
<path d="M1272.5 28 L1280.5 28 L1276.5 33 Z" fill="#c0c0c0"/>
<path d="M7 34 L14 34 L10.5 37.8 Z" fill="#000"/>
<text x="18.4" y="38.7" font-size="9.3" fill="#000" text-anchor="start" textLength="64.6" lengthAdjust="spacingAndGlyphs" >EURUSD,Daily</text>
<text x="88.6" y="38.7" font-size="9.3" fill="#000" text-anchor="start" textLength="141.6" lengthAdjust="spacingAndGlyphs" >1.12565 1.12725 1.12531 1.12683</text>
<text x="7.6" y="547.8" font-size="9.3" fill="#000" text-anchor="start" textLength="68.8" lengthAdjust="spacingAndGlyphs" >RSI(14) 61.3269</text>
<text x="7.8" y="641.8" font-size="9.3" fill="#000" text-anchor="start" textLength="148.4" lengthAdjust="spacingAndGlyphs" >MACD(12,26,9) 0.008462 0.010535</text>
<g shape-rendering="crispEdges">
<rect x="4" y="722" width="1" height="3" fill="#000"/>
<rect x="68" y="722" width="1" height="3" fill="#000"/>
<rect x="132" y="722" width="1" height="3" fill="#000"/>
<rect x="196" y="722" width="1" height="3" fill="#000"/>
<rect x="260" y="722" width="1" height="3" fill="#000"/>
<rect x="324" y="722" width="1" height="3" fill="#000"/>
<rect x="388" y="722" width="1" height="3" fill="#000"/>
<rect x="452" y="722" width="1" height="3" fill="#000"/>
<rect x="516" y="722" width="1" height="3" fill="#000"/>
<rect x="580" y="722" width="1" height="3" fill="#000"/>
<rect x="644" y="722" width="1" height="3" fill="#000"/>
<rect x="708" y="722" width="1" height="3" fill="#000"/>
<rect x="772" y="722" width="1" height="3" fill="#000"/>
<rect x="836" y="722" width="1" height="3" fill="#000"/>
<rect x="900" y="722" width="1" height="3" fill="#000"/>
<rect x="964" y="722" width="1" height="3" fill="#000"/>
<rect x="1028" y="722" width="1" height="3" fill="#000"/>
<rect x="1092" y="722" width="1" height="3" fill="#000"/>
<rect x="1156" y="722" width="1" height="3" fill="#000"/>
<rect x="1220" y="722" width="1" height="3" fill="#000"/>
</g>
<text x="3.1" y="733.7" font-size="9.2" fill="#000" text-anchor="start" textLength="50.5" lengthAdjust="spacingAndGlyphs" >14 Jun 2019</text>
<text x="67.1" y="733.7" font-size="9.2" fill="#000" text-anchor="start" textLength="42.2" lengthAdjust="spacingAndGlyphs" >3 Jul 2019</text>
<text x="131.1" y="733.7" font-size="9.2" fill="#000" text-anchor="start" textLength="47.1" lengthAdjust="spacingAndGlyphs" >22 Jul 2019</text>
<text x="195.1" y="733.7" font-size="9.2" fill="#000" text-anchor="start" textLength="48.0" lengthAdjust="spacingAndGlyphs" >9 Aug 2019</text>
<text x="259.1" y="733.7" font-size="9.2" fill="#000" text-anchor="start" textLength="53.6" lengthAdjust="spacingAndGlyphs" >28 Aug 2019</text>
<text x="323.1" y="733.7" font-size="9.2" fill="#000" text-anchor="start" textLength="52.1" lengthAdjust="spacingAndGlyphs" >16 Sep 2019</text>
<text x="387.1" y="733.7" font-size="9.2" fill="#000" text-anchor="start" textLength="46.7" lengthAdjust="spacingAndGlyphs" >4 Oct 2019</text>
<text x="451.1" y="733.7" font-size="9.2" fill="#000" text-anchor="start" textLength="51.1" lengthAdjust="spacingAndGlyphs" >23 Oct 2019</text>
<text x="515.1" y="733.7" font-size="9.2" fill="#000" text-anchor="start" textLength="52.9" lengthAdjust="spacingAndGlyphs" >11 Nov 2019</text>
<text x="579.1" y="733.7" font-size="9.2" fill="#000" text-anchor="start" textLength="53.9" lengthAdjust="spacingAndGlyphs" >29 Nov 2019</text>
<text x="643.1" y="733.7" font-size="9.2" fill="#000" text-anchor="start" textLength="52.2" lengthAdjust="spacingAndGlyphs" >18 Dec 2019</text>
<text x="707.1" y="733.7" font-size="9.2" fill="#000" text-anchor="start" textLength="45.4" lengthAdjust="spacingAndGlyphs" >6 Jan 2020</text>
<text x="771.1" y="733.7" font-size="9.2" fill="#000" text-anchor="start" textLength="50.4" lengthAdjust="spacingAndGlyphs" >24 Jan 2020</text>
<text x="835.1" y="733.7" font-size="9.2" fill="#000" text-anchor="start" textLength="52.2" lengthAdjust="spacingAndGlyphs" >12 Feb 2020</text>
<text x="899.1" y="733.7" font-size="9.2" fill="#000" text-anchor="start" textLength="46.7" lengthAdjust="spacingAndGlyphs" >2 Mar 2020</text>
<text x="963.1" y="733.7" font-size="9.2" fill="#000" text-anchor="start" textLength="51.5" lengthAdjust="spacingAndGlyphs" >20 Mar 2020</text>
<text x="1027.1" y="733.7" font-size="9.2" fill="#000" text-anchor="start" textLength="45.6" lengthAdjust="spacingAndGlyphs" >8 Apr 2020</text>
<text x="1091.1" y="733.7" font-size="9.2" fill="#000" text-anchor="start" textLength="51.7" lengthAdjust="spacingAndGlyphs" >27 Apr 2020</text>
<text x="1155.1" y="733.7" font-size="9.2" fill="#000" text-anchor="start" textLength="55.1" lengthAdjust="spacingAndGlyphs" >15 May 2020</text>
<text x="1219.1" y="733.7" font-size="9.2" fill="#000" text-anchor="start" textLength="45.2" lengthAdjust="spacingAndGlyphs" >3 Jun 2020</text>
<g shape-rendering="crispEdges">
<rect x="207" y="0" width="24" height="21" fill="#f8f8f8"/>
<rect x="206" y="0" width="1" height="21" fill="#8c8c8c"/>
<rect x="206" y="21" width="26" height="1" fill="#fff"/>
<rect x="231" y="0" width="1" height="21" fill="#fbfbfb"/>
<rect x="289" y="0" width="1" height="22" fill="#8c8c8c"/>
<rect x="290" y="0" width="1" height="22" fill="#fafafa"/>
<rect x="28" y="0" width="1" height="23" fill="#9a9a9a"/>
<rect x="29" y="0" width="2" height="23" fill="#fcfcfc"/>
<rect x="0" y="22" width="1638" height="1" fill="#d4d4d4"/>
<rect x="32" y="1" width="3" height="1" fill="#a0a0a0"/>
<rect x="32" y="3" width="3" height="1" fill="#a0a0a0"/>
<rect x="32" y="5" width="3" height="1" fill="#a0a0a0"/>
<rect x="32" y="7" width="3" height="1" fill="#a0a0a0"/>
<rect x="32" y="9" width="3" height="1" fill="#a0a0a0"/>
<rect x="32" y="11" width="3" height="1" fill="#a0a0a0"/>
<rect x="32" y="13" width="3" height="1" fill="#a0a0a0"/>
<rect x="32" y="15" width="3" height="1" fill="#a0a0a0"/>
<rect x="32" y="17" width="3" height="1" fill="#a0a0a0"/>
<rect x="32" y="19" width="3" height="1" fill="#a0a0a0"/>
</g>
<text x="42.699999999999996" y="15" font-size="9.8" fill="#2a2a2a" text-anchor="start" textLength="14.2" lengthAdjust="spacingAndGlyphs" >M1</text>
<text x="70.7" y="15" font-size="9.8" fill="#2a2a2a" text-anchor="start" textLength="14.0" lengthAdjust="spacingAndGlyphs" >M5</text>
<text x="96.7" y="15" font-size="9.8" fill="#2a2a2a" text-anchor="start" textLength="18.8" lengthAdjust="spacingAndGlyphs" >M15</text>
<text x="124.8" y="15" font-size="9.8" fill="#2a2a2a" text-anchor="start" textLength="18.6" lengthAdjust="spacingAndGlyphs" >M30</text>
<text x="155.9" y="15" font-size="9.8" fill="#2a2a2a" text-anchor="start" textLength="12.6" lengthAdjust="spacingAndGlyphs" >H1</text>
<text x="183.0" y="15" font-size="9.8" fill="#2a2a2a" text-anchor="start" textLength="13.5" lengthAdjust="spacingAndGlyphs" >H4</text>
<text x="211.8" y="15" font-size="9.8" fill="#2a2a2a" text-anchor="start" textLength="13.1" lengthAdjust="spacingAndGlyphs" >D1</text>
<text x="239.3" y="15" font-size="9.8" fill="#2a2a2a" text-anchor="start" textLength="14.9" lengthAdjust="spacingAndGlyphs" >W1</text>
<text x="265.8" y="15" font-size="9.8" fill="#2a2a2a" text-anchor="start" textLength="15.7" lengthAdjust="spacingAndGlyphs" >MN</text>
<path d="M16.8 10 L22.4 10 L19.6 13 Z" fill="#222"/>
<path d="M0 6 L2.8 8.2 L0 9.3 Z" fill="#4a4a4a"/><path d="M5.2 9.6 L0 14.6" stroke="#4a4a4a" stroke-width="1.1" fill="none"/><path d="M3.1 14.3 L4.8 13.2 L8 13.2 L10 14.3 L6.4 17.9 Z" fill="#4a4a4a"/>
<g shape-rendering="crispEdges">
<rect x="0" y="742" width="1638" height="1" fill="#e8e8e8"/>
<rect x="0" y="743" width="1638" height="25" fill="#f0f0f0"/>
<rect x="0" y="744" width="1638" height="1" fill="#000"/>
<rect x="0" y="763" width="1638" height="2" fill="#fbfbfb"/>
<rect x="5" y="743" width="104" height="20" fill="#fff"/>
<rect x="5" y="744" width="1" height="19" fill="#000"/>
<rect x="108" y="744" width="1" height="19" fill="#000"/>
<rect x="5" y="762" width="104" height="1" fill="#000"/>
<rect x="0" y="745" width="1" height="18" fill="#000"/>
</g>
<text x="16.8" y="758.8" font-size="12" fill="#000" text-anchor="start" textLength="81.0" lengthAdjust="spacingAndGlyphs" >EURUSD,Daily</text>
<text x="118" y="759" font-size="12" fill="#6e6e6e" text-anchor="start" textLength="80.9" lengthAdjust="spacingAndGlyphs" >USDCHF,Daily</text>
<text x="218.8" y="759" font-size="12" fill="#6e6e6e" text-anchor="start" textLength="84.0" lengthAdjust="spacingAndGlyphs" >AUDUSD,Daily</text>
<text x="322.8" y="759" font-size="12" fill="#6e6e6e" text-anchor="start" textLength="82.9" lengthAdjust="spacingAndGlyphs" >USDCAD,Daily</text>
<text x="426.4" y="759" font-size="12" fill="#6e6e6e" text-anchor="start" textLength="84.2" lengthAdjust="spacingAndGlyphs" >USDCNH,Daily</text>
<text x="532.3" y="759" font-size="12" fill="#6e6e6e" text-anchor="start" textLength="81.1" lengthAdjust="spacingAndGlyphs" >EURUSD,Daily</text>
<text x="636.4" y="759" font-size="12" fill="#6e6e6e" text-anchor="start" textLength="69.3" lengthAdjust="spacingAndGlyphs" >GBPUSD,H4</text>
<text x="727" y="759" font-size="12" fill="#6e6e6e" text-anchor="start" textLength="70.0" lengthAdjust="spacingAndGlyphs" >XAUUSD,H1</text>
<text x="819.3" y="759" font-size="12" fill="#6e6e6e" text-anchor="start" textLength="50.5" lengthAdjust="spacingAndGlyphs" >HK50,H1</text>
<text x="891.1" y="759" font-size="12" fill="#6e6e6e" text-anchor="start" textLength="58.0" lengthAdjust="spacingAndGlyphs" >UK100,H1</text>
<text x="971.5" y="759" font-size="12" fill="#6e6e6e" text-anchor="start" textLength="57.3" lengthAdjust="spacingAndGlyphs" >UK100,H1</text>
<text x="1050.8" y="759" font-size="12" fill="#6e6e6e" text-anchor="start" textLength="58.8" lengthAdjust="spacingAndGlyphs" >GER30,H1</text>
<text x="1130.1" y="759" font-size="12" fill="#6e6e6e" text-anchor="start" textLength="56.1" lengthAdjust="spacingAndGlyphs" >FRA40,H1</text>
<text x="1206.1" y="759" font-size="12" fill="#6e6e6e" text-anchor="start" textLength="52.4" lengthAdjust="spacingAndGlyphs" >USOil,H4</text>
<text x="1278.3" y="759" font-size="12" fill="#6e6e6e" text-anchor="start" textLength="64.0" lengthAdjust="spacingAndGlyphs" >USDJPY,H1</text>
<text x="1362.5" y="759" font-size="12" fill="#6e6e6e" text-anchor="start" textLength="59.8" lengthAdjust="spacingAndGlyphs" >DJ30,Daily</text>
<g shape-rendering="crispEdges">
<rect x="209" y="747" width="1" height="14" fill="#6e6e6e"/>
<rect x="313" y="747" width="1" height="14" fill="#6e6e6e"/>
<rect x="417" y="747" width="1" height="14" fill="#6e6e6e"/>
<rect x="521" y="747" width="1" height="14" fill="#6e6e6e"/>
<rect x="626" y="747" width="1" height="14" fill="#6e6e6e"/>
<rect x="717" y="747" width="1" height="14" fill="#6e6e6e"/>
<rect x="809" y="747" width="1" height="14" fill="#6e6e6e"/>
<rect x="881" y="747" width="1" height="14" fill="#6e6e6e"/>
<rect x="961" y="747" width="1" height="14" fill="#6e6e6e"/>
<rect x="1041" y="747" width="1" height="14" fill="#6e6e6e"/>
<rect x="1121" y="747" width="1" height="14" fill="#6e6e6e"/>
<rect x="1197" y="747" width="1" height="14" fill="#6e6e6e"/>
<rect x="1270" y="747" width="1" height="14" fill="#6e6e6e"/>
<rect x="1354" y="747" width="1" height="14" fill="#6e6e6e"/>
<rect x="1434" y="747" width="1" height="14" fill="#6e6e6e"/>
</g>
<path d="M1615 749 L1615 756 L1611.5 752.5 Z" fill="#8a8a8a"/><path d="M1631 749 L1631 756 L1634.5 752.5 Z" fill="#8a8a8a"/>
</svg>
</body></html>
